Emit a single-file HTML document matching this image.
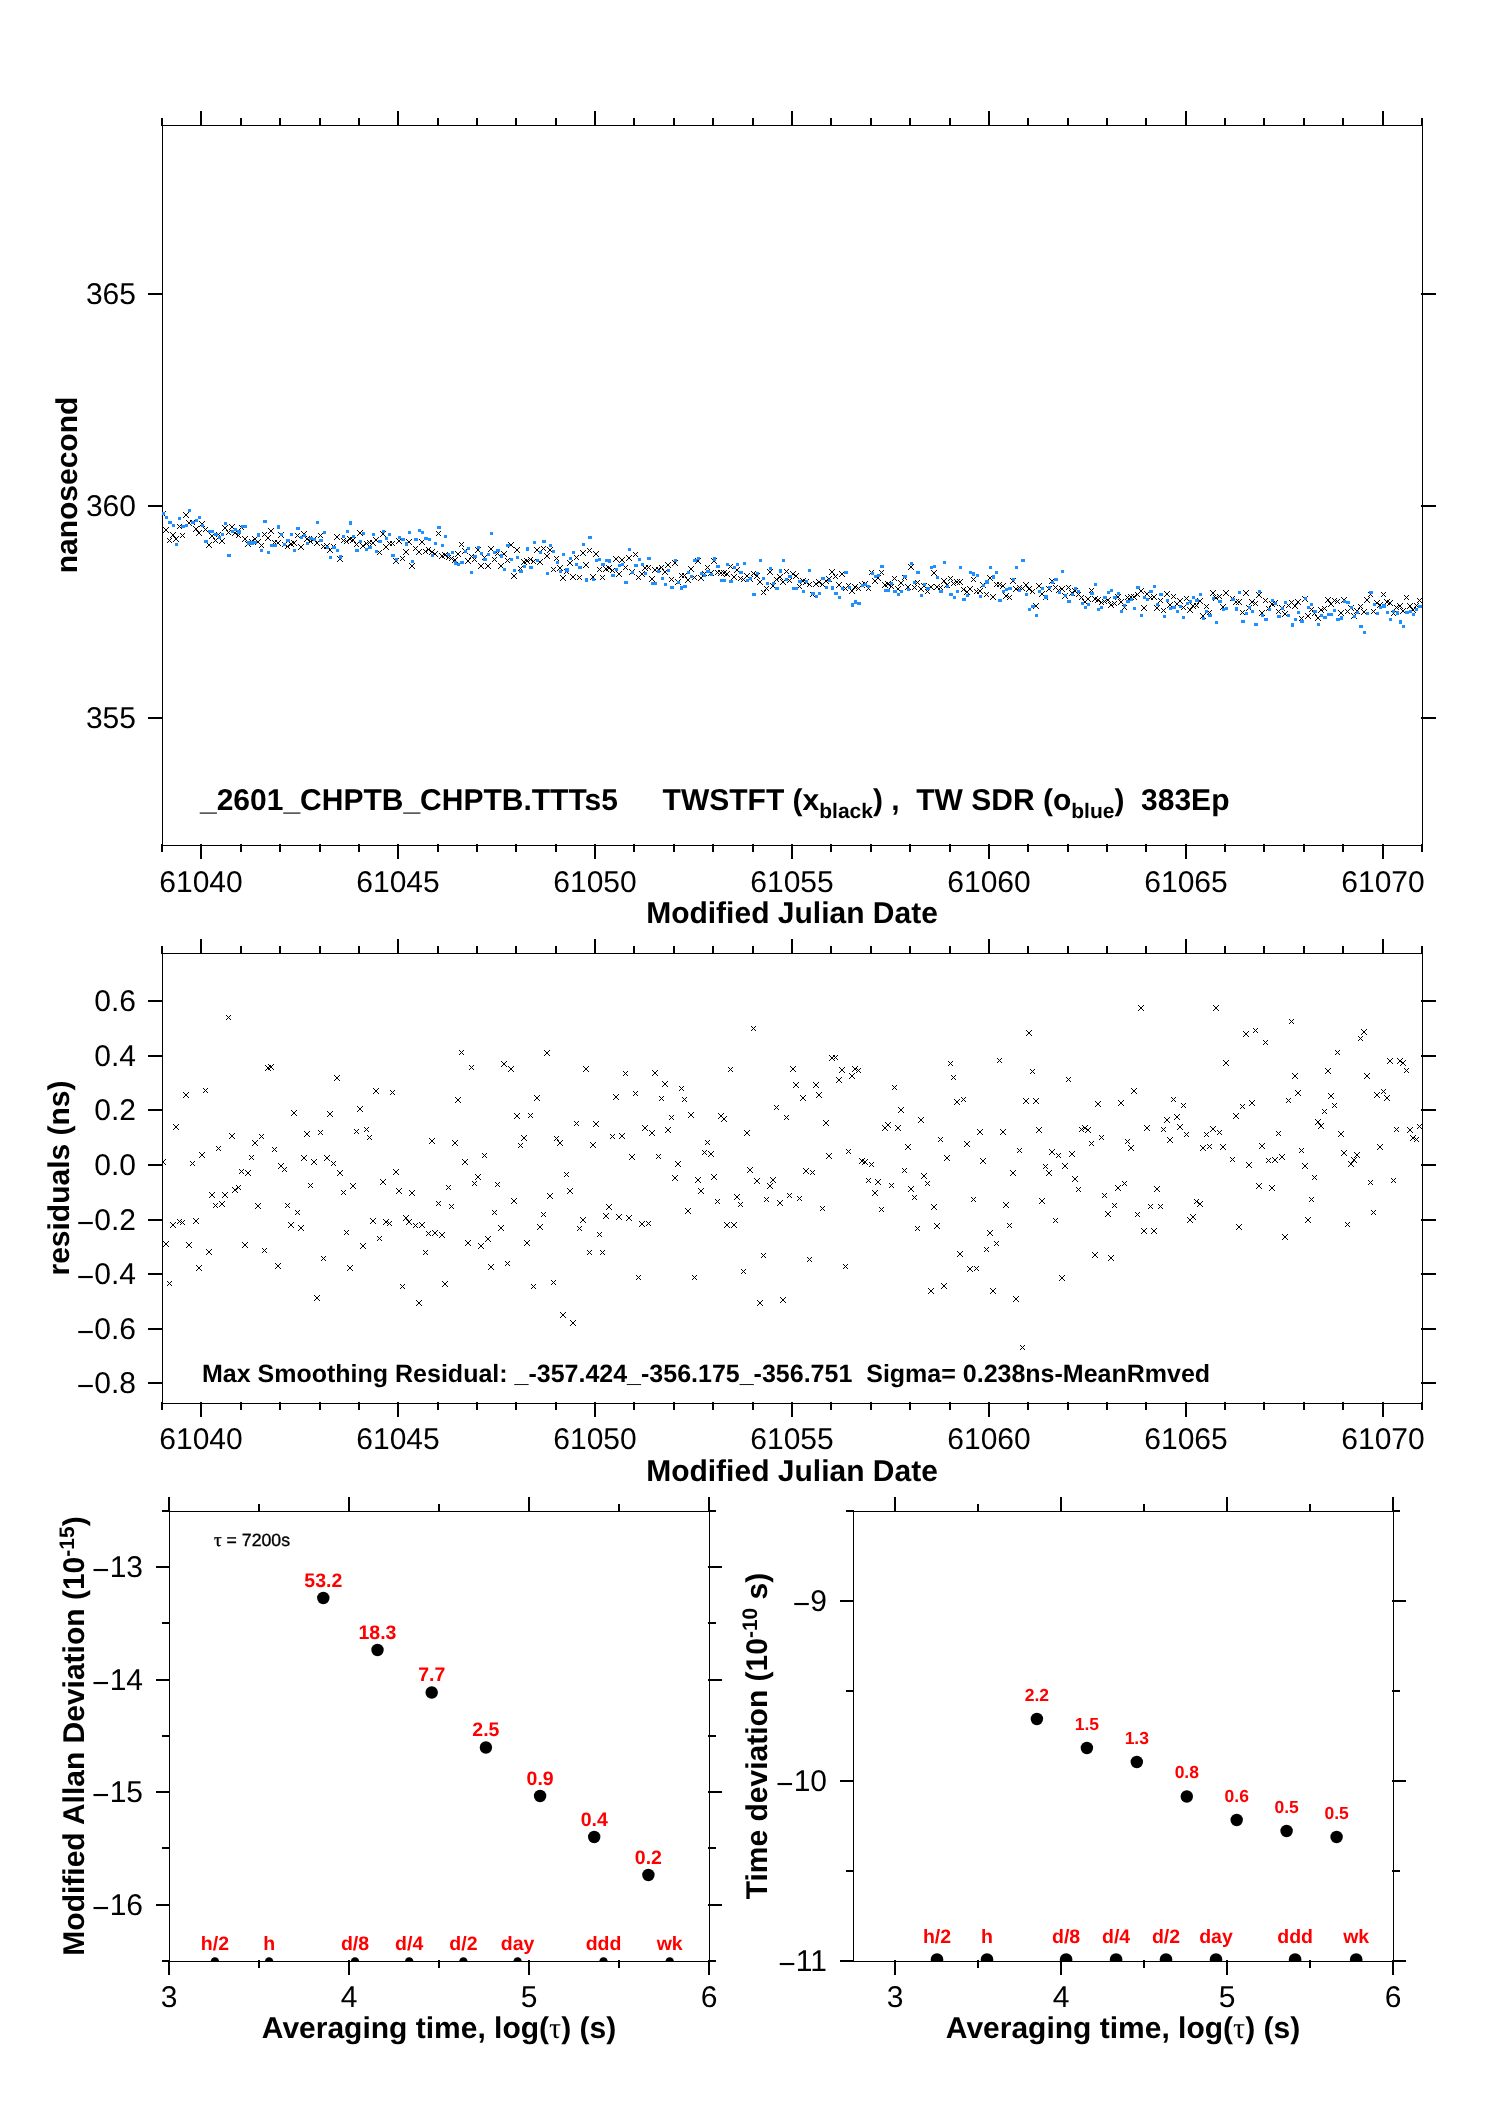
<!DOCTYPE html>
<html lang="en"><head><meta charset="utf-8"><title>TWSTFT link plot</title>
<style>html,body{margin:0;padding:0;background:#fff;overflow:hidden}svg{display:block;will-change:transform}text{white-space:pre;text-rendering:geometricPrecision}</style></head>
<body>
<svg width="1488" height="2105" viewBox="0 0 1488 2105" font-family='"Liberation Sans", Arial, Helvetica, sans-serif' shape-rendering="crispEdges">
<rect x="0" y="0" width="1488" height="2105" fill="#fff"/>
<g id="p1">
<rect x="162" y="125" width="1261" height="1" fill="#000"/>
<rect x="162" y="845" width="1261" height="1" fill="#000"/>
<rect x="162" y="125" width="1" height="721" fill="#000"/>
<rect x="1422" y="125" width="1" height="721" fill="#000"/>
<clipPath id="c1"><rect x="162" y="125" width="1261" height="721"/></clipPath>
<g id="p1data" clip-path="url(#c1)"><path fill="#000" d="M160 511h1v1h-1zm5 0h1v1h-1zm-4 1h1v1h-1zm3 0h1v1h-1zm-2 1h1v1h-1zm1 0h1v1h-1zm-1 1h1v1h-1zm1 0h1v1h-1zm-2 1h1v1h-1zm3 0h1v1h-1zm-4 1h1v1h-1zm5 0h1v1h-1zM163 527h1v1h-1zm5 0h1v1h-1zm-4 1h1v1h-1zm3 0h1v1h-1zm-2 1h1v1h-1zm1 0h1v1h-1zm-1 1h1v1h-1zm1 0h1v1h-1zm-2 1h1v1h-1zm3 0h1v1h-1zm-4 1h1v1h-1zm5 0h1v1h-1zM167 538h1v1h-1zm4 0h1v1h-1zm-3 1h1v1h-1zm2 0h1v1h-1zm-1 1h1v1h-1zm-1 1h1v1h-1zm2 0h1v1h-1zm-3 1h1v1h-1zm4 0h1v1h-1zM170 532h1v1h-1zm5 0h1v1h-1zm-4 1h1v1h-1zm3 0h1v1h-1zm-2 1h1v1h-1zm1 0h1v1h-1zm-1 1h1v1h-1zm1 0h1v1h-1zm-2 1h1v1h-1zm3 0h1v1h-1zm-4 1h1v1h-1zm5 0h1v1h-1zM173 536h1v1h-1zm5 0h1v1h-1zm-4 1h1v1h-1zm3 0h1v1h-1zm-2 1h1v1h-1zm1 0h1v1h-1zm-1 1h1v1h-1zm1 0h1v1h-1zm-2 1h1v1h-1zm3 0h1v1h-1zm-4 1h1v1h-1zm5 0h1v1h-1zM177 524h1v1h-1zm4 0h1v1h-1zm-3 1h1v1h-1zm2 0h1v1h-1zm-1 1h1v1h-1zm-1 1h1v1h-1zm2 0h1v1h-1zm-3 1h1v1h-1zm4 0h1v1h-1zM180 533h1v1h-1zm4 0h1v1h-1zm-3 1h1v1h-1zm2 0h1v1h-1zm-1 1h1v1h-1zm-1 1h1v1h-1zm2 0h1v1h-1zm-3 1h1v1h-1zm4 0h1v1h-1zM183 512h1v1h-1zm5 0h1v1h-1zm-4 1h1v1h-1zm3 0h1v1h-1zm-2 1h1v1h-1zm1 0h1v1h-1zm-1 1h1v1h-1zm1 0h1v1h-1zm-2 1h1v1h-1zm3 0h1v1h-1zm-4 1h1v1h-1zm5 0h1v1h-1zM186 520h1v1h-1zm5 0h1v1h-1zm-4 1h1v1h-1zm3 0h1v1h-1zm-2 1h1v1h-1zm1 0h1v1h-1zm-1 1h1v1h-1zm1 0h1v1h-1zm-2 1h1v1h-1zm3 0h1v1h-1zm-4 1h1v1h-1zm5 0h1v1h-1zM190 520h1v1h-1zm4 0h1v1h-1zm-3 1h1v1h-1zm2 0h1v1h-1zm-1 1h1v1h-1zm-1 1h1v1h-1zm2 0h1v1h-1zm-3 1h1v1h-1zm4 0h1v1h-1zM193 526h1v1h-1zm5 0h1v1h-1zm-4 1h1v1h-1zm3 0h1v1h-1zm-2 1h1v1h-1zm1 0h1v1h-1zm-1 1h1v1h-1zm1 0h1v1h-1zm-2 1h1v1h-1zm3 0h1v1h-1zm-4 1h1v1h-1zm5 0h1v1h-1zM196 530h1v1h-1zm5 0h1v1h-1zm-4 1h1v1h-1zm3 0h1v1h-1zm-2 1h1v1h-1zm1 0h1v1h-1zm-1 1h1v1h-1zm1 0h1v1h-1zm-2 1h1v1h-1zm3 0h1v1h-1zm-4 1h1v1h-1zm5 0h1v1h-1zM199 521h1v1h-1zm5 0h1v1h-1zm-4 1h1v1h-1zm3 0h1v1h-1zm-2 1h1v1h-1zm1 0h1v1h-1zm-1 1h1v1h-1zm1 0h1v1h-1zm-2 1h1v1h-1zm3 0h1v1h-1zm-4 1h1v1h-1zm5 0h1v1h-1zM203 527h1v1h-1zm4 0h1v1h-1zm-3 1h1v1h-1zm2 0h1v1h-1zm-1 1h1v1h-1zm-1 1h1v1h-1zm2 0h1v1h-1zm-3 1h1v1h-1zm4 0h1v1h-1zM206 542h1v1h-1zm5 0h1v1h-1zm-4 1h1v1h-1zm3 0h1v1h-1zm-2 1h1v1h-1zm1 0h1v1h-1zm-1 1h1v1h-1zm1 0h1v1h-1zm-2 1h1v1h-1zm3 0h1v1h-1zm-4 1h1v1h-1zm5 0h1v1h-1zM209 533h1v1h-1zm5 0h1v1h-1zm-4 1h1v1h-1zm3 0h1v1h-1zm-2 1h1v1h-1zm1 0h1v1h-1zm-1 1h1v1h-1zm1 0h1v1h-1zm-2 1h1v1h-1zm3 0h1v1h-1zm-4 1h1v1h-1zm5 0h1v1h-1zM213 538h1v1h-1zm4 0h1v1h-1zm-3 1h1v1h-1zm2 0h1v1h-1zm-1 1h1v1h-1zm-1 1h1v1h-1zm2 0h1v1h-1zm-3 1h1v1h-1zm4 0h1v1h-1zM216 532h1v1h-1zm4 0h1v1h-1zm-3 1h1v1h-1zm2 0h1v1h-1zm-1 1h1v1h-1zm-1 1h1v1h-1zm2 0h1v1h-1zm-3 1h1v1h-1zm4 0h1v1h-1zM219 538h1v1h-1zm5 0h1v1h-1zm-4 1h1v1h-1zm3 0h1v1h-1zm-2 1h1v1h-1zm1 0h1v1h-1zm-1 1h1v1h-1zm1 0h1v1h-1zm-2 1h1v1h-1zm3 0h1v1h-1zm-4 1h1v1h-1zm5 0h1v1h-1zM222 525h1v1h-1zm5 0h1v1h-1zm-4 1h1v1h-1zm3 0h1v1h-1zm-2 1h1v1h-1zm1 0h1v1h-1zm-1 1h1v1h-1zm1 0h1v1h-1zm-2 1h1v1h-1zm3 0h1v1h-1zm-4 1h1v1h-1zm5 0h1v1h-1zM226 530h1v1h-1zm4 0h1v1h-1zm-3 1h1v1h-1zm2 0h1v1h-1zm-1 1h1v1h-1zm-1 1h1v1h-1zm2 0h1v1h-1zm-3 1h1v1h-1zm4 0h1v1h-1zM229 524h1v1h-1zm5 0h1v1h-1zm-4 1h1v1h-1zm3 0h1v1h-1zm-2 1h1v1h-1zm1 0h1v1h-1zm-1 1h1v1h-1zm1 0h1v1h-1zm-2 1h1v1h-1zm3 0h1v1h-1zm-4 1h1v1h-1zm5 0h1v1h-1zM232 530h1v1h-1zm5 0h1v1h-1zm-4 1h1v1h-1zm3 0h1v1h-1zm-2 1h1v1h-1zm1 0h1v1h-1zm-1 1h1v1h-1zm1 0h1v1h-1zm-2 1h1v1h-1zm3 0h1v1h-1zm-4 1h1v1h-1zm5 0h1v1h-1zM236 533h1v1h-1zm4 0h1v1h-1zm-3 1h1v1h-1zm2 0h1v1h-1zm-1 1h1v1h-1zm-1 1h1v1h-1zm2 0h1v1h-1zm-3 1h1v1h-1zm4 0h1v1h-1zM239 525h1v1h-1zm4 0h1v1h-1zm-3 1h1v1h-1zm2 0h1v1h-1zm-1 1h1v1h-1zm-1 1h1v1h-1zm2 0h1v1h-1zm-3 1h1v1h-1zm4 0h1v1h-1zM242 536h1v1h-1zm5 0h1v1h-1zm-4 1h1v1h-1zm3 0h1v1h-1zm-2 1h1v1h-1zm1 0h1v1h-1zm-1 1h1v1h-1zm1 0h1v1h-1zm-2 1h1v1h-1zm3 0h1v1h-1zm-4 1h1v1h-1zm5 0h1v1h-1zM245 541h1v1h-1zm5 0h1v1h-1zm-4 1h1v1h-1zm3 0h1v1h-1zm-2 1h1v1h-1zm1 0h1v1h-1zm-1 1h1v1h-1zm1 0h1v1h-1zm-2 1h1v1h-1zm3 0h1v1h-1zm-4 1h1v1h-1zm5 0h1v1h-1zM249 539h1v1h-1zm4 0h1v1h-1zm-3 1h1v1h-1zm2 0h1v1h-1zm-1 1h1v1h-1zm-1 1h1v1h-1zm2 0h1v1h-1zm-3 1h1v1h-1zm4 0h1v1h-1zM252 536h1v1h-1zm5 0h1v1h-1zm-4 1h1v1h-1zm3 0h1v1h-1zm-2 1h1v1h-1zm1 0h1v1h-1zm-1 1h1v1h-1zm1 0h1v1h-1zm-2 1h1v1h-1zm3 0h1v1h-1zm-4 1h1v1h-1zm5 0h1v1h-1zM255 539h1v1h-1zm5 0h1v1h-1zm-4 1h1v1h-1zm3 0h1v1h-1zm-2 1h1v1h-1zm1 0h1v1h-1zm-1 1h1v1h-1zm1 0h1v1h-1zm-2 1h1v1h-1zm3 0h1v1h-1zm-4 1h1v1h-1zm5 0h1v1h-1zM259 543h1v1h-1zm4 0h1v1h-1zm-3 1h1v1h-1zm2 0h1v1h-1zm-1 1h1v1h-1zm-1 1h1v1h-1zm2 0h1v1h-1zm-3 1h1v1h-1zm4 0h1v1h-1zM262 532h1v1h-1zm4 0h1v1h-1zm-3 1h1v1h-1zm2 0h1v1h-1zm-1 1h1v1h-1zm-1 1h1v1h-1zm2 0h1v1h-1zm-3 1h1v1h-1zm4 0h1v1h-1zM265 535h1v1h-1zm5 0h1v1h-1zm-4 1h1v1h-1zm3 0h1v1h-1zm-2 1h1v1h-1zm1 0h1v1h-1zm-1 1h1v1h-1zm1 0h1v1h-1zm-2 1h1v1h-1zm3 0h1v1h-1zm-4 1h1v1h-1zm5 0h1v1h-1zM268 528h1v1h-1zm5 0h1v1h-1zm-4 1h1v1h-1zm3 0h1v1h-1zm-2 1h1v1h-1zm1 0h1v1h-1zm-1 1h1v1h-1zm1 0h1v1h-1zm-2 1h1v1h-1zm3 0h1v1h-1zm-4 1h1v1h-1zm5 0h1v1h-1zM272 540h1v1h-1zm4 0h1v1h-1zm-3 1h1v1h-1zm2 0h1v1h-1zm-1 1h1v1h-1zm-1 1h1v1h-1zm2 0h1v1h-1zm-3 1h1v1h-1zm4 0h1v1h-1zM275 540h1v1h-1zm5 0h1v1h-1zm-4 1h1v1h-1zm3 0h1v1h-1zm-2 1h1v1h-1zm1 0h1v1h-1zm-1 1h1v1h-1zm1 0h1v1h-1zm-2 1h1v1h-1zm3 0h1v1h-1zm-4 1h1v1h-1zm5 0h1v1h-1zM278 532h1v1h-1zm5 0h1v1h-1zm-4 1h1v1h-1zm3 0h1v1h-1zm-2 1h1v1h-1zm1 0h1v1h-1zm-1 1h1v1h-1zm1 0h1v1h-1zm-2 1h1v1h-1zm3 0h1v1h-1zm-4 1h1v1h-1zm5 0h1v1h-1zM282 542h1v1h-1zm4 0h1v1h-1zm-3 1h1v1h-1zm2 0h1v1h-1zm-1 1h1v1h-1zm-1 1h1v1h-1zm2 0h1v1h-1zm-3 1h1v1h-1zm4 0h1v1h-1zM285 544h1v1h-1zm4 0h1v1h-1zm-3 1h1v1h-1zm2 0h1v1h-1zm-1 1h1v1h-1zm-1 1h1v1h-1zm2 0h1v1h-1zm-3 1h1v1h-1zm4 0h1v1h-1zM288 541h1v1h-1zm5 0h1v1h-1zm-4 1h1v1h-1zm3 0h1v1h-1zm-2 1h1v1h-1zm1 0h1v1h-1zm-1 1h1v1h-1zm1 0h1v1h-1zm-2 1h1v1h-1zm3 0h1v1h-1zm-4 1h1v1h-1zm5 0h1v1h-1zM291 540h1v1h-1zm5 0h1v1h-1zm-4 1h1v1h-1zm3 0h1v1h-1zm-2 1h1v1h-1zm1 0h1v1h-1zm-1 1h1v1h-1zm1 0h1v1h-1zm-2 1h1v1h-1zm3 0h1v1h-1zm-4 1h1v1h-1zm5 0h1v1h-1zM295 533h1v1h-1zm4 0h1v1h-1zm-3 1h1v1h-1zm2 0h1v1h-1zm-1 1h1v1h-1zm-1 1h1v1h-1zm2 0h1v1h-1zm-3 1h1v1h-1zm4 0h1v1h-1zM298 544h1v1h-1zm5 0h1v1h-1zm-4 1h1v1h-1zm3 0h1v1h-1zm-2 1h1v1h-1zm1 0h1v1h-1zm-1 1h1v1h-1zm1 0h1v1h-1zm-2 1h1v1h-1zm3 0h1v1h-1zm-4 1h1v1h-1zm5 0h1v1h-1zM301 531h1v1h-1zm5 0h1v1h-1zm-4 1h1v1h-1zm3 0h1v1h-1zm-2 1h1v1h-1zm1 0h1v1h-1zm-1 1h1v1h-1zm1 0h1v1h-1zm-2 1h1v1h-1zm3 0h1v1h-1zm-4 1h1v1h-1zm5 0h1v1h-1zM304 536h1v1h-1zm5 0h1v1h-1zm-4 1h1v1h-1zm3 0h1v1h-1zm-2 1h1v1h-1zm1 0h1v1h-1zm-1 1h1v1h-1zm1 0h1v1h-1zm-2 1h1v1h-1zm3 0h1v1h-1zm-4 1h1v1h-1zm5 0h1v1h-1zM308 539h1v1h-1zm4 0h1v1h-1zm-3 1h1v1h-1zm2 0h1v1h-1zm-1 1h1v1h-1zm-1 1h1v1h-1zm2 0h1v1h-1zm-3 1h1v1h-1zm4 0h1v1h-1zM311 536h1v1h-1zm5 0h1v1h-1zm-4 1h1v1h-1zm3 0h1v1h-1zm-2 1h1v1h-1zm1 0h1v1h-1zm-1 1h1v1h-1zm1 0h1v1h-1zm-2 1h1v1h-1zm3 0h1v1h-1zm-4 1h1v1h-1zm5 0h1v1h-1zM314 540h1v1h-1zm5 0h1v1h-1zm-4 1h1v1h-1zm3 0h1v1h-1zm-2 1h1v1h-1zm1 0h1v1h-1zm-1 1h1v1h-1zm1 0h1v1h-1zm-2 1h1v1h-1zm3 0h1v1h-1zm-4 1h1v1h-1zm5 0h1v1h-1zM318 533h1v1h-1zm4 0h1v1h-1zm-3 1h1v1h-1zm2 0h1v1h-1zm-1 1h1v1h-1zm-1 1h1v1h-1zm2 0h1v1h-1zm-3 1h1v1h-1zm4 0h1v1h-1zM321 544h1v1h-1zm4 0h1v1h-1zm-3 1h1v1h-1zm2 0h1v1h-1zm-1 1h1v1h-1zm-1 1h1v1h-1zm2 0h1v1h-1zm-3 1h1v1h-1zm4 0h1v1h-1zM324 543h1v1h-1zm5 0h1v1h-1zm-4 1h1v1h-1zm3 0h1v1h-1zm-2 1h1v1h-1zm1 0h1v1h-1zm-1 1h1v1h-1zm1 0h1v1h-1zm-2 1h1v1h-1zm3 0h1v1h-1zm-4 1h1v1h-1zm5 0h1v1h-1zM327 547h1v1h-1zm5 0h1v1h-1zm-4 1h1v1h-1zm3 0h1v1h-1zm-2 1h1v1h-1zm1 0h1v1h-1zm-1 1h1v1h-1zm1 0h1v1h-1zm-2 1h1v1h-1zm3 0h1v1h-1zm-4 1h1v1h-1zm5 0h1v1h-1zM331 544h1v1h-1zm4 0h1v1h-1zm-3 1h1v1h-1zm2 0h1v1h-1zm-1 1h1v1h-1zm-1 1h1v1h-1zm2 0h1v1h-1zm-3 1h1v1h-1zm4 0h1v1h-1zM334 534h1v1h-1zm5 0h1v1h-1zm-4 1h1v1h-1zm3 0h1v1h-1zm-2 1h1v1h-1zm1 0h1v1h-1zm-1 1h1v1h-1zm1 0h1v1h-1zm-2 1h1v1h-1zm3 0h1v1h-1zm-4 1h1v1h-1zm5 0h1v1h-1zM337 556h1v1h-1zm5 0h1v1h-1zm-4 1h1v1h-1zm3 0h1v1h-1zm-2 1h1v1h-1zm1 0h1v1h-1zm-1 1h1v1h-1zm1 0h1v1h-1zm-2 1h1v1h-1zm3 0h1v1h-1zm-4 1h1v1h-1zm5 0h1v1h-1zM341 538h1v1h-1zm4 0h1v1h-1zm-3 1h1v1h-1zm2 0h1v1h-1zm-1 1h1v1h-1zm-1 1h1v1h-1zm2 0h1v1h-1zm-3 1h1v1h-1zm4 0h1v1h-1zM344 539h1v1h-1zm4 0h1v1h-1zm-3 1h1v1h-1zm2 0h1v1h-1zm-1 1h1v1h-1zm-1 1h1v1h-1zm2 0h1v1h-1zm-3 1h1v1h-1zm4 0h1v1h-1zM347 536h1v1h-1zm5 0h1v1h-1zm-4 1h1v1h-1zm3 0h1v1h-1zm-2 1h1v1h-1zm1 0h1v1h-1zm-1 1h1v1h-1zm1 0h1v1h-1zm-2 1h1v1h-1zm3 0h1v1h-1zm-4 1h1v1h-1zm5 0h1v1h-1zM350 537h1v1h-1zm5 0h1v1h-1zm-4 1h1v1h-1zm3 0h1v1h-1zm-2 1h1v1h-1zm1 0h1v1h-1zm-1 1h1v1h-1zm1 0h1v1h-1zm-2 1h1v1h-1zm3 0h1v1h-1zm-4 1h1v1h-1zm5 0h1v1h-1zM354 542h1v1h-1zm4 0h1v1h-1zm-3 1h1v1h-1zm2 0h1v1h-1zm-1 1h1v1h-1zm-1 1h1v1h-1zm2 0h1v1h-1zm-3 1h1v1h-1zm4 0h1v1h-1zM357 530h1v1h-1zm5 0h1v1h-1zm-4 1h1v1h-1zm3 0h1v1h-1zm-2 1h1v1h-1zm1 0h1v1h-1zm-1 1h1v1h-1zm1 0h1v1h-1zm-2 1h1v1h-1zm3 0h1v1h-1zm-4 1h1v1h-1zm5 0h1v1h-1zM360 543h1v1h-1zm5 0h1v1h-1zm-4 1h1v1h-1zm3 0h1v1h-1zm-2 1h1v1h-1zm1 0h1v1h-1zm-1 1h1v1h-1zm1 0h1v1h-1zm-2 1h1v1h-1zm3 0h1v1h-1zm-4 1h1v1h-1zm5 0h1v1h-1zM364 541h1v1h-1zm4 0h1v1h-1zm-3 1h1v1h-1zm2 0h1v1h-1zm-1 1h1v1h-1zm-1 1h1v1h-1zm2 0h1v1h-1zm-3 1h1v1h-1zm4 0h1v1h-1zM367 540h1v1h-1zm4 0h1v1h-1zm-3 1h1v1h-1zm2 0h1v1h-1zm-1 1h1v1h-1zm-1 1h1v1h-1zm2 0h1v1h-1zm-3 1h1v1h-1zm4 0h1v1h-1zM370 540h1v1h-1zm5 0h1v1h-1zm-4 1h1v1h-1zm3 0h1v1h-1zm-2 1h1v1h-1zm1 0h1v1h-1zm-1 1h1v1h-1zm1 0h1v1h-1zm-2 1h1v1h-1zm3 0h1v1h-1zm-4 1h1v1h-1zm5 0h1v1h-1zM373 537h1v1h-1zm5 0h1v1h-1zm-4 1h1v1h-1zm3 0h1v1h-1zm-2 1h1v1h-1zm1 0h1v1h-1zm-1 1h1v1h-1zm1 0h1v1h-1zm-2 1h1v1h-1zm3 0h1v1h-1zm-4 1h1v1h-1zm5 0h1v1h-1zM377 550h1v1h-1zm4 0h1v1h-1zm-3 1h1v1h-1zm2 0h1v1h-1zm-1 1h1v1h-1zm-1 1h1v1h-1zm2 0h1v1h-1zm-3 1h1v1h-1zm4 0h1v1h-1zM380 531h1v1h-1zm5 0h1v1h-1zm-4 1h1v1h-1zm3 0h1v1h-1zm-2 1h1v1h-1zm1 0h1v1h-1zm-1 1h1v1h-1zm1 0h1v1h-1zm-2 1h1v1h-1zm3 0h1v1h-1zm-4 1h1v1h-1zm5 0h1v1h-1zM383 544h1v1h-1zm5 0h1v1h-1zm-4 1h1v1h-1zm3 0h1v1h-1zm-2 1h1v1h-1zm1 0h1v1h-1zm-1 1h1v1h-1zm1 0h1v1h-1zm-2 1h1v1h-1zm3 0h1v1h-1zm-4 1h1v1h-1zm5 0h1v1h-1zM387 541h1v1h-1zm4 0h1v1h-1zm-3 1h1v1h-1zm2 0h1v1h-1zm-1 1h1v1h-1zm-1 1h1v1h-1zm2 0h1v1h-1zm-3 1h1v1h-1zm4 0h1v1h-1zM390 541h1v1h-1zm4 0h1v1h-1zm-3 1h1v1h-1zm2 0h1v1h-1zm-1 1h1v1h-1zm-1 1h1v1h-1zm2 0h1v1h-1zm-3 1h1v1h-1zm4 0h1v1h-1zM393 558h1v1h-1zm5 0h1v1h-1zm-4 1h1v1h-1zm3 0h1v1h-1zm-2 1h1v1h-1zm1 0h1v1h-1zm-1 1h1v1h-1zm1 0h1v1h-1zm-2 1h1v1h-1zm3 0h1v1h-1zm-4 1h1v1h-1zm5 0h1v1h-1zM396 538h1v1h-1zm5 0h1v1h-1zm-4 1h1v1h-1zm3 0h1v1h-1zm-2 1h1v1h-1zm1 0h1v1h-1zm-1 1h1v1h-1zm1 0h1v1h-1zm-2 1h1v1h-1zm3 0h1v1h-1zm-4 1h1v1h-1zm5 0h1v1h-1zM400 556h1v1h-1zm4 0h1v1h-1zm-3 1h1v1h-1zm2 0h1v1h-1zm-1 1h1v1h-1zm-1 1h1v1h-1zm2 0h1v1h-1zm-3 1h1v1h-1zm4 0h1v1h-1zM403 549h1v1h-1zm5 0h1v1h-1zm-4 1h1v1h-1zm3 0h1v1h-1zm-2 1h1v1h-1zm1 0h1v1h-1zm-1 1h1v1h-1zm1 0h1v1h-1zm-2 1h1v1h-1zm3 0h1v1h-1zm-4 1h1v1h-1zm5 0h1v1h-1zM406 539h1v1h-1zm5 0h1v1h-1zm-4 1h1v1h-1zm3 0h1v1h-1zm-2 1h1v1h-1zm1 0h1v1h-1zm-1 1h1v1h-1zm1 0h1v1h-1zm-2 1h1v1h-1zm3 0h1v1h-1zm-4 1h1v1h-1zm5 0h1v1h-1zM409 563h1v1h-1zm5 0h1v1h-1zm-4 1h1v1h-1zm3 0h1v1h-1zm-2 1h1v1h-1zm1 0h1v1h-1zm-1 1h1v1h-1zm1 0h1v1h-1zm-2 1h1v1h-1zm3 0h1v1h-1zm-4 1h1v1h-1zm5 0h1v1h-1zM413 546h1v1h-1zm4 0h1v1h-1zm-3 1h1v1h-1zm2 0h1v1h-1zm-1 1h1v1h-1zm-1 1h1v1h-1zm2 0h1v1h-1zm-3 1h1v1h-1zm4 0h1v1h-1zM416 549h1v1h-1zm5 0h1v1h-1zm-4 1h1v1h-1zm3 0h1v1h-1zm-2 1h1v1h-1zm1 0h1v1h-1zm-1 1h1v1h-1zm1 0h1v1h-1zm-2 1h1v1h-1zm3 0h1v1h-1zm-4 1h1v1h-1zm5 0h1v1h-1zM419 539h1v1h-1zm5 0h1v1h-1zm-4 1h1v1h-1zm3 0h1v1h-1zm-2 1h1v1h-1zm1 0h1v1h-1zm-1 1h1v1h-1zm1 0h1v1h-1zm-2 1h1v1h-1zm3 0h1v1h-1zm-4 1h1v1h-1zm5 0h1v1h-1zM423 549h1v1h-1zm4 0h1v1h-1zm-3 1h1v1h-1zm2 0h1v1h-1zm-1 1h1v1h-1zm-1 1h1v1h-1zm2 0h1v1h-1zm-3 1h1v1h-1zm4 0h1v1h-1zM426 547h1v1h-1zm4 0h1v1h-1zm-3 1h1v1h-1zm2 0h1v1h-1zm-1 1h1v1h-1zm-1 1h1v1h-1zm2 0h1v1h-1zm-3 1h1v1h-1zm4 0h1v1h-1zM429 549h1v1h-1zm5 0h1v1h-1zm-4 1h1v1h-1zm3 0h1v1h-1zm-2 1h1v1h-1zm1 0h1v1h-1zm-1 1h1v1h-1zm1 0h1v1h-1zm-2 1h1v1h-1zm3 0h1v1h-1zm-4 1h1v1h-1zm5 0h1v1h-1zM432 551h1v1h-1zm5 0h1v1h-1zm-4 1h1v1h-1zm3 0h1v1h-1zm-2 1h1v1h-1zm1 0h1v1h-1zm-1 1h1v1h-1zm1 0h1v1h-1zm-2 1h1v1h-1zm3 0h1v1h-1zm-4 1h1v1h-1zm5 0h1v1h-1zM436 531h1v1h-1zm4 0h1v1h-1zm-3 1h1v1h-1zm2 0h1v1h-1zm-1 1h1v1h-1zm-1 1h1v1h-1zm2 0h1v1h-1zm-3 1h1v1h-1zm4 0h1v1h-1zM439 553h1v1h-1zm5 0h1v1h-1zm-4 1h1v1h-1zm3 0h1v1h-1zm-2 1h1v1h-1zm1 0h1v1h-1zm-1 1h1v1h-1zm1 0h1v1h-1zm-2 1h1v1h-1zm3 0h1v1h-1zm-4 1h1v1h-1zm5 0h1v1h-1zM442 552h1v1h-1zm5 0h1v1h-1zm-4 1h1v1h-1zm3 0h1v1h-1zm-2 1h1v1h-1zm1 0h1v1h-1zm-1 1h1v1h-1zm1 0h1v1h-1zm-2 1h1v1h-1zm3 0h1v1h-1zm-4 1h1v1h-1zm5 0h1v1h-1zM446 555h1v1h-1zm4 0h1v1h-1zm-3 1h1v1h-1zm2 0h1v1h-1zm-1 1h1v1h-1zm-1 1h1v1h-1zm2 0h1v1h-1zm-3 1h1v1h-1zm4 0h1v1h-1zM449 556h1v1h-1zm4 0h1v1h-1zm-3 1h1v1h-1zm2 0h1v1h-1zm-1 1h1v1h-1zm-1 1h1v1h-1zm2 0h1v1h-1zm-3 1h1v1h-1zm4 0h1v1h-1zM452 557h1v1h-1zm5 0h1v1h-1zm-4 1h1v1h-1zm3 0h1v1h-1zm-2 1h1v1h-1zm1 0h1v1h-1zm-1 1h1v1h-1zm1 0h1v1h-1zm-2 1h1v1h-1zm3 0h1v1h-1zm-4 1h1v1h-1zm5 0h1v1h-1zM455 551h1v1h-1zm5 0h1v1h-1zm-4 1h1v1h-1zm3 0h1v1h-1zm-2 1h1v1h-1zm1 0h1v1h-1zm-1 1h1v1h-1zm1 0h1v1h-1zm-2 1h1v1h-1zm3 0h1v1h-1zm-4 1h1v1h-1zm5 0h1v1h-1zM459 542h1v1h-1zm4 0h1v1h-1zm-3 1h1v1h-1zm2 0h1v1h-1zm-1 1h1v1h-1zm-1 1h1v1h-1zm2 0h1v1h-1zm-3 1h1v1h-1zm4 0h1v1h-1zM462 548h1v1h-1zm5 0h1v1h-1zm-4 1h1v1h-1zm3 0h1v1h-1zm-2 1h1v1h-1zm1 0h1v1h-1zm-1 1h1v1h-1zm1 0h1v1h-1zm-2 1h1v1h-1zm3 0h1v1h-1zm-4 1h1v1h-1zm5 0h1v1h-1zM465 558h1v1h-1zm5 0h1v1h-1zm-4 1h1v1h-1zm3 0h1v1h-1zm-2 1h1v1h-1zm1 0h1v1h-1zm-1 1h1v1h-1zm1 0h1v1h-1zm-2 1h1v1h-1zm3 0h1v1h-1zm-4 1h1v1h-1zm5 0h1v1h-1zM469 554h1v1h-1zm4 0h1v1h-1zm-3 1h1v1h-1zm2 0h1v1h-1zm-1 1h1v1h-1zm-1 1h1v1h-1zm2 0h1v1h-1zm-3 1h1v1h-1zm4 0h1v1h-1zM472 557h1v1h-1zm4 0h1v1h-1zm-3 1h1v1h-1zm2 0h1v1h-1zm-1 1h1v1h-1zm-1 1h1v1h-1zm2 0h1v1h-1zm-3 1h1v1h-1zm4 0h1v1h-1zM475 547h1v1h-1zm5 0h1v1h-1zm-4 1h1v1h-1zm3 0h1v1h-1zm-2 1h1v1h-1zm1 0h1v1h-1zm-1 1h1v1h-1zm1 0h1v1h-1zm-2 1h1v1h-1zm3 0h1v1h-1zm-4 1h1v1h-1zm5 0h1v1h-1zM478 563h1v1h-1zm5 0h1v1h-1zm-4 1h1v1h-1zm3 0h1v1h-1zm-2 1h1v1h-1zm1 0h1v1h-1zm-1 1h1v1h-1zm1 0h1v1h-1zm-2 1h1v1h-1zm3 0h1v1h-1zm-4 1h1v1h-1zm5 0h1v1h-1zM482 555h1v1h-1zm4 0h1v1h-1zm-3 1h1v1h-1zm2 0h1v1h-1zm-1 1h1v1h-1zm-1 1h1v1h-1zm2 0h1v1h-1zm-3 1h1v1h-1zm4 0h1v1h-1zM485 563h1v1h-1zm5 0h1v1h-1zm-4 1h1v1h-1zm3 0h1v1h-1zm-2 1h1v1h-1zm1 0h1v1h-1zm-1 1h1v1h-1zm1 0h1v1h-1zm-2 1h1v1h-1zm3 0h1v1h-1zm-4 1h1v1h-1zm5 0h1v1h-1zM488 546h1v1h-1zm5 0h1v1h-1zm-4 1h1v1h-1zm3 0h1v1h-1zm-2 1h1v1h-1zm1 0h1v1h-1zm-1 1h1v1h-1zm1 0h1v1h-1zm-2 1h1v1h-1zm3 0h1v1h-1zm-4 1h1v1h-1zm5 0h1v1h-1zM492 557h1v1h-1zm4 0h1v1h-1zm-3 1h1v1h-1zm2 0h1v1h-1zm-1 1h1v1h-1zm-1 1h1v1h-1zm2 0h1v1h-1zm-3 1h1v1h-1zm4 0h1v1h-1zM495 551h1v1h-1zm4 0h1v1h-1zm-3 1h1v1h-1zm2 0h1v1h-1zm-1 1h1v1h-1zm-1 1h1v1h-1zm2 0h1v1h-1zm-3 1h1v1h-1zm4 0h1v1h-1zM498 563h1v1h-1zm5 0h1v1h-1zm-4 1h1v1h-1zm3 0h1v1h-1zm-2 1h1v1h-1zm1 0h1v1h-1zm-1 1h1v1h-1zm1 0h1v1h-1zm-2 1h1v1h-1zm3 0h1v1h-1zm-4 1h1v1h-1zm5 0h1v1h-1zM501 551h1v1h-1zm5 0h1v1h-1zm-4 1h1v1h-1zm3 0h1v1h-1zm-2 1h1v1h-1zm1 0h1v1h-1zm-1 1h1v1h-1zm1 0h1v1h-1zm-2 1h1v1h-1zm3 0h1v1h-1zm-4 1h1v1h-1zm5 0h1v1h-1zM505 558h1v1h-1zm4 0h1v1h-1zm-3 1h1v1h-1zm2 0h1v1h-1zm-1 1h1v1h-1zm-1 1h1v1h-1zm2 0h1v1h-1zm-3 1h1v1h-1zm4 0h1v1h-1zM508 542h1v1h-1zm5 0h1v1h-1zm-4 1h1v1h-1zm3 0h1v1h-1zm-2 1h1v1h-1zm1 0h1v1h-1zm-1 1h1v1h-1zm1 0h1v1h-1zm-2 1h1v1h-1zm3 0h1v1h-1zm-4 1h1v1h-1zm5 0h1v1h-1zM511 573h1v1h-1zm5 0h1v1h-1zm-4 1h1v1h-1zm3 0h1v1h-1zm-2 1h1v1h-1zm1 0h1v1h-1zm-1 1h1v1h-1zm1 0h1v1h-1zm-2 1h1v1h-1zm3 0h1v1h-1zm-4 1h1v1h-1zm5 0h1v1h-1zM514 547h1v1h-1zm5 0h1v1h-1zm-4 1h1v1h-1zm3 0h1v1h-1zm-2 1h1v1h-1zm1 0h1v1h-1zm-1 1h1v1h-1zm1 0h1v1h-1zm-2 1h1v1h-1zm3 0h1v1h-1zm-4 1h1v1h-1zm5 0h1v1h-1zM518 566h1v1h-1zm4 0h1v1h-1zm-3 1h1v1h-1zm2 0h1v1h-1zm-1 1h1v1h-1zm-1 1h1v1h-1zm2 0h1v1h-1zm-3 1h1v1h-1zm4 0h1v1h-1zM521 559h1v1h-1zm5 0h1v1h-1zm-4 1h1v1h-1zm3 0h1v1h-1zm-2 1h1v1h-1zm1 0h1v1h-1zm-1 1h1v1h-1zm1 0h1v1h-1zm-2 1h1v1h-1zm3 0h1v1h-1zm-4 1h1v1h-1zm5 0h1v1h-1zM524 558h1v1h-1zm5 0h1v1h-1zm-4 1h1v1h-1zm3 0h1v1h-1zm-2 1h1v1h-1zm1 0h1v1h-1zm-1 1h1v1h-1zm1 0h1v1h-1zm-2 1h1v1h-1zm3 0h1v1h-1zm-4 1h1v1h-1zm5 0h1v1h-1zM528 557h1v1h-1zm4 0h1v1h-1zm-3 1h1v1h-1zm2 0h1v1h-1zm-1 1h1v1h-1zm-1 1h1v1h-1zm2 0h1v1h-1zm-3 1h1v1h-1zm4 0h1v1h-1zM531 559h1v1h-1zm4 0h1v1h-1zm-3 1h1v1h-1zm2 0h1v1h-1zm-1 1h1v1h-1zm-1 1h1v1h-1zm2 0h1v1h-1zm-3 1h1v1h-1zm4 0h1v1h-1zM534 547h1v1h-1zm5 0h1v1h-1zm-4 1h1v1h-1zm3 0h1v1h-1zm-2 1h1v1h-1zm1 0h1v1h-1zm-1 1h1v1h-1zm1 0h1v1h-1zm-2 1h1v1h-1zm3 0h1v1h-1zm-4 1h1v1h-1zm5 0h1v1h-1zM537 559h1v1h-1zm5 0h1v1h-1zm-4 1h1v1h-1zm3 0h1v1h-1zm-2 1h1v1h-1zm1 0h1v1h-1zm-1 1h1v1h-1zm1 0h1v1h-1zm-2 1h1v1h-1zm3 0h1v1h-1zm-4 1h1v1h-1zm5 0h1v1h-1zM541 546h1v1h-1zm4 0h1v1h-1zm-3 1h1v1h-1zm2 0h1v1h-1zm-1 1h1v1h-1zm-1 1h1v1h-1zm2 0h1v1h-1zm-3 1h1v1h-1zm4 0h1v1h-1zM544 553h1v1h-1zm5 0h1v1h-1zm-4 1h1v1h-1zm3 0h1v1h-1zm-2 1h1v1h-1zm1 0h1v1h-1zm-1 1h1v1h-1zm1 0h1v1h-1zm-2 1h1v1h-1zm3 0h1v1h-1zm-4 1h1v1h-1zm5 0h1v1h-1zM547 547h1v1h-1zm5 0h1v1h-1zm-4 1h1v1h-1zm3 0h1v1h-1zm-2 1h1v1h-1zm1 0h1v1h-1zm-1 1h1v1h-1zm1 0h1v1h-1zm-2 1h1v1h-1zm3 0h1v1h-1zm-4 1h1v1h-1zm5 0h1v1h-1zM551 567h1v1h-1zm4 0h1v1h-1zm-3 1h1v1h-1zm2 0h1v1h-1zm-1 1h1v1h-1zm-1 1h1v1h-1zm2 0h1v1h-1zm-3 1h1v1h-1zm4 0h1v1h-1zM554 556h1v1h-1zm4 0h1v1h-1zm-3 1h1v1h-1zm2 0h1v1h-1zm-1 1h1v1h-1zm-1 1h1v1h-1zm2 0h1v1h-1zm-3 1h1v1h-1zm4 0h1v1h-1zM557 565h1v1h-1zm5 0h1v1h-1zm-4 1h1v1h-1zm3 0h1v1h-1zm-2 1h1v1h-1zm1 0h1v1h-1zm-1 1h1v1h-1zm1 0h1v1h-1zm-2 1h1v1h-1zm3 0h1v1h-1zm-4 1h1v1h-1zm5 0h1v1h-1zM560 575h1v1h-1zm5 0h1v1h-1zm-4 1h1v1h-1zm3 0h1v1h-1zm-2 1h1v1h-1zm1 0h1v1h-1zm-1 1h1v1h-1zm1 0h1v1h-1zm-2 1h1v1h-1zm3 0h1v1h-1zm-4 1h1v1h-1zm5 0h1v1h-1zM564 569h1v1h-1zm4 0h1v1h-1zm-3 1h1v1h-1zm2 0h1v1h-1zm-1 1h1v1h-1zm-1 1h1v1h-1zm2 0h1v1h-1zm-3 1h1v1h-1zm4 0h1v1h-1zM567 560h1v1h-1zm5 0h1v1h-1zm-4 1h1v1h-1zm3 0h1v1h-1zm-2 1h1v1h-1zm1 0h1v1h-1zm-1 1h1v1h-1zm1 0h1v1h-1zm-2 1h1v1h-1zm3 0h1v1h-1zm-4 1h1v1h-1zm5 0h1v1h-1zM570 574h1v1h-1zm5 0h1v1h-1zm-4 1h1v1h-1zm3 0h1v1h-1zm-2 1h1v1h-1zm1 0h1v1h-1zm-1 1h1v1h-1zm1 0h1v1h-1zm-2 1h1v1h-1zm3 0h1v1h-1zm-4 1h1v1h-1zm5 0h1v1h-1zM574 555h1v1h-1zm4 0h1v1h-1zm-3 1h1v1h-1zm2 0h1v1h-1zm-1 1h1v1h-1zm-1 1h1v1h-1zm2 0h1v1h-1zm-3 1h1v1h-1zm4 0h1v1h-1zM577 575h1v1h-1zm4 0h1v1h-1zm-3 1h1v1h-1zm2 0h1v1h-1zm-1 1h1v1h-1zm-1 1h1v1h-1zm2 0h1v1h-1zm-3 1h1v1h-1zm4 0h1v1h-1zM580 550h1v1h-1zm5 0h1v1h-1zm-4 1h1v1h-1zm3 0h1v1h-1zm-2 1h1v1h-1zm1 0h1v1h-1zm-1 1h1v1h-1zm1 0h1v1h-1zm-2 1h1v1h-1zm3 0h1v1h-1zm-4 1h1v1h-1zm5 0h1v1h-1zM583 562h1v1h-1zm5 0h1v1h-1zm-4 1h1v1h-1zm3 0h1v1h-1zm-2 1h1v1h-1zm1 0h1v1h-1zm-1 1h1v1h-1zm1 0h1v1h-1zm-2 1h1v1h-1zm3 0h1v1h-1zm-4 1h1v1h-1zm5 0h1v1h-1zM587 548h1v1h-1zm4 0h1v1h-1zm-3 1h1v1h-1zm2 0h1v1h-1zm-1 1h1v1h-1zm-1 1h1v1h-1zm2 0h1v1h-1zm-3 1h1v1h-1zm4 0h1v1h-1zM590 574h1v1h-1zm5 0h1v1h-1zm-4 1h1v1h-1zm3 0h1v1h-1zm-2 1h1v1h-1zm1 0h1v1h-1zm-1 1h1v1h-1zm1 0h1v1h-1zm-2 1h1v1h-1zm3 0h1v1h-1zm-4 1h1v1h-1zm5 0h1v1h-1zM593 551h1v1h-1zm5 0h1v1h-1zm-4 1h1v1h-1zm3 0h1v1h-1zm-2 1h1v1h-1zm1 0h1v1h-1zm-1 1h1v1h-1zm1 0h1v1h-1zm-2 1h1v1h-1zm3 0h1v1h-1zm-4 1h1v1h-1zm5 0h1v1h-1zM597 567h1v1h-1zm4 0h1v1h-1zm-3 1h1v1h-1zm2 0h1v1h-1zm-1 1h1v1h-1zm-1 1h1v1h-1zm2 0h1v1h-1zm-3 1h1v1h-1zm4 0h1v1h-1zM600 575h1v1h-1zm4 0h1v1h-1zm-3 1h1v1h-1zm2 0h1v1h-1zm-1 1h1v1h-1zm-1 1h1v1h-1zm2 0h1v1h-1zm-3 1h1v1h-1zm4 0h1v1h-1zM603 566h1v1h-1zm5 0h1v1h-1zm-4 1h1v1h-1zm3 0h1v1h-1zm-2 1h1v1h-1zm1 0h1v1h-1zm-1 1h1v1h-1zm1 0h1v1h-1zm-2 1h1v1h-1zm3 0h1v1h-1zm-4 1h1v1h-1zm5 0h1v1h-1zM606 565h1v1h-1zm5 0h1v1h-1zm-4 1h1v1h-1zm3 0h1v1h-1zm-2 1h1v1h-1zm1 0h1v1h-1zm-1 1h1v1h-1zm1 0h1v1h-1zm-2 1h1v1h-1zm3 0h1v1h-1zm-4 1h1v1h-1zm5 0h1v1h-1zM610 568h1v1h-1zm4 0h1v1h-1zm-3 1h1v1h-1zm2 0h1v1h-1zm-1 1h1v1h-1zm-1 1h1v1h-1zm2 0h1v1h-1zm-3 1h1v1h-1zm4 0h1v1h-1zM613 556h1v1h-1zm5 0h1v1h-1zm-4 1h1v1h-1zm3 0h1v1h-1zm-2 1h1v1h-1zm1 0h1v1h-1zm-1 1h1v1h-1zm1 0h1v1h-1zm-2 1h1v1h-1zm3 0h1v1h-1zm-4 1h1v1h-1zm5 0h1v1h-1zM616 571h1v1h-1zm5 0h1v1h-1zm-4 1h1v1h-1zm3 0h1v1h-1zm-2 1h1v1h-1zm1 0h1v1h-1zm-1 1h1v1h-1zm1 0h1v1h-1zm-2 1h1v1h-1zm3 0h1v1h-1zm-4 1h1v1h-1zm5 0h1v1h-1zM619 557h1v1h-1zm5 0h1v1h-1zm-4 1h1v1h-1zm3 0h1v1h-1zm-2 1h1v1h-1zm1 0h1v1h-1zm-1 1h1v1h-1zm1 0h1v1h-1zm-2 1h1v1h-1zm3 0h1v1h-1zm-4 1h1v1h-1zm5 0h1v1h-1zM623 565h1v1h-1zm4 0h1v1h-1zm-3 1h1v1h-1zm2 0h1v1h-1zm-1 1h1v1h-1zm-1 1h1v1h-1zm2 0h1v1h-1zm-3 1h1v1h-1zm4 0h1v1h-1zM626 555h1v1h-1zm5 0h1v1h-1zm-4 1h1v1h-1zm3 0h1v1h-1zm-2 1h1v1h-1zm1 0h1v1h-1zm-1 1h1v1h-1zm1 0h1v1h-1zm-2 1h1v1h-1zm3 0h1v1h-1zm-4 1h1v1h-1zm5 0h1v1h-1zM629 569h1v1h-1zm5 0h1v1h-1zm-4 1h1v1h-1zm3 0h1v1h-1zm-2 1h1v1h-1zm1 0h1v1h-1zm-1 1h1v1h-1zm1 0h1v1h-1zm-2 1h1v1h-1zm3 0h1v1h-1zm-4 1h1v1h-1zm5 0h1v1h-1zM633 552h1v1h-1zm4 0h1v1h-1zm-3 1h1v1h-1zm2 0h1v1h-1zm-1 1h1v1h-1zm-1 1h1v1h-1zm2 0h1v1h-1zm-3 1h1v1h-1zm4 0h1v1h-1zM636 575h1v1h-1zm4 0h1v1h-1zm-3 1h1v1h-1zm2 0h1v1h-1zm-1 1h1v1h-1zm-1 1h1v1h-1zm2 0h1v1h-1zm-3 1h1v1h-1zm4 0h1v1h-1zM639 571h1v1h-1zm5 0h1v1h-1zm-4 1h1v1h-1zm3 0h1v1h-1zm-2 1h1v1h-1zm1 0h1v1h-1zm-1 1h1v1h-1zm1 0h1v1h-1zm-2 1h1v1h-1zm3 0h1v1h-1zm-4 1h1v1h-1zm5 0h1v1h-1zM642 565h1v1h-1zm5 0h1v1h-1zm-4 1h1v1h-1zm3 0h1v1h-1zm-2 1h1v1h-1zm1 0h1v1h-1zm-1 1h1v1h-1zm1 0h1v1h-1zm-2 1h1v1h-1zm3 0h1v1h-1zm-4 1h1v1h-1zm5 0h1v1h-1zM646 565h1v1h-1zm4 0h1v1h-1zm-3 1h1v1h-1zm2 0h1v1h-1zm-1 1h1v1h-1zm-1 1h1v1h-1zm2 0h1v1h-1zm-3 1h1v1h-1zm4 0h1v1h-1zM649 576h1v1h-1zm5 0h1v1h-1zm-4 1h1v1h-1zm3 0h1v1h-1zm-2 1h1v1h-1zm1 0h1v1h-1zm-1 1h1v1h-1zm1 0h1v1h-1zm-2 1h1v1h-1zm3 0h1v1h-1zm-4 1h1v1h-1zm5 0h1v1h-1zM652 567h1v1h-1zm5 0h1v1h-1zm-4 1h1v1h-1zm3 0h1v1h-1zm-2 1h1v1h-1zm1 0h1v1h-1zm-1 1h1v1h-1zm1 0h1v1h-1zm-2 1h1v1h-1zm3 0h1v1h-1zm-4 1h1v1h-1zm5 0h1v1h-1zM656 567h1v1h-1zm4 0h1v1h-1zm-3 1h1v1h-1zm2 0h1v1h-1zm-1 1h1v1h-1zm-1 1h1v1h-1zm2 0h1v1h-1zm-3 1h1v1h-1zm4 0h1v1h-1zM659 565h1v1h-1zm4 0h1v1h-1zm-3 1h1v1h-1zm2 0h1v1h-1zm-1 1h1v1h-1zm-1 1h1v1h-1zm2 0h1v1h-1zm-3 1h1v1h-1zm4 0h1v1h-1zM662 569h1v1h-1zm5 0h1v1h-1zm-4 1h1v1h-1zm3 0h1v1h-1zm-2 1h1v1h-1zm1 0h1v1h-1zm-1 1h1v1h-1zm1 0h1v1h-1zm-2 1h1v1h-1zm3 0h1v1h-1zm-4 1h1v1h-1zm5 0h1v1h-1zM665 562h1v1h-1zm5 0h1v1h-1zm-4 1h1v1h-1zm3 0h1v1h-1zm-2 1h1v1h-1zm1 0h1v1h-1zm-1 1h1v1h-1zm1 0h1v1h-1zm-2 1h1v1h-1zm3 0h1v1h-1zm-4 1h1v1h-1zm5 0h1v1h-1zM669 577h1v1h-1zm4 0h1v1h-1zm-3 1h1v1h-1zm2 0h1v1h-1zm-1 1h1v1h-1zm-1 1h1v1h-1zm2 0h1v1h-1zm-3 1h1v1h-1zm4 0h1v1h-1zM672 560h1v1h-1zm5 0h1v1h-1zm-4 1h1v1h-1zm3 0h1v1h-1zm-2 1h1v1h-1zm1 0h1v1h-1zm-1 1h1v1h-1zm1 0h1v1h-1zm-2 1h1v1h-1zm3 0h1v1h-1zm-4 1h1v1h-1zm5 0h1v1h-1zM675 579h1v1h-1zm5 0h1v1h-1zm-4 1h1v1h-1zm3 0h1v1h-1zm-2 1h1v1h-1zm1 0h1v1h-1zm-1 1h1v1h-1zm1 0h1v1h-1zm-2 1h1v1h-1zm3 0h1v1h-1zm-4 1h1v1h-1zm5 0h1v1h-1zM679 573h1v1h-1zm4 0h1v1h-1zm-3 1h1v1h-1zm2 0h1v1h-1zm-1 1h1v1h-1zm-1 1h1v1h-1zm2 0h1v1h-1zm-3 1h1v1h-1zm4 0h1v1h-1zM682 573h1v1h-1zm4 0h1v1h-1zm-3 1h1v1h-1zm2 0h1v1h-1zm-1 1h1v1h-1zm-1 1h1v1h-1zm2 0h1v1h-1zm-3 1h1v1h-1zm4 0h1v1h-1zM685 577h1v1h-1zm5 0h1v1h-1zm-4 1h1v1h-1zm3 0h1v1h-1zm-2 1h1v1h-1zm1 0h1v1h-1zm-1 1h1v1h-1zm1 0h1v1h-1zm-2 1h1v1h-1zm3 0h1v1h-1zm-4 1h1v1h-1zm5 0h1v1h-1zM688 566h1v1h-1zm5 0h1v1h-1zm-4 1h1v1h-1zm3 0h1v1h-1zm-2 1h1v1h-1zm1 0h1v1h-1zm-1 1h1v1h-1zm1 0h1v1h-1zm-2 1h1v1h-1zm3 0h1v1h-1zm-4 1h1v1h-1zm5 0h1v1h-1zM692 575h1v1h-1zm4 0h1v1h-1zm-3 1h1v1h-1zm2 0h1v1h-1zm-1 1h1v1h-1zm-1 1h1v1h-1zm2 0h1v1h-1zm-3 1h1v1h-1zm4 0h1v1h-1zM695 558h1v1h-1zm5 0h1v1h-1zm-4 1h1v1h-1zm3 0h1v1h-1zm-2 1h1v1h-1zm1 0h1v1h-1zm-1 1h1v1h-1zm1 0h1v1h-1zm-2 1h1v1h-1zm3 0h1v1h-1zm-4 1h1v1h-1zm5 0h1v1h-1zM698 575h1v1h-1zm5 0h1v1h-1zm-4 1h1v1h-1zm3 0h1v1h-1zm-2 1h1v1h-1zm1 0h1v1h-1zm-1 1h1v1h-1zm1 0h1v1h-1zm-2 1h1v1h-1zm3 0h1v1h-1zm-4 1h1v1h-1zm5 0h1v1h-1zM702 571h1v1h-1zm4 0h1v1h-1zm-3 1h1v1h-1zm2 0h1v1h-1zm-1 1h1v1h-1zm-1 1h1v1h-1zm2 0h1v1h-1zm-3 1h1v1h-1zm4 0h1v1h-1zM705 565h1v1h-1zm4 0h1v1h-1zm-3 1h1v1h-1zm2 0h1v1h-1zm-1 1h1v1h-1zm-1 1h1v1h-1zm2 0h1v1h-1zm-3 1h1v1h-1zm4 0h1v1h-1zM708 570h1v1h-1zm5 0h1v1h-1zm-4 1h1v1h-1zm3 0h1v1h-1zm-2 1h1v1h-1zm1 0h1v1h-1zm-1 1h1v1h-1zm1 0h1v1h-1zm-2 1h1v1h-1zm3 0h1v1h-1zm-4 1h1v1h-1zm5 0h1v1h-1zM711 558h1v1h-1zm5 0h1v1h-1zm-4 1h1v1h-1zm3 0h1v1h-1zm-2 1h1v1h-1zm1 0h1v1h-1zm-1 1h1v1h-1zm1 0h1v1h-1zm-2 1h1v1h-1zm3 0h1v1h-1zm-4 1h1v1h-1zm5 0h1v1h-1zM715 570h1v1h-1zm4 0h1v1h-1zm-3 1h1v1h-1zm2 0h1v1h-1zm-1 1h1v1h-1zm-1 1h1v1h-1zm2 0h1v1h-1zm-3 1h1v1h-1zm4 0h1v1h-1zM718 570h1v1h-1zm5 0h1v1h-1zm-4 1h1v1h-1zm3 0h1v1h-1zm-2 1h1v1h-1zm1 0h1v1h-1zm-1 1h1v1h-1zm1 0h1v1h-1zm-2 1h1v1h-1zm3 0h1v1h-1zm-4 1h1v1h-1zm5 0h1v1h-1zM721 570h1v1h-1zm5 0h1v1h-1zm-4 1h1v1h-1zm3 0h1v1h-1zm-2 1h1v1h-1zm1 0h1v1h-1zm-1 1h1v1h-1zm1 0h1v1h-1zm-2 1h1v1h-1zm3 0h1v1h-1zm-4 1h1v1h-1zm5 0h1v1h-1zM724 571h1v1h-1zm5 0h1v1h-1zm-4 1h1v1h-1zm3 0h1v1h-1zm-2 1h1v1h-1zm1 0h1v1h-1zm-1 1h1v1h-1zm1 0h1v1h-1zm-2 1h1v1h-1zm3 0h1v1h-1zm-4 1h1v1h-1zm5 0h1v1h-1zM728 564h1v1h-1zm4 0h1v1h-1zm-3 1h1v1h-1zm2 0h1v1h-1zm-1 1h1v1h-1zm-1 1h1v1h-1zm2 0h1v1h-1zm-3 1h1v1h-1zm4 0h1v1h-1zM731 574h1v1h-1zm5 0h1v1h-1zm-4 1h1v1h-1zm3 0h1v1h-1zm-2 1h1v1h-1zm1 0h1v1h-1zm-1 1h1v1h-1zm1 0h1v1h-1zm-2 1h1v1h-1zm3 0h1v1h-1zm-4 1h1v1h-1zm5 0h1v1h-1zM734 567h1v1h-1zm5 0h1v1h-1zm-4 1h1v1h-1zm3 0h1v1h-1zm-2 1h1v1h-1zm1 0h1v1h-1zm-1 1h1v1h-1zm1 0h1v1h-1zm-2 1h1v1h-1zm3 0h1v1h-1zm-4 1h1v1h-1zm5 0h1v1h-1zM738 576h1v1h-1zm4 0h1v1h-1zm-3 1h1v1h-1zm2 0h1v1h-1zm-1 1h1v1h-1zm-1 1h1v1h-1zm2 0h1v1h-1zm-3 1h1v1h-1zm4 0h1v1h-1zM741 577h1v1h-1zm4 0h1v1h-1zm-3 1h1v1h-1zm2 0h1v1h-1zm-1 1h1v1h-1zm-1 1h1v1h-1zm2 0h1v1h-1zm-3 1h1v1h-1zm4 0h1v1h-1zM744 573h1v1h-1zm5 0h1v1h-1zm-4 1h1v1h-1zm3 0h1v1h-1zm-2 1h1v1h-1zm1 0h1v1h-1zm-1 1h1v1h-1zm1 0h1v1h-1zm-2 1h1v1h-1zm3 0h1v1h-1zm-4 1h1v1h-1zm5 0h1v1h-1zM747 576h1v1h-1zm5 0h1v1h-1zm-4 1h1v1h-1zm3 0h1v1h-1zm-2 1h1v1h-1zm1 0h1v1h-1zm-1 1h1v1h-1zm1 0h1v1h-1zm-2 1h1v1h-1zm3 0h1v1h-1zm-4 1h1v1h-1zm5 0h1v1h-1zM751 571h1v1h-1zm4 0h1v1h-1zm-3 1h1v1h-1zm2 0h1v1h-1zm-1 1h1v1h-1zm-1 1h1v1h-1zm2 0h1v1h-1zm-3 1h1v1h-1zm4 0h1v1h-1zM754 573h1v1h-1zm5 0h1v1h-1zm-4 1h1v1h-1zm3 0h1v1h-1zm-2 1h1v1h-1zm1 0h1v1h-1zm-1 1h1v1h-1zm1 0h1v1h-1zm-2 1h1v1h-1zm3 0h1v1h-1zm-4 1h1v1h-1zm5 0h1v1h-1zM757 579h1v1h-1zm5 0h1v1h-1zm-4 1h1v1h-1zm3 0h1v1h-1zm-2 1h1v1h-1zm1 0h1v1h-1zm-1 1h1v1h-1zm1 0h1v1h-1zm-2 1h1v1h-1zm3 0h1v1h-1zm-4 1h1v1h-1zm5 0h1v1h-1zM761 590h1v1h-1zm4 0h1v1h-1zm-3 1h1v1h-1zm2 0h1v1h-1zm-1 1h1v1h-1zm-1 1h1v1h-1zm2 0h1v1h-1zm-3 1h1v1h-1zm4 0h1v1h-1zM764 586h1v1h-1zm4 0h1v1h-1zm-3 1h1v1h-1zm2 0h1v1h-1zm-1 1h1v1h-1zm-1 1h1v1h-1zm2 0h1v1h-1zm-3 1h1v1h-1zm4 0h1v1h-1zM767 569h1v1h-1zm5 0h1v1h-1zm-4 1h1v1h-1zm3 0h1v1h-1zm-2 1h1v1h-1zm1 0h1v1h-1zm-1 1h1v1h-1zm1 0h1v1h-1zm-2 1h1v1h-1zm3 0h1v1h-1zm-4 1h1v1h-1zm5 0h1v1h-1zM770 583h1v1h-1zm5 0h1v1h-1zm-4 1h1v1h-1zm3 0h1v1h-1zm-2 1h1v1h-1zm1 0h1v1h-1zm-1 1h1v1h-1zm1 0h1v1h-1zm-2 1h1v1h-1zm3 0h1v1h-1zm-4 1h1v1h-1zm5 0h1v1h-1zM774 577h1v1h-1zm4 0h1v1h-1zm-3 1h1v1h-1zm2 0h1v1h-1zm-1 1h1v1h-1zm-1 1h1v1h-1zm2 0h1v1h-1zm-3 1h1v1h-1zm4 0h1v1h-1zM777 574h1v1h-1zm5 0h1v1h-1zm-4 1h1v1h-1zm3 0h1v1h-1zm-2 1h1v1h-1zm1 0h1v1h-1zm-1 1h1v1h-1zm1 0h1v1h-1zm-2 1h1v1h-1zm3 0h1v1h-1zm-4 1h1v1h-1zm5 0h1v1h-1zM780 579h1v1h-1zm5 0h1v1h-1zm-4 1h1v1h-1zm3 0h1v1h-1zm-2 1h1v1h-1zm1 0h1v1h-1zm-1 1h1v1h-1zm1 0h1v1h-1zm-2 1h1v1h-1zm3 0h1v1h-1zm-4 1h1v1h-1zm5 0h1v1h-1zM784 569h1v1h-1zm4 0h1v1h-1zm-3 1h1v1h-1zm2 0h1v1h-1zm-1 1h1v1h-1zm-1 1h1v1h-1zm2 0h1v1h-1zm-3 1h1v1h-1zm4 0h1v1h-1zM787 578h1v1h-1zm4 0h1v1h-1zm-3 1h1v1h-1zm2 0h1v1h-1zm-1 1h1v1h-1zm-1 1h1v1h-1zm2 0h1v1h-1zm-3 1h1v1h-1zm4 0h1v1h-1zM790 571h1v1h-1zm5 0h1v1h-1zm-4 1h1v1h-1zm3 0h1v1h-1zm-2 1h1v1h-1zm1 0h1v1h-1zm-1 1h1v1h-1zm1 0h1v1h-1zm-2 1h1v1h-1zm3 0h1v1h-1zm-4 1h1v1h-1zm5 0h1v1h-1zM793 573h1v1h-1zm5 0h1v1h-1zm-4 1h1v1h-1zm3 0h1v1h-1zm-2 1h1v1h-1zm1 0h1v1h-1zm-1 1h1v1h-1zm1 0h1v1h-1zm-2 1h1v1h-1zm3 0h1v1h-1zm-4 1h1v1h-1zm5 0h1v1h-1zM797 584h1v1h-1zm4 0h1v1h-1zm-3 1h1v1h-1zm2 0h1v1h-1zm-1 1h1v1h-1zm-1 1h1v1h-1zm2 0h1v1h-1zm-3 1h1v1h-1zm4 0h1v1h-1zM800 578h1v1h-1zm5 0h1v1h-1zm-4 1h1v1h-1zm3 0h1v1h-1zm-2 1h1v1h-1zm1 0h1v1h-1zm-1 1h1v1h-1zm1 0h1v1h-1zm-2 1h1v1h-1zm3 0h1v1h-1zm-4 1h1v1h-1zm5 0h1v1h-1zM803 579h1v1h-1zm5 0h1v1h-1zm-4 1h1v1h-1zm3 0h1v1h-1zm-2 1h1v1h-1zm1 0h1v1h-1zm-1 1h1v1h-1zm1 0h1v1h-1zm-2 1h1v1h-1zm3 0h1v1h-1zm-4 1h1v1h-1zm5 0h1v1h-1zM807 582h1v1h-1zm4 0h1v1h-1zm-3 1h1v1h-1zm2 0h1v1h-1zm-1 1h1v1h-1zm-1 1h1v1h-1zm2 0h1v1h-1zm-3 1h1v1h-1zm4 0h1v1h-1zM810 592h1v1h-1zm4 0h1v1h-1zm-3 1h1v1h-1zm2 0h1v1h-1zm-1 1h1v1h-1zm-1 1h1v1h-1zm2 0h1v1h-1zm-3 1h1v1h-1zm4 0h1v1h-1zM813 581h1v1h-1zm5 0h1v1h-1zm-4 1h1v1h-1zm3 0h1v1h-1zm-2 1h1v1h-1zm1 0h1v1h-1zm-1 1h1v1h-1zm1 0h1v1h-1zm-2 1h1v1h-1zm3 0h1v1h-1zm-4 1h1v1h-1zm5 0h1v1h-1zM816 579h1v1h-1zm5 0h1v1h-1zm-4 1h1v1h-1zm3 0h1v1h-1zm-2 1h1v1h-1zm1 0h1v1h-1zm-1 1h1v1h-1zm1 0h1v1h-1zm-2 1h1v1h-1zm3 0h1v1h-1zm-4 1h1v1h-1zm5 0h1v1h-1zM820 582h1v1h-1zm4 0h1v1h-1zm-3 1h1v1h-1zm2 0h1v1h-1zm-1 1h1v1h-1zm-1 1h1v1h-1zm2 0h1v1h-1zm-3 1h1v1h-1zm4 0h1v1h-1zM823 578h1v1h-1zm5 0h1v1h-1zm-4 1h1v1h-1zm3 0h1v1h-1zm-2 1h1v1h-1zm1 0h1v1h-1zm-1 1h1v1h-1zm1 0h1v1h-1zm-2 1h1v1h-1zm3 0h1v1h-1zm-4 1h1v1h-1zm5 0h1v1h-1zM826 576h1v1h-1zm5 0h1v1h-1zm-4 1h1v1h-1zm3 0h1v1h-1zm-2 1h1v1h-1zm1 0h1v1h-1zm-1 1h1v1h-1zm1 0h1v1h-1zm-2 1h1v1h-1zm3 0h1v1h-1zm-4 1h1v1h-1zm5 0h1v1h-1zM829 569h1v1h-1zm5 0h1v1h-1zm-4 1h1v1h-1zm3 0h1v1h-1zm-2 1h1v1h-1zm1 0h1v1h-1zm-1 1h1v1h-1zm1 0h1v1h-1zm-2 1h1v1h-1zm3 0h1v1h-1zm-4 1h1v1h-1zm5 0h1v1h-1zM833 574h1v1h-1zm4 0h1v1h-1zm-3 1h1v1h-1zm2 0h1v1h-1zm-1 1h1v1h-1zm-1 1h1v1h-1zm2 0h1v1h-1zm-3 1h1v1h-1zm4 0h1v1h-1zM836 582h1v1h-1zm5 0h1v1h-1zm-4 1h1v1h-1zm3 0h1v1h-1zm-2 1h1v1h-1zm1 0h1v1h-1zm-1 1h1v1h-1zm1 0h1v1h-1zm-2 1h1v1h-1zm3 0h1v1h-1zm-4 1h1v1h-1zm5 0h1v1h-1zM839 571h1v1h-1zm5 0h1v1h-1zm-4 1h1v1h-1zm3 0h1v1h-1zm-2 1h1v1h-1zm1 0h1v1h-1zm-1 1h1v1h-1zm1 0h1v1h-1zm-2 1h1v1h-1zm3 0h1v1h-1zm-4 1h1v1h-1zm5 0h1v1h-1zM843 586h1v1h-1zm4 0h1v1h-1zm-3 1h1v1h-1zm2 0h1v1h-1zm-1 1h1v1h-1zm-1 1h1v1h-1zm2 0h1v1h-1zm-3 1h1v1h-1zm4 0h1v1h-1zM846 583h1v1h-1zm4 0h1v1h-1zm-3 1h1v1h-1zm2 0h1v1h-1zm-1 1h1v1h-1zm-1 1h1v1h-1zm2 0h1v1h-1zm-3 1h1v1h-1zm4 0h1v1h-1zM849 588h1v1h-1zm5 0h1v1h-1zm-4 1h1v1h-1zm3 0h1v1h-1zm-2 1h1v1h-1zm1 0h1v1h-1zm-1 1h1v1h-1zm1 0h1v1h-1zm-2 1h1v1h-1zm3 0h1v1h-1zm-4 1h1v1h-1zm5 0h1v1h-1zM852 584h1v1h-1zm5 0h1v1h-1zm-4 1h1v1h-1zm3 0h1v1h-1zm-2 1h1v1h-1zm1 0h1v1h-1zm-1 1h1v1h-1zm1 0h1v1h-1zm-2 1h1v1h-1zm3 0h1v1h-1zm-4 1h1v1h-1zm5 0h1v1h-1zM856 586h1v1h-1zm4 0h1v1h-1zm-3 1h1v1h-1zm2 0h1v1h-1zm-1 1h1v1h-1zm-1 1h1v1h-1zm2 0h1v1h-1zm-3 1h1v1h-1zm4 0h1v1h-1zM859 582h1v1h-1zm5 0h1v1h-1zm-4 1h1v1h-1zm3 0h1v1h-1zm-2 1h1v1h-1zm1 0h1v1h-1zm-1 1h1v1h-1zm1 0h1v1h-1zm-2 1h1v1h-1zm3 0h1v1h-1zm-4 1h1v1h-1zm5 0h1v1h-1zM862 581h1v1h-1zm5 0h1v1h-1zm-4 1h1v1h-1zm3 0h1v1h-1zm-2 1h1v1h-1zm1 0h1v1h-1zm-1 1h1v1h-1zm1 0h1v1h-1zm-2 1h1v1h-1zm3 0h1v1h-1zm-4 1h1v1h-1zm5 0h1v1h-1zM866 586h1v1h-1zm4 0h1v1h-1zm-3 1h1v1h-1zm2 0h1v1h-1zm-1 1h1v1h-1zm-1 1h1v1h-1zm2 0h1v1h-1zm-3 1h1v1h-1zm4 0h1v1h-1zM869 570h1v1h-1zm4 0h1v1h-1zm-3 1h1v1h-1zm2 0h1v1h-1zm-1 1h1v1h-1zm-1 1h1v1h-1zm2 0h1v1h-1zm-3 1h1v1h-1zm4 0h1v1h-1zM872 578h1v1h-1zm5 0h1v1h-1zm-4 1h1v1h-1zm3 0h1v1h-1zm-2 1h1v1h-1zm1 0h1v1h-1zm-1 1h1v1h-1zm1 0h1v1h-1zm-2 1h1v1h-1zm3 0h1v1h-1zm-4 1h1v1h-1zm5 0h1v1h-1zM875 575h1v1h-1zm5 0h1v1h-1zm-4 1h1v1h-1zm3 0h1v1h-1zm-2 1h1v1h-1zm1 0h1v1h-1zm-1 1h1v1h-1zm1 0h1v1h-1zm-2 1h1v1h-1zm3 0h1v1h-1zm-4 1h1v1h-1zm5 0h1v1h-1zM879 570h1v1h-1zm4 0h1v1h-1zm-3 1h1v1h-1zm2 0h1v1h-1zm-1 1h1v1h-1zm-1 1h1v1h-1zm2 0h1v1h-1zm-3 1h1v1h-1zm4 0h1v1h-1zM882 582h1v1h-1zm5 0h1v1h-1zm-4 1h1v1h-1zm3 0h1v1h-1zm-2 1h1v1h-1zm1 0h1v1h-1zm-1 1h1v1h-1zm1 0h1v1h-1zm-2 1h1v1h-1zm3 0h1v1h-1zm-4 1h1v1h-1zm5 0h1v1h-1zM885 581h1v1h-1zm5 0h1v1h-1zm-4 1h1v1h-1zm3 0h1v1h-1zm-2 1h1v1h-1zm1 0h1v1h-1zm-1 1h1v1h-1zm1 0h1v1h-1zm-2 1h1v1h-1zm3 0h1v1h-1zm-4 1h1v1h-1zm5 0h1v1h-1zM889 584h1v1h-1zm4 0h1v1h-1zm-3 1h1v1h-1zm2 0h1v1h-1zm-1 1h1v1h-1zm-1 1h1v1h-1zm2 0h1v1h-1zm-3 1h1v1h-1zm4 0h1v1h-1zM892 576h1v1h-1zm4 0h1v1h-1zm-3 1h1v1h-1zm2 0h1v1h-1zm-1 1h1v1h-1zm-1 1h1v1h-1zm2 0h1v1h-1zm-3 1h1v1h-1zm4 0h1v1h-1zM895 586h1v1h-1zm5 0h1v1h-1zm-4 1h1v1h-1zm3 0h1v1h-1zm-2 1h1v1h-1zm1 0h1v1h-1zm-1 1h1v1h-1zm1 0h1v1h-1zm-2 1h1v1h-1zm3 0h1v1h-1zm-4 1h1v1h-1zm5 0h1v1h-1zM898 580h1v1h-1zm5 0h1v1h-1zm-4 1h1v1h-1zm3 0h1v1h-1zm-2 1h1v1h-1zm1 0h1v1h-1zm-1 1h1v1h-1zm1 0h1v1h-1zm-2 1h1v1h-1zm3 0h1v1h-1zm-4 1h1v1h-1zm5 0h1v1h-1zM902 575h1v1h-1zm4 0h1v1h-1zm-3 1h1v1h-1zm2 0h1v1h-1zm-1 1h1v1h-1zm-1 1h1v1h-1zm2 0h1v1h-1zm-3 1h1v1h-1zm4 0h1v1h-1zM905 584h1v1h-1zm5 0h1v1h-1zm-4 1h1v1h-1zm3 0h1v1h-1zm-2 1h1v1h-1zm1 0h1v1h-1zm-1 1h1v1h-1zm1 0h1v1h-1zm-2 1h1v1h-1zm3 0h1v1h-1zm-4 1h1v1h-1zm5 0h1v1h-1zM908 564h1v1h-1zm5 0h1v1h-1zm-4 1h1v1h-1zm3 0h1v1h-1zm-2 1h1v1h-1zm1 0h1v1h-1zm-1 1h1v1h-1zm1 0h1v1h-1zm-2 1h1v1h-1zm3 0h1v1h-1zm-4 1h1v1h-1zm5 0h1v1h-1zM912 585h1v1h-1zm4 0h1v1h-1zm-3 1h1v1h-1zm2 0h1v1h-1zm-1 1h1v1h-1zm-1 1h1v1h-1zm2 0h1v1h-1zm-3 1h1v1h-1zm4 0h1v1h-1zM915 580h1v1h-1zm4 0h1v1h-1zm-3 1h1v1h-1zm2 0h1v1h-1zm-1 1h1v1h-1zm-1 1h1v1h-1zm2 0h1v1h-1zm-3 1h1v1h-1zm4 0h1v1h-1zM918 586h1v1h-1zm5 0h1v1h-1zm-4 1h1v1h-1zm3 0h1v1h-1zm-2 1h1v1h-1zm1 0h1v1h-1zm-1 1h1v1h-1zm1 0h1v1h-1zm-2 1h1v1h-1zm3 0h1v1h-1zm-4 1h1v1h-1zm5 0h1v1h-1zM921 583h1v1h-1zm5 0h1v1h-1zm-4 1h1v1h-1zm3 0h1v1h-1zm-2 1h1v1h-1zm1 0h1v1h-1zm-1 1h1v1h-1zm1 0h1v1h-1zm-2 1h1v1h-1zm3 0h1v1h-1zm-4 1h1v1h-1zm5 0h1v1h-1zM925 589h1v1h-1zm4 0h1v1h-1zm-3 1h1v1h-1zm2 0h1v1h-1zm-1 1h1v1h-1zm-1 1h1v1h-1zm2 0h1v1h-1zm-3 1h1v1h-1zm4 0h1v1h-1zM928 584h1v1h-1zm5 0h1v1h-1zm-4 1h1v1h-1zm3 0h1v1h-1zm-2 1h1v1h-1zm1 0h1v1h-1zm-1 1h1v1h-1zm1 0h1v1h-1zm-2 1h1v1h-1zm3 0h1v1h-1zm-4 1h1v1h-1zm5 0h1v1h-1zM931 570h1v1h-1zm5 0h1v1h-1zm-4 1h1v1h-1zm3 0h1v1h-1zm-2 1h1v1h-1zm1 0h1v1h-1zm-1 1h1v1h-1zm1 0h1v1h-1zm-2 1h1v1h-1zm3 0h1v1h-1zm-4 1h1v1h-1zm5 0h1v1h-1zM934 584h1v1h-1zm5 0h1v1h-1zm-4 1h1v1h-1zm3 0h1v1h-1zm-2 1h1v1h-1zm1 0h1v1h-1zm-1 1h1v1h-1zm1 0h1v1h-1zm-2 1h1v1h-1zm3 0h1v1h-1zm-4 1h1v1h-1zm5 0h1v1h-1zM938 585h1v1h-1zm4 0h1v1h-1zm-3 1h1v1h-1zm2 0h1v1h-1zm-1 1h1v1h-1zm-1 1h1v1h-1zm2 0h1v1h-1zm-3 1h1v1h-1zm4 0h1v1h-1zM941 578h1v1h-1zm5 0h1v1h-1zm-4 1h1v1h-1zm3 0h1v1h-1zm-2 1h1v1h-1zm1 0h1v1h-1zm-1 1h1v1h-1zm1 0h1v1h-1zm-2 1h1v1h-1zm3 0h1v1h-1zm-4 1h1v1h-1zm5 0h1v1h-1zM944 582h1v1h-1zm5 0h1v1h-1zm-4 1h1v1h-1zm3 0h1v1h-1zm-2 1h1v1h-1zm1 0h1v1h-1zm-1 1h1v1h-1zm1 0h1v1h-1zm-2 1h1v1h-1zm3 0h1v1h-1zm-4 1h1v1h-1zm5 0h1v1h-1zM948 576h1v1h-1zm4 0h1v1h-1zm-3 1h1v1h-1zm2 0h1v1h-1zm-1 1h1v1h-1zm-1 1h1v1h-1zm2 0h1v1h-1zm-3 1h1v1h-1zm4 0h1v1h-1zM951 581h1v1h-1zm4 0h1v1h-1zm-3 1h1v1h-1zm2 0h1v1h-1zm-1 1h1v1h-1zm-1 1h1v1h-1zm2 0h1v1h-1zm-3 1h1v1h-1zm4 0h1v1h-1zM954 579h1v1h-1zm5 0h1v1h-1zm-4 1h1v1h-1zm3 0h1v1h-1zm-2 1h1v1h-1zm1 0h1v1h-1zm-1 1h1v1h-1zm1 0h1v1h-1zm-2 1h1v1h-1zm3 0h1v1h-1zm-4 1h1v1h-1zm5 0h1v1h-1zM957 579h1v1h-1zm5 0h1v1h-1zm-4 1h1v1h-1zm3 0h1v1h-1zm-2 1h1v1h-1zm1 0h1v1h-1zm-1 1h1v1h-1zm1 0h1v1h-1zm-2 1h1v1h-1zm3 0h1v1h-1zm-4 1h1v1h-1zm5 0h1v1h-1zM961 587h1v1h-1zm4 0h1v1h-1zm-3 1h1v1h-1zm2 0h1v1h-1zm-1 1h1v1h-1zm-1 1h1v1h-1zm2 0h1v1h-1zm-3 1h1v1h-1zm4 0h1v1h-1zM964 589h1v1h-1zm5 0h1v1h-1zm-4 1h1v1h-1zm3 0h1v1h-1zm-2 1h1v1h-1zm1 0h1v1h-1zm-1 1h1v1h-1zm1 0h1v1h-1zm-2 1h1v1h-1zm3 0h1v1h-1zm-4 1h1v1h-1zm5 0h1v1h-1zM967 586h1v1h-1zm5 0h1v1h-1zm-4 1h1v1h-1zm3 0h1v1h-1zm-2 1h1v1h-1zm1 0h1v1h-1zm-1 1h1v1h-1zm1 0h1v1h-1zm-2 1h1v1h-1zm3 0h1v1h-1zm-4 1h1v1h-1zm5 0h1v1h-1zM971 577h1v1h-1zm4 0h1v1h-1zm-3 1h1v1h-1zm2 0h1v1h-1zm-1 1h1v1h-1zm-1 1h1v1h-1zm2 0h1v1h-1zm-3 1h1v1h-1zm4 0h1v1h-1zM974 589h1v1h-1zm4 0h1v1h-1zm-3 1h1v1h-1zm2 0h1v1h-1zm-1 1h1v1h-1zm-1 1h1v1h-1zm2 0h1v1h-1zm-3 1h1v1h-1zm4 0h1v1h-1zM977 588h1v1h-1zm5 0h1v1h-1zm-4 1h1v1h-1zm3 0h1v1h-1zm-2 1h1v1h-1zm1 0h1v1h-1zm-1 1h1v1h-1zm1 0h1v1h-1zm-2 1h1v1h-1zm3 0h1v1h-1zm-4 1h1v1h-1zm5 0h1v1h-1zM980 582h1v1h-1zm5 0h1v1h-1zm-4 1h1v1h-1zm3 0h1v1h-1zm-2 1h1v1h-1zm1 0h1v1h-1zm-1 1h1v1h-1zm1 0h1v1h-1zm-2 1h1v1h-1zm3 0h1v1h-1zm-4 1h1v1h-1zm5 0h1v1h-1zM984 592h1v1h-1zm4 0h1v1h-1zm-3 1h1v1h-1zm2 0h1v1h-1zm-1 1h1v1h-1zm-1 1h1v1h-1zm2 0h1v1h-1zm-3 1h1v1h-1zm4 0h1v1h-1zM987 575h1v1h-1zm5 0h1v1h-1zm-4 1h1v1h-1zm3 0h1v1h-1zm-2 1h1v1h-1zm1 0h1v1h-1zm-1 1h1v1h-1zm1 0h1v1h-1zm-2 1h1v1h-1zm3 0h1v1h-1zm-4 1h1v1h-1zm5 0h1v1h-1zM990 594h1v1h-1zm5 0h1v1h-1zm-4 1h1v1h-1zm3 0h1v1h-1zm-2 1h1v1h-1zm1 0h1v1h-1zm-1 1h1v1h-1zm1 0h1v1h-1zm-2 1h1v1h-1zm3 0h1v1h-1zm-4 1h1v1h-1zm5 0h1v1h-1zM994 582h1v1h-1zm4 0h1v1h-1zm-3 1h1v1h-1zm2 0h1v1h-1zm-1 1h1v1h-1zm-1 1h1v1h-1zm2 0h1v1h-1zm-3 1h1v1h-1zm4 0h1v1h-1zM997 582h1v1h-1zm4 0h1v1h-1zm-3 1h1v1h-1zm2 0h1v1h-1zm-1 1h1v1h-1zm-1 1h1v1h-1zm2 0h1v1h-1zm-3 1h1v1h-1zm4 0h1v1h-1zM1000 583h1v1h-1zm5 0h1v1h-1zm-4 1h1v1h-1zm3 0h1v1h-1zm-2 1h1v1h-1zm1 0h1v1h-1zm-1 1h1v1h-1zm1 0h1v1h-1zm-2 1h1v1h-1zm3 0h1v1h-1zm-4 1h1v1h-1zm5 0h1v1h-1zM1003 593h1v1h-1zm5 0h1v1h-1zm-4 1h1v1h-1zm3 0h1v1h-1zm-2 1h1v1h-1zm1 0h1v1h-1zm-1 1h1v1h-1zm1 0h1v1h-1zm-2 1h1v1h-1zm3 0h1v1h-1zm-4 1h1v1h-1zm5 0h1v1h-1zM1007 595h1v1h-1zm4 0h1v1h-1zm-3 1h1v1h-1zm2 0h1v1h-1zm-1 1h1v1h-1zm-1 1h1v1h-1zm2 0h1v1h-1zm-3 1h1v1h-1zm4 0h1v1h-1zM1010 578h1v1h-1zm5 0h1v1h-1zm-4 1h1v1h-1zm3 0h1v1h-1zm-2 1h1v1h-1zm1 0h1v1h-1zm-1 1h1v1h-1zm1 0h1v1h-1zm-2 1h1v1h-1zm3 0h1v1h-1zm-4 1h1v1h-1zm5 0h1v1h-1zM1013 586h1v1h-1zm5 0h1v1h-1zm-4 1h1v1h-1zm3 0h1v1h-1zm-2 1h1v1h-1zm1 0h1v1h-1zm-1 1h1v1h-1zm1 0h1v1h-1zm-2 1h1v1h-1zm3 0h1v1h-1zm-4 1h1v1h-1zm5 0h1v1h-1zM1017 585h1v1h-1zm4 0h1v1h-1zm-3 1h1v1h-1zm2 0h1v1h-1zm-1 1h1v1h-1zm-1 1h1v1h-1zm2 0h1v1h-1zm-3 1h1v1h-1zm4 0h1v1h-1zM1020 586h1v1h-1zm4 0h1v1h-1zm-3 1h1v1h-1zm2 0h1v1h-1zm-1 1h1v1h-1zm-1 1h1v1h-1zm2 0h1v1h-1zm-3 1h1v1h-1zm4 0h1v1h-1zM1023 582h1v1h-1zm5 0h1v1h-1zm-4 1h1v1h-1zm3 0h1v1h-1zm-2 1h1v1h-1zm1 0h1v1h-1zm-1 1h1v1h-1zm1 0h1v1h-1zm-2 1h1v1h-1zm3 0h1v1h-1zm-4 1h1v1h-1zm5 0h1v1h-1zM1026 586h1v1h-1zm5 0h1v1h-1zm-4 1h1v1h-1zm3 0h1v1h-1zm-2 1h1v1h-1zm1 0h1v1h-1zm-1 1h1v1h-1zm1 0h1v1h-1zm-2 1h1v1h-1zm3 0h1v1h-1zm-4 1h1v1h-1zm5 0h1v1h-1zM1030 589h1v1h-1zm4 0h1v1h-1zm-3 1h1v1h-1zm2 0h1v1h-1zm-1 1h1v1h-1zm-1 1h1v1h-1zm2 0h1v1h-1zm-3 1h1v1h-1zm4 0h1v1h-1zM1033 603h1v1h-1zm5 0h1v1h-1zm-4 1h1v1h-1zm3 0h1v1h-1zm-2 1h1v1h-1zm1 0h1v1h-1zm-1 1h1v1h-1zm1 0h1v1h-1zm-2 1h1v1h-1zm3 0h1v1h-1zm-4 1h1v1h-1zm5 0h1v1h-1zM1036 583h1v1h-1zm5 0h1v1h-1zm-4 1h1v1h-1zm3 0h1v1h-1zm-2 1h1v1h-1zm1 0h1v1h-1zm-1 1h1v1h-1zm1 0h1v1h-1zm-2 1h1v1h-1zm3 0h1v1h-1zm-4 1h1v1h-1zm5 0h1v1h-1zM1039 591h1v1h-1zm5 0h1v1h-1zm-4 1h1v1h-1zm3 0h1v1h-1zm-2 1h1v1h-1zm1 0h1v1h-1zm-1 1h1v1h-1zm1 0h1v1h-1zm-2 1h1v1h-1zm3 0h1v1h-1zm-4 1h1v1h-1zm5 0h1v1h-1zM1043 595h1v1h-1zm4 0h1v1h-1zm-3 1h1v1h-1zm2 0h1v1h-1zm-1 1h1v1h-1zm-1 1h1v1h-1zm2 0h1v1h-1zm-3 1h1v1h-1zm4 0h1v1h-1zM1046 586h1v1h-1zm5 0h1v1h-1zm-4 1h1v1h-1zm3 0h1v1h-1zm-2 1h1v1h-1zm1 0h1v1h-1zm-1 1h1v1h-1zm1 0h1v1h-1zm-2 1h1v1h-1zm3 0h1v1h-1zm-4 1h1v1h-1zm5 0h1v1h-1zM1049 578h1v1h-1zm5 0h1v1h-1zm-4 1h1v1h-1zm3 0h1v1h-1zm-2 1h1v1h-1zm1 0h1v1h-1zm-1 1h1v1h-1zm1 0h1v1h-1zm-2 1h1v1h-1zm3 0h1v1h-1zm-4 1h1v1h-1zm5 0h1v1h-1zM1053 585h1v1h-1zm4 0h1v1h-1zm-3 1h1v1h-1zm2 0h1v1h-1zm-1 1h1v1h-1zm-1 1h1v1h-1zm2 0h1v1h-1zm-3 1h1v1h-1zm4 0h1v1h-1zM1056 588h1v1h-1zm4 0h1v1h-1zm-3 1h1v1h-1zm2 0h1v1h-1zm-1 1h1v1h-1zm-1 1h1v1h-1zm2 0h1v1h-1zm-3 1h1v1h-1zm4 0h1v1h-1zM1059 586h1v1h-1zm5 0h1v1h-1zm-4 1h1v1h-1zm3 0h1v1h-1zm-2 1h1v1h-1zm1 0h1v1h-1zm-1 1h1v1h-1zm1 0h1v1h-1zm-2 1h1v1h-1zm3 0h1v1h-1zm-4 1h1v1h-1zm5 0h1v1h-1zM1062 593h1v1h-1zm5 0h1v1h-1zm-4 1h1v1h-1zm3 0h1v1h-1zm-2 1h1v1h-1zm1 0h1v1h-1zm-1 1h1v1h-1zm1 0h1v1h-1zm-2 1h1v1h-1zm3 0h1v1h-1zm-4 1h1v1h-1zm5 0h1v1h-1zM1066 585h1v1h-1zm4 0h1v1h-1zm-3 1h1v1h-1zm2 0h1v1h-1zm-1 1h1v1h-1zm-1 1h1v1h-1zm2 0h1v1h-1zm-3 1h1v1h-1zm4 0h1v1h-1zM1069 590h1v1h-1zm5 0h1v1h-1zm-4 1h1v1h-1zm3 0h1v1h-1zm-2 1h1v1h-1zm1 0h1v1h-1zm-1 1h1v1h-1zm1 0h1v1h-1zm-2 1h1v1h-1zm3 0h1v1h-1zm-4 1h1v1h-1zm5 0h1v1h-1zM1072 588h1v1h-1zm5 0h1v1h-1zm-4 1h1v1h-1zm3 0h1v1h-1zm-2 1h1v1h-1zm1 0h1v1h-1zm-1 1h1v1h-1zm1 0h1v1h-1zm-2 1h1v1h-1zm3 0h1v1h-1zm-4 1h1v1h-1zm5 0h1v1h-1zM1076 592h1v1h-1zm4 0h1v1h-1zm-3 1h1v1h-1zm2 0h1v1h-1zm-1 1h1v1h-1zm-1 1h1v1h-1zm2 0h1v1h-1zm-3 1h1v1h-1zm4 0h1v1h-1zM1079 595h1v1h-1zm4 0h1v1h-1zm-3 1h1v1h-1zm2 0h1v1h-1zm-1 1h1v1h-1zm-1 1h1v1h-1zm2 0h1v1h-1zm-3 1h1v1h-1zm4 0h1v1h-1zM1082 599h1v1h-1zm5 0h1v1h-1zm-4 1h1v1h-1zm3 0h1v1h-1zm-2 1h1v1h-1zm1 0h1v1h-1zm-1 1h1v1h-1zm1 0h1v1h-1zm-2 1h1v1h-1zm3 0h1v1h-1zm-4 1h1v1h-1zm5 0h1v1h-1zM1085 596h1v1h-1zm5 0h1v1h-1zm-4 1h1v1h-1zm3 0h1v1h-1zm-2 1h1v1h-1zm1 0h1v1h-1zm-1 1h1v1h-1zm1 0h1v1h-1zm-2 1h1v1h-1zm3 0h1v1h-1zm-4 1h1v1h-1zm5 0h1v1h-1zM1089 588h1v1h-1zm4 0h1v1h-1zm-3 1h1v1h-1zm2 0h1v1h-1zm-1 1h1v1h-1zm-1 1h1v1h-1zm2 0h1v1h-1zm-3 1h1v1h-1zm4 0h1v1h-1zM1092 596h1v1h-1zm5 0h1v1h-1zm-4 1h1v1h-1zm3 0h1v1h-1zm-2 1h1v1h-1zm1 0h1v1h-1zm-1 1h1v1h-1zm1 0h1v1h-1zm-2 1h1v1h-1zm3 0h1v1h-1zm-4 1h1v1h-1zm5 0h1v1h-1zM1095 597h1v1h-1zm5 0h1v1h-1zm-4 1h1v1h-1zm3 0h1v1h-1zm-2 1h1v1h-1zm1 0h1v1h-1zm-1 1h1v1h-1zm1 0h1v1h-1zm-2 1h1v1h-1zm3 0h1v1h-1zm-4 1h1v1h-1zm5 0h1v1h-1zM1099 600h1v1h-1zm4 0h1v1h-1zm-3 1h1v1h-1zm2 0h1v1h-1zm-1 1h1v1h-1zm-1 1h1v1h-1zm2 0h1v1h-1zm-3 1h1v1h-1zm4 0h1v1h-1zM1102 599h1v1h-1zm4 0h1v1h-1zm-3 1h1v1h-1zm2 0h1v1h-1zm-1 1h1v1h-1zm-1 1h1v1h-1zm2 0h1v1h-1zm-3 1h1v1h-1zm4 0h1v1h-1zM1105 597h1v1h-1zm5 0h1v1h-1zm-4 1h1v1h-1zm3 0h1v1h-1zm-2 1h1v1h-1zm1 0h1v1h-1zm-1 1h1v1h-1zm1 0h1v1h-1zm-2 1h1v1h-1zm3 0h1v1h-1zm-4 1h1v1h-1zm5 0h1v1h-1zM1108 602h1v1h-1zm5 0h1v1h-1zm-4 1h1v1h-1zm3 0h1v1h-1zm-2 1h1v1h-1zm1 0h1v1h-1zm-1 1h1v1h-1zm1 0h1v1h-1zm-2 1h1v1h-1zm3 0h1v1h-1zm-4 1h1v1h-1zm5 0h1v1h-1zM1112 601h1v1h-1zm4 0h1v1h-1zm-3 1h1v1h-1zm2 0h1v1h-1zm-1 1h1v1h-1zm-1 1h1v1h-1zm2 0h1v1h-1zm-3 1h1v1h-1zm4 0h1v1h-1zM1115 594h1v1h-1zm5 0h1v1h-1zm-4 1h1v1h-1zm3 0h1v1h-1zm-2 1h1v1h-1zm1 0h1v1h-1zm-1 1h1v1h-1zm1 0h1v1h-1zm-2 1h1v1h-1zm3 0h1v1h-1zm-4 1h1v1h-1zm5 0h1v1h-1zM1118 599h1v1h-1zm5 0h1v1h-1zm-4 1h1v1h-1zm3 0h1v1h-1zm-2 1h1v1h-1zm1 0h1v1h-1zm-1 1h1v1h-1zm1 0h1v1h-1zm-2 1h1v1h-1zm3 0h1v1h-1zm-4 1h1v1h-1zm5 0h1v1h-1zM1122 605h1v1h-1zm4 0h1v1h-1zm-3 1h1v1h-1zm2 0h1v1h-1zm-1 1h1v1h-1zm-1 1h1v1h-1zm2 0h1v1h-1zm-3 1h1v1h-1zm4 0h1v1h-1zM1125 595h1v1h-1zm4 0h1v1h-1zm-3 1h1v1h-1zm2 0h1v1h-1zm-1 1h1v1h-1zm-1 1h1v1h-1zm2 0h1v1h-1zm-3 1h1v1h-1zm4 0h1v1h-1zM1128 594h1v1h-1zm5 0h1v1h-1zm-4 1h1v1h-1zm3 0h1v1h-1zm-2 1h1v1h-1zm1 0h1v1h-1zm-1 1h1v1h-1zm1 0h1v1h-1zm-2 1h1v1h-1zm3 0h1v1h-1zm-4 1h1v1h-1zm5 0h1v1h-1zM1131 594h1v1h-1zm5 0h1v1h-1zm-4 1h1v1h-1zm3 0h1v1h-1zm-2 1h1v1h-1zm1 0h1v1h-1zm-1 1h1v1h-1zm1 0h1v1h-1zm-2 1h1v1h-1zm3 0h1v1h-1zm-4 1h1v1h-1zm5 0h1v1h-1zM1135 592h1v1h-1zm4 0h1v1h-1zm-3 1h1v1h-1zm2 0h1v1h-1zm-1 1h1v1h-1zm-1 1h1v1h-1zm2 0h1v1h-1zm-3 1h1v1h-1zm4 0h1v1h-1zM1138 588h1v1h-1zm5 0h1v1h-1zm-4 1h1v1h-1zm3 0h1v1h-1zm-2 1h1v1h-1zm1 0h1v1h-1zm-1 1h1v1h-1zm1 0h1v1h-1zm-2 1h1v1h-1zm3 0h1v1h-1zm-4 1h1v1h-1zm5 0h1v1h-1zM1141 605h1v1h-1zm5 0h1v1h-1zm-4 1h1v1h-1zm3 0h1v1h-1zm-2 1h1v1h-1zm1 0h1v1h-1zm-1 1h1v1h-1zm1 0h1v1h-1zm-2 1h1v1h-1zm3 0h1v1h-1zm-4 1h1v1h-1zm5 0h1v1h-1zM1144 591h1v1h-1zm5 0h1v1h-1zm-4 1h1v1h-1zm3 0h1v1h-1zm-2 1h1v1h-1zm1 0h1v1h-1zm-1 1h1v1h-1zm1 0h1v1h-1zm-2 1h1v1h-1zm3 0h1v1h-1zm-4 1h1v1h-1zm5 0h1v1h-1zM1148 595h1v1h-1zm4 0h1v1h-1zm-3 1h1v1h-1zm2 0h1v1h-1zm-1 1h1v1h-1zm-1 1h1v1h-1zm2 0h1v1h-1zm-3 1h1v1h-1zm4 0h1v1h-1zM1151 594h1v1h-1zm5 0h1v1h-1zm-4 1h1v1h-1zm3 0h1v1h-1zm-2 1h1v1h-1zm1 0h1v1h-1zm-1 1h1v1h-1zm1 0h1v1h-1zm-2 1h1v1h-1zm3 0h1v1h-1zm-4 1h1v1h-1zm5 0h1v1h-1zM1154 605h1v1h-1zm5 0h1v1h-1zm-4 1h1v1h-1zm3 0h1v1h-1zm-2 1h1v1h-1zm1 0h1v1h-1zm-1 1h1v1h-1zm1 0h1v1h-1zm-2 1h1v1h-1zm3 0h1v1h-1zm-4 1h1v1h-1zm5 0h1v1h-1zM1158 598h1v1h-1zm4 0h1v1h-1zm-3 1h1v1h-1zm2 0h1v1h-1zm-1 1h1v1h-1zm-1 1h1v1h-1zm2 0h1v1h-1zm-3 1h1v1h-1zm4 0h1v1h-1zM1161 608h1v1h-1zm4 0h1v1h-1zm-3 1h1v1h-1zm2 0h1v1h-1zm-1 1h1v1h-1zm-1 1h1v1h-1zm2 0h1v1h-1zm-3 1h1v1h-1zm4 0h1v1h-1zM1164 591h1v1h-1zm5 0h1v1h-1zm-4 1h1v1h-1zm3 0h1v1h-1zm-2 1h1v1h-1zm1 0h1v1h-1zm-1 1h1v1h-1zm1 0h1v1h-1zm-2 1h1v1h-1zm3 0h1v1h-1zm-4 1h1v1h-1zm5 0h1v1h-1zM1167 602h1v1h-1zm5 0h1v1h-1zm-4 1h1v1h-1zm3 0h1v1h-1zm-2 1h1v1h-1zm1 0h1v1h-1zm-1 1h1v1h-1zm1 0h1v1h-1zm-2 1h1v1h-1zm3 0h1v1h-1zm-4 1h1v1h-1zm5 0h1v1h-1zM1171 594h1v1h-1zm4 0h1v1h-1zm-3 1h1v1h-1zm2 0h1v1h-1zm-1 1h1v1h-1zm-1 1h1v1h-1zm2 0h1v1h-1zm-3 1h1v1h-1zm4 0h1v1h-1zM1174 601h1v1h-1zm5 0h1v1h-1zm-4 1h1v1h-1zm3 0h1v1h-1zm-2 1h1v1h-1zm1 0h1v1h-1zm-1 1h1v1h-1zm1 0h1v1h-1zm-2 1h1v1h-1zm3 0h1v1h-1zm-4 1h1v1h-1zm5 0h1v1h-1zM1177 598h1v1h-1zm5 0h1v1h-1zm-4 1h1v1h-1zm3 0h1v1h-1zm-2 1h1v1h-1zm1 0h1v1h-1zm-1 1h1v1h-1zm1 0h1v1h-1zm-2 1h1v1h-1zm3 0h1v1h-1zm-4 1h1v1h-1zm5 0h1v1h-1zM1181 605h1v1h-1zm4 0h1v1h-1zm-3 1h1v1h-1zm2 0h1v1h-1zm-1 1h1v1h-1zm-1 1h1v1h-1zm2 0h1v1h-1zm-3 1h1v1h-1zm4 0h1v1h-1zM1184 596h1v1h-1zm4 0h1v1h-1zm-3 1h1v1h-1zm2 0h1v1h-1zm-1 1h1v1h-1zm-1 1h1v1h-1zm2 0h1v1h-1zm-3 1h1v1h-1zm4 0h1v1h-1zM1187 607h1v1h-1zm5 0h1v1h-1zm-4 1h1v1h-1zm3 0h1v1h-1zm-2 1h1v1h-1zm1 0h1v1h-1zm-1 1h1v1h-1zm1 0h1v1h-1zm-2 1h1v1h-1zm3 0h1v1h-1zm-4 1h1v1h-1zm5 0h1v1h-1zM1190 603h1v1h-1zm5 0h1v1h-1zm-4 1h1v1h-1zm3 0h1v1h-1zm-2 1h1v1h-1zm1 0h1v1h-1zm-1 1h1v1h-1zm1 0h1v1h-1zm-2 1h1v1h-1zm3 0h1v1h-1zm-4 1h1v1h-1zm5 0h1v1h-1zM1194 603h1v1h-1zm4 0h1v1h-1zm-3 1h1v1h-1zm2 0h1v1h-1zm-1 1h1v1h-1zm-1 1h1v1h-1zm2 0h1v1h-1zm-3 1h1v1h-1zm4 0h1v1h-1zM1197 598h1v1h-1zm5 0h1v1h-1zm-4 1h1v1h-1zm3 0h1v1h-1zm-2 1h1v1h-1zm1 0h1v1h-1zm-1 1h1v1h-1zm1 0h1v1h-1zm-2 1h1v1h-1zm3 0h1v1h-1zm-4 1h1v1h-1zm5 0h1v1h-1zM1200 613h1v1h-1zm5 0h1v1h-1zm-4 1h1v1h-1zm3 0h1v1h-1zm-2 1h1v1h-1zm1 0h1v1h-1zm-1 1h1v1h-1zm1 0h1v1h-1zm-2 1h1v1h-1zm3 0h1v1h-1zm-4 1h1v1h-1zm5 0h1v1h-1zM1204 604h1v1h-1zm4 0h1v1h-1zm-3 1h1v1h-1zm2 0h1v1h-1zm-1 1h1v1h-1zm-1 1h1v1h-1zm2 0h1v1h-1zm-3 1h1v1h-1zm4 0h1v1h-1zM1207 610h1v1h-1zm4 0h1v1h-1zm-3 1h1v1h-1zm2 0h1v1h-1zm-1 1h1v1h-1zm-1 1h1v1h-1zm2 0h1v1h-1zm-3 1h1v1h-1zm4 0h1v1h-1zM1210 590h1v1h-1zm5 0h1v1h-1zm-4 1h1v1h-1zm3 0h1v1h-1zm-2 1h1v1h-1zm1 0h1v1h-1zm-1 1h1v1h-1zm1 0h1v1h-1zm-2 1h1v1h-1zm3 0h1v1h-1zm-4 1h1v1h-1zm5 0h1v1h-1zM1213 595h1v1h-1zm5 0h1v1h-1zm-4 1h1v1h-1zm3 0h1v1h-1zm-2 1h1v1h-1zm1 0h1v1h-1zm-1 1h1v1h-1zm1 0h1v1h-1zm-2 1h1v1h-1zm3 0h1v1h-1zm-4 1h1v1h-1zm5 0h1v1h-1zM1217 594h1v1h-1zm4 0h1v1h-1zm-3 1h1v1h-1zm2 0h1v1h-1zm-1 1h1v1h-1zm-1 1h1v1h-1zm2 0h1v1h-1zm-3 1h1v1h-1zm4 0h1v1h-1zM1220 604h1v1h-1zm5 0h1v1h-1zm-4 1h1v1h-1zm3 0h1v1h-1zm-2 1h1v1h-1zm1 0h1v1h-1zm-1 1h1v1h-1zm1 0h1v1h-1zm-2 1h1v1h-1zm3 0h1v1h-1zm-4 1h1v1h-1zm5 0h1v1h-1zM1223 590h1v1h-1zm5 0h1v1h-1zm-4 1h1v1h-1zm3 0h1v1h-1zm-2 1h1v1h-1zm1 0h1v1h-1zm-1 1h1v1h-1zm1 0h1v1h-1zm-2 1h1v1h-1zm3 0h1v1h-1zm-4 1h1v1h-1zm5 0h1v1h-1zM1230 596h1v1h-1zm4 0h1v1h-1zm-3 1h1v1h-1zm2 0h1v1h-1zm-1 1h1v1h-1zm-1 1h1v1h-1zm2 0h1v1h-1zm-3 1h1v1h-1zm4 0h1v1h-1zM1233 599h1v1h-1zm5 0h1v1h-1zm-4 1h1v1h-1zm3 0h1v1h-1zm-2 1h1v1h-1zm1 0h1v1h-1zm-1 1h1v1h-1zm1 0h1v1h-1zm-2 1h1v1h-1zm3 0h1v1h-1zm-4 1h1v1h-1zm5 0h1v1h-1zM1236 599h1v1h-1zm5 0h1v1h-1zm-4 1h1v1h-1zm3 0h1v1h-1zm-2 1h1v1h-1zm1 0h1v1h-1zm-1 1h1v1h-1zm1 0h1v1h-1zm-2 1h1v1h-1zm3 0h1v1h-1zm-4 1h1v1h-1zm5 0h1v1h-1zM1240 610h1v1h-1zm4 0h1v1h-1zm-3 1h1v1h-1zm2 0h1v1h-1zm-1 1h1v1h-1zm-1 1h1v1h-1zm2 0h1v1h-1zm-3 1h1v1h-1zm4 0h1v1h-1zM1243 590h1v1h-1zm5 0h1v1h-1zm-4 1h1v1h-1zm3 0h1v1h-1zm-2 1h1v1h-1zm1 0h1v1h-1zm-1 1h1v1h-1zm1 0h1v1h-1zm-2 1h1v1h-1zm3 0h1v1h-1zm-4 1h1v1h-1zm5 0h1v1h-1zM1246 605h1v1h-1zm5 0h1v1h-1zm-4 1h1v1h-1zm3 0h1v1h-1zm-2 1h1v1h-1zm1 0h1v1h-1zm-1 1h1v1h-1zm1 0h1v1h-1zm-2 1h1v1h-1zm3 0h1v1h-1zm-4 1h1v1h-1zm5 0h1v1h-1zM1249 599h1v1h-1zm5 0h1v1h-1zm-4 1h1v1h-1zm3 0h1v1h-1zm-2 1h1v1h-1zm1 0h1v1h-1zm-1 1h1v1h-1zm1 0h1v1h-1zm-2 1h1v1h-1zm3 0h1v1h-1zm-4 1h1v1h-1zm5 0h1v1h-1zM1253 601h1v1h-1zm4 0h1v1h-1zm-3 1h1v1h-1zm2 0h1v1h-1zm-1 1h1v1h-1zm-1 1h1v1h-1zm2 0h1v1h-1zm-3 1h1v1h-1zm4 0h1v1h-1zM1256 592h1v1h-1zm5 0h1v1h-1zm-4 1h1v1h-1zm3 0h1v1h-1zm-2 1h1v1h-1zm1 0h1v1h-1zm-1 1h1v1h-1zm1 0h1v1h-1zm-2 1h1v1h-1zm3 0h1v1h-1zm-4 1h1v1h-1zm5 0h1v1h-1zM1259 610h1v1h-1zm5 0h1v1h-1zm-4 1h1v1h-1zm3 0h1v1h-1zm-2 1h1v1h-1zm1 0h1v1h-1zm-1 1h1v1h-1zm1 0h1v1h-1zm-2 1h1v1h-1zm3 0h1v1h-1zm-4 1h1v1h-1zm5 0h1v1h-1zM1263 598h1v1h-1zm4 0h1v1h-1zm-3 1h1v1h-1zm2 0h1v1h-1zm-1 1h1v1h-1zm-1 1h1v1h-1zm2 0h1v1h-1zm-3 1h1v1h-1zm4 0h1v1h-1zM1266 606h1v1h-1zm4 0h1v1h-1zm-3 1h1v1h-1zm2 0h1v1h-1zm-1 1h1v1h-1zm-1 1h1v1h-1zm2 0h1v1h-1zm-3 1h1v1h-1zm4 0h1v1h-1zM1269 601h1v1h-1zm5 0h1v1h-1zm-4 1h1v1h-1zm3 0h1v1h-1zm-2 1h1v1h-1zm1 0h1v1h-1zm-1 1h1v1h-1zm1 0h1v1h-1zm-2 1h1v1h-1zm3 0h1v1h-1zm-4 1h1v1h-1zm5 0h1v1h-1zM1272 600h1v1h-1zm5 0h1v1h-1zm-4 1h1v1h-1zm3 0h1v1h-1zm-2 1h1v1h-1zm1 0h1v1h-1zm-1 1h1v1h-1zm1 0h1v1h-1zm-2 1h1v1h-1zm3 0h1v1h-1zm-4 1h1v1h-1zm5 0h1v1h-1zM1276 609h1v1h-1zm4 0h1v1h-1zm-3 1h1v1h-1zm2 0h1v1h-1zm-1 1h1v1h-1zm-1 1h1v1h-1zm2 0h1v1h-1zm-3 1h1v1h-1zm4 0h1v1h-1zM1279 605h1v1h-1zm5 0h1v1h-1zm-4 1h1v1h-1zm3 0h1v1h-1zm-2 1h1v1h-1zm1 0h1v1h-1zm-1 1h1v1h-1zm1 0h1v1h-1zm-2 1h1v1h-1zm3 0h1v1h-1zm-4 1h1v1h-1zm5 0h1v1h-1zM1282 611h1v1h-1zm5 0h1v1h-1zm-4 1h1v1h-1zm3 0h1v1h-1zm-2 1h1v1h-1zm1 0h1v1h-1zm-1 1h1v1h-1zm1 0h1v1h-1zm-2 1h1v1h-1zm3 0h1v1h-1zm-4 1h1v1h-1zm5 0h1v1h-1zM1286 603h1v1h-1zm4 0h1v1h-1zm-3 1h1v1h-1zm2 0h1v1h-1zm-1 1h1v1h-1zm-1 1h1v1h-1zm2 0h1v1h-1zm-3 1h1v1h-1zm4 0h1v1h-1zM1289 600h1v1h-1zm4 0h1v1h-1zm-3 1h1v1h-1zm2 0h1v1h-1zm-1 1h1v1h-1zm-1 1h1v1h-1zm2 0h1v1h-1zm-3 1h1v1h-1zm4 0h1v1h-1zM1292 603h1v1h-1zm5 0h1v1h-1zm-4 1h1v1h-1zm3 0h1v1h-1zm-2 1h1v1h-1zm1 0h1v1h-1zm-1 1h1v1h-1zm1 0h1v1h-1zm-2 1h1v1h-1zm3 0h1v1h-1zm-4 1h1v1h-1zm5 0h1v1h-1zM1295 599h1v1h-1zm5 0h1v1h-1zm-4 1h1v1h-1zm3 0h1v1h-1zm-2 1h1v1h-1zm1 0h1v1h-1zm-1 1h1v1h-1zm1 0h1v1h-1zm-2 1h1v1h-1zm3 0h1v1h-1zm-4 1h1v1h-1zm5 0h1v1h-1zM1299 616h1v1h-1zm4 0h1v1h-1zm-3 1h1v1h-1zm2 0h1v1h-1zm-1 1h1v1h-1zm-1 1h1v1h-1zm2 0h1v1h-1zm-3 1h1v1h-1zm4 0h1v1h-1zM1302 596h1v1h-1zm5 0h1v1h-1zm-4 1h1v1h-1zm3 0h1v1h-1zm-2 1h1v1h-1zm1 0h1v1h-1zm-1 1h1v1h-1zm1 0h1v1h-1zm-2 1h1v1h-1zm3 0h1v1h-1zm-4 1h1v1h-1zm5 0h1v1h-1zM1305 613h1v1h-1zm5 0h1v1h-1zm-4 1h1v1h-1zm3 0h1v1h-1zm-2 1h1v1h-1zm1 0h1v1h-1zm-1 1h1v1h-1zm1 0h1v1h-1zm-2 1h1v1h-1zm3 0h1v1h-1zm-4 1h1v1h-1zm5 0h1v1h-1zM1309 607h1v1h-1zm4 0h1v1h-1zm-3 1h1v1h-1zm2 0h1v1h-1zm-1 1h1v1h-1zm-1 1h1v1h-1zm2 0h1v1h-1zm-3 1h1v1h-1zm4 0h1v1h-1zM1312 611h1v1h-1zm4 0h1v1h-1zm-3 1h1v1h-1zm2 0h1v1h-1zm-1 1h1v1h-1zm-1 1h1v1h-1zm2 0h1v1h-1zm-3 1h1v1h-1zm4 0h1v1h-1zM1315 615h1v1h-1zm5 0h1v1h-1zm-4 1h1v1h-1zm3 0h1v1h-1zm-2 1h1v1h-1zm1 0h1v1h-1zm-1 1h1v1h-1zm1 0h1v1h-1zm-2 1h1v1h-1zm3 0h1v1h-1zm-4 1h1v1h-1zm5 0h1v1h-1zM1318 607h1v1h-1zm5 0h1v1h-1zm-4 1h1v1h-1zm3 0h1v1h-1zm-2 1h1v1h-1zm1 0h1v1h-1zm-1 1h1v1h-1zm1 0h1v1h-1zm-2 1h1v1h-1zm3 0h1v1h-1zm-4 1h1v1h-1zm5 0h1v1h-1zM1322 606h1v1h-1zm4 0h1v1h-1zm-3 1h1v1h-1zm2 0h1v1h-1zm-1 1h1v1h-1zm-1 1h1v1h-1zm2 0h1v1h-1zm-3 1h1v1h-1zm4 0h1v1h-1zM1325 597h1v1h-1zm5 0h1v1h-1zm-4 1h1v1h-1zm3 0h1v1h-1zm-2 1h1v1h-1zm1 0h1v1h-1zm-1 1h1v1h-1zm1 0h1v1h-1zm-2 1h1v1h-1zm3 0h1v1h-1zm-4 1h1v1h-1zm5 0h1v1h-1zM1328 601h1v1h-1zm5 0h1v1h-1zm-4 1h1v1h-1zm3 0h1v1h-1zm-2 1h1v1h-1zm1 0h1v1h-1zm-1 1h1v1h-1zm1 0h1v1h-1zm-2 1h1v1h-1zm3 0h1v1h-1zm-4 1h1v1h-1zm5 0h1v1h-1zM1332 598h1v1h-1zm4 0h1v1h-1zm-3 1h1v1h-1zm2 0h1v1h-1zm-1 1h1v1h-1zm-1 1h1v1h-1zm2 0h1v1h-1zm-3 1h1v1h-1zm4 0h1v1h-1zM1335 599h1v1h-1zm4 0h1v1h-1zm-3 1h1v1h-1zm2 0h1v1h-1zm-1 1h1v1h-1zm-1 1h1v1h-1zm2 0h1v1h-1zm-3 1h1v1h-1zm4 0h1v1h-1zM1338 610h1v1h-1zm5 0h1v1h-1zm-4 1h1v1h-1zm3 0h1v1h-1zm-2 1h1v1h-1zm1 0h1v1h-1zm-1 1h1v1h-1zm1 0h1v1h-1zm-2 1h1v1h-1zm3 0h1v1h-1zm-4 1h1v1h-1zm5 0h1v1h-1zM1341 597h1v1h-1zm5 0h1v1h-1zm-4 1h1v1h-1zm3 0h1v1h-1zm-2 1h1v1h-1zm1 0h1v1h-1zm-1 1h1v1h-1zm1 0h1v1h-1zm-2 1h1v1h-1zm3 0h1v1h-1zm-4 1h1v1h-1zm5 0h1v1h-1zM1345 609h1v1h-1zm4 0h1v1h-1zm-3 1h1v1h-1zm2 0h1v1h-1zm-1 1h1v1h-1zm-1 1h1v1h-1zm2 0h1v1h-1zm-3 1h1v1h-1zm4 0h1v1h-1zM1348 605h1v1h-1zm5 0h1v1h-1zm-4 1h1v1h-1zm3 0h1v1h-1zm-2 1h1v1h-1zm1 0h1v1h-1zm-1 1h1v1h-1zm1 0h1v1h-1zm-2 1h1v1h-1zm3 0h1v1h-1zm-4 1h1v1h-1zm5 0h1v1h-1zM1351 613h1v1h-1zm5 0h1v1h-1zm-4 1h1v1h-1zm3 0h1v1h-1zm-2 1h1v1h-1zm1 0h1v1h-1zm-1 1h1v1h-1zm1 0h1v1h-1zm-2 1h1v1h-1zm3 0h1v1h-1zm-4 1h1v1h-1zm5 0h1v1h-1zM1354 608h1v1h-1zm5 0h1v1h-1zm-4 1h1v1h-1zm3 0h1v1h-1zm-2 1h1v1h-1zm1 0h1v1h-1zm-1 1h1v1h-1zm1 0h1v1h-1zm-2 1h1v1h-1zm3 0h1v1h-1zm-4 1h1v1h-1zm5 0h1v1h-1zM1358 604h1v1h-1zm4 0h1v1h-1zm-3 1h1v1h-1zm2 0h1v1h-1zm-1 1h1v1h-1zm-1 1h1v1h-1zm2 0h1v1h-1zm-3 1h1v1h-1zm4 0h1v1h-1zM1361 609h1v1h-1zm5 0h1v1h-1zm-4 1h1v1h-1zm3 0h1v1h-1zm-2 1h1v1h-1zm1 0h1v1h-1zm-1 1h1v1h-1zm1 0h1v1h-1zm-2 1h1v1h-1zm3 0h1v1h-1zm-4 1h1v1h-1zm5 0h1v1h-1zM1364 597h1v1h-1zm5 0h1v1h-1zm-4 1h1v1h-1zm3 0h1v1h-1zm-2 1h1v1h-1zm1 0h1v1h-1zm-1 1h1v1h-1zm1 0h1v1h-1zm-2 1h1v1h-1zm3 0h1v1h-1zm-4 1h1v1h-1zm5 0h1v1h-1zM1368 592h1v1h-1zm4 0h1v1h-1zm-3 1h1v1h-1zm2 0h1v1h-1zm-1 1h1v1h-1zm-1 1h1v1h-1zm2 0h1v1h-1zm-3 1h1v1h-1zm4 0h1v1h-1zM1371 609h1v1h-1zm4 0h1v1h-1zm-3 1h1v1h-1zm2 0h1v1h-1zm-1 1h1v1h-1zm-1 1h1v1h-1zm2 0h1v1h-1zm-3 1h1v1h-1zm4 0h1v1h-1zM1374 600h1v1h-1zm5 0h1v1h-1zm-4 1h1v1h-1zm3 0h1v1h-1zm-2 1h1v1h-1zm1 0h1v1h-1zm-1 1h1v1h-1zm1 0h1v1h-1zm-2 1h1v1h-1zm3 0h1v1h-1zm-4 1h1v1h-1zm5 0h1v1h-1zM1377 602h1v1h-1zm5 0h1v1h-1zm-4 1h1v1h-1zm3 0h1v1h-1zm-2 1h1v1h-1zm1 0h1v1h-1zm-1 1h1v1h-1zm1 0h1v1h-1zm-2 1h1v1h-1zm3 0h1v1h-1zm-4 1h1v1h-1zm5 0h1v1h-1zM1381 592h1v1h-1zm4 0h1v1h-1zm-3 1h1v1h-1zm2 0h1v1h-1zm-1 1h1v1h-1zm-1 1h1v1h-1zm2 0h1v1h-1zm-3 1h1v1h-1zm4 0h1v1h-1zM1384 599h1v1h-1zm5 0h1v1h-1zm-4 1h1v1h-1zm3 0h1v1h-1zm-2 1h1v1h-1zm1 0h1v1h-1zm-1 1h1v1h-1zm1 0h1v1h-1zm-2 1h1v1h-1zm3 0h1v1h-1zm-4 1h1v1h-1zm5 0h1v1h-1zM1387 600h1v1h-1zm5 0h1v1h-1zm-4 1h1v1h-1zm3 0h1v1h-1zm-2 1h1v1h-1zm1 0h1v1h-1zm-1 1h1v1h-1zm1 0h1v1h-1zm-2 1h1v1h-1zm3 0h1v1h-1zm-4 1h1v1h-1zm5 0h1v1h-1zM1391 611h1v1h-1zm4 0h1v1h-1zm-3 1h1v1h-1zm2 0h1v1h-1zm-1 1h1v1h-1zm-1 1h1v1h-1zm2 0h1v1h-1zm-3 1h1v1h-1zm4 0h1v1h-1zM1394 605h1v1h-1zm4 0h1v1h-1zm-3 1h1v1h-1zm2 0h1v1h-1zm-1 1h1v1h-1zm-1 1h1v1h-1zm2 0h1v1h-1zm-3 1h1v1h-1zm4 0h1v1h-1zM1397 603h1v1h-1zm5 0h1v1h-1zm-4 1h1v1h-1zm3 0h1v1h-1zm-2 1h1v1h-1zm1 0h1v1h-1zm-1 1h1v1h-1zm1 0h1v1h-1zm-2 1h1v1h-1zm3 0h1v1h-1zm-4 1h1v1h-1zm5 0h1v1h-1zM1400 608h1v1h-1zm5 0h1v1h-1zm-4 1h1v1h-1zm3 0h1v1h-1zm-2 1h1v1h-1zm1 0h1v1h-1zm-1 1h1v1h-1zm1 0h1v1h-1zm-2 1h1v1h-1zm3 0h1v1h-1zm-4 1h1v1h-1zm5 0h1v1h-1zM1404 595h1v1h-1zm4 0h1v1h-1zm-3 1h1v1h-1zm2 0h1v1h-1zm-1 1h1v1h-1zm-1 1h1v1h-1zm2 0h1v1h-1zm-3 1h1v1h-1zm4 0h1v1h-1zM1407 603h1v1h-1zm5 0h1v1h-1zm-4 1h1v1h-1zm3 0h1v1h-1zm-2 1h1v1h-1zm1 0h1v1h-1zm-1 1h1v1h-1zm1 0h1v1h-1zm-2 1h1v1h-1zm3 0h1v1h-1zm-4 1h1v1h-1zm5 0h1v1h-1zM1410 607h1v1h-1zm5 0h1v1h-1zm-4 1h1v1h-1zm3 0h1v1h-1zm-2 1h1v1h-1zm1 0h1v1h-1zm-1 1h1v1h-1zm1 0h1v1h-1zm-2 1h1v1h-1zm3 0h1v1h-1zm-4 1h1v1h-1zm5 0h1v1h-1zM1414 603h1v1h-1zm4 0h1v1h-1zm-3 1h1v1h-1zm2 0h1v1h-1zm-1 1h1v1h-1zm-1 1h1v1h-1zm2 0h1v1h-1zm-3 1h1v1h-1zm4 0h1v1h-1zM1417 598h1v1h-1zm4 0h1v1h-1zm-3 1h1v1h-1zm2 0h1v1h-1zm-1 1h1v1h-1zm-1 1h1v1h-1zm2 0h1v1h-1zm-3 1h1v1h-1zm4 0h1v1h-1z"/><path fill="#1e90ff" d="M162 512h3v3h-3zM165 516h3v3h-3zM168 521h4v3h-4zM172 524h3v3h-3zM175 543h3v3h-3zM178 517h3v3h-3zM181 525h4v3h-4zM185 524h3v3h-3zM188 509h3v3h-3zM191 521h4v3h-4zM195 519h3v3h-3zM198 516h3v3h-3zM201 524h3v3h-3zM204 540h4v3h-4zM208 530h3v3h-3zM211 530h3v3h-3zM214 533h4v3h-4zM218 536h3v3h-3zM221 533h3v3h-3zM224 522h3v3h-3zM227 554h4v3h-4zM231 530h3v3h-3zM234 528h3v3h-3zM237 530h4v4h-4zM241 525h3v3h-3zM244 525h3v3h-3zM247 541h3v4h-3zM250 541h4v4h-4zM254 541h3v3h-3zM257 533h3v4h-3zM260 549h3v3h-3zM263 520h4v3h-4zM267 551h3v3h-3zM270 544h3v3h-3zM273 544h4v3h-4zM277 525h3v4h-3zM280 533h3v3h-3zM283 543h3v3h-3zM286 539h4v3h-4zM290 533h3v3h-3zM293 549h3v3h-3zM296 527h4v3h-4zM300 536h3v3h-3zM303 534h3v3h-3zM306 542h3v3h-3zM309 537h4v3h-4zM313 538h3v3h-3zM316 521h3v3h-3zM319 539h4v3h-4zM323 531h3v3h-3zM326 546h3v3h-3zM329 556h3v3h-3zM332 546h4v3h-4zM336 549h3v3h-3zM339 555h3v4h-3zM342 535h3v3h-3zM346 530h3v3h-3zM349 521h3v4h-3zM352 535h3v3h-3zM355 549h4v3h-4zM359 540h3v3h-3zM362 532h3v3h-3zM365 548h3v3h-3zM368 546h4v3h-4zM372 533h3v3h-3zM375 550h3v3h-3zM378 540h4v3h-4zM382 530h3v3h-3zM385 537h3v3h-3zM388 533h3v3h-3zM391 554h4v3h-4zM395 558h3v3h-3zM398 536h3v3h-3zM401 538h4v3h-4zM405 542h3v4h-3zM408 531h3v3h-3zM411 560h3v3h-3zM414 538h4v3h-4zM418 529h3v3h-3zM421 531h3v3h-3zM424 537h4v3h-4zM428 538h3v3h-3zM431 554h3v3h-3zM434 542h3v3h-3zM437 526h4v3h-4zM441 544h3v3h-3zM444 535h3v3h-3zM447 553h3v3h-3zM451 551h3v3h-3zM454 561h3v4h-3zM457 563h3v3h-3zM460 561h4v3h-4zM464 550h3v3h-3zM467 547h3v3h-3zM470 571h3v3h-3zM473 555h4v3h-4zM477 546h3v3h-3zM480 552h3v3h-3zM483 558h4v3h-4zM487 553h3v3h-3zM490 532h3v3h-3zM493 551h3v3h-3zM496 549h4v3h-4zM500 554h3v4h-3zM503 568h3v3h-3zM506 544h4v3h-4zM510 558h3v3h-3zM513 569h3v3h-3zM516 556h3v3h-3zM519 570h4v3h-4zM523 565h3v3h-3zM526 547h3v4h-3zM529 566h4v3h-4zM533 541h3v3h-3zM536 559h3v3h-3zM539 551h3v3h-3zM542 540h4v3h-4zM546 572h3v3h-3zM549 544h3v3h-3zM552 550h3v3h-3zM556 561h3v3h-3zM559 570h3v3h-3zM562 553h3v3h-3zM565 568h4v4h-4zM569 557h3v3h-3zM572 551h3v3h-3zM575 563h3v3h-3zM578 566h4v3h-4zM582 543h3v3h-3zM585 578h3v4h-3zM588 536h4v3h-4zM592 578h3v3h-3zM595 559h3v3h-3zM598 558h3v3h-3zM601 563h4v3h-4zM605 559h3v3h-3zM608 559h3v4h-3zM611 574h4v3h-4zM615 568h3v3h-3zM618 564h3v3h-3zM621 563h3v3h-3zM624 581h4v3h-4zM628 548h3v3h-3zM631 571h3v3h-3zM634 564h4v3h-4zM638 558h3v3h-3zM641 563h3v3h-3zM644 572h3v3h-3zM647 557h4v3h-4zM651 582h3v3h-3zM654 582h3v3h-3zM657 570h3v3h-3zM661 577h3v3h-3zM664 583h3v3h-3zM667 569h3v3h-3zM670 586h4v3h-4zM674 559h3v3h-3zM677 581h3v3h-3zM680 586h3v4h-3zM683 585h4v3h-4zM687 571h3v3h-3zM690 575h3v3h-3zM693 559h4v3h-4zM697 557h3v3h-3zM700 572h3v3h-3zM703 574h3v3h-3zM706 570h4v3h-4zM710 573h3v3h-3zM713 557h3v4h-3zM716 565h4v3h-4zM720 579h3v3h-3zM723 579h3v3h-3zM726 563h3v3h-3zM729 580h4v3h-4zM733 566h3v3h-3zM736 563h3v3h-3zM739 571h4v3h-4zM743 562h3v3h-3zM746 579h3v3h-3zM749 577h3v3h-3zM752 593h4v3h-4zM756 572h3v3h-3zM759 559h3v3h-3zM762 577h3v3h-3zM766 582h3v3h-3zM769 567h3v3h-3zM772 582h3v3h-3zM775 587h4v3h-4zM779 569h3v4h-3zM782 559h3v3h-3zM785 578h3v3h-3zM788 575h4v3h-4zM792 587h3v3h-3zM795 587h3v3h-3zM798 580h4v3h-4zM802 590h3v3h-3zM805 580h3v3h-3zM808 569h3v3h-3zM811 592h4v3h-4zM815 595h3v3h-3zM818 592h3v3h-3zM821 577h4v3h-4zM825 586h3v3h-3zM828 579h3v3h-3zM831 586h3v4h-3zM834 592h4v3h-4zM838 596h3v3h-3zM841 587h3v3h-3zM844 571h4v3h-4zM848 586h3v3h-3zM851 603h3v4h-3zM854 600h3v4h-3zM857 602h4v3h-4zM861 584h3v3h-3zM864 583h3v3h-3zM867 585h3v3h-3zM871 572h3v3h-3zM874 575h3v3h-3zM877 574h3v3h-3zM880 565h4v3h-4zM884 589h3v3h-3zM887 589h3v3h-3zM890 582h3v3h-3zM893 590h4v3h-4zM897 593h3v3h-3zM900 590h3v3h-3zM903 575h4v3h-4zM907 588h3v3h-3zM910 562h3v3h-3zM913 581h3v3h-3zM916 571h4v3h-4zM920 594h3v3h-3zM923 583h3v3h-3zM926 587h4v3h-4zM930 566h3v3h-3zM933 565h3v3h-3zM936 576h3v3h-3zM939 590h4v3h-4zM943 561h3v3h-3zM946 585h3v3h-3zM949 593h4v3h-4zM953 596h3v3h-3zM956 590h3v3h-3zM959 566h3v3h-3zM962 598h4v3h-4zM966 594h3v3h-3zM969 571h3v3h-3zM972 572h3v4h-3zM976 574h3v3h-3zM979 595h3v3h-3zM982 584h3v3h-3zM985 580h4v4h-4zM989 566h3v3h-3zM992 575h3v4h-3zM995 571h3v3h-3zM998 599h4v3h-4zM1002 590h3v3h-3zM1005 588h3v3h-3zM1008 587h4v3h-4zM1012 578h3v3h-3zM1015 566h3v3h-3zM1018 589h3v3h-3zM1021 559h4v3h-4zM1025 593h3v3h-3zM1028 608h3v3h-3zM1031 605h4v3h-4zM1035 614h3v3h-3zM1038 590h3v3h-3zM1041 587h3v3h-3zM1044 595h4v4h-4zM1048 586h3v3h-3zM1051 581h3v3h-3zM1054 578h4v3h-4zM1058 591h3v3h-3zM1061 570h3v3h-3zM1064 594h3v3h-3zM1067 600h4v3h-4zM1071 593h3v3h-3zM1074 587h3v3h-3zM1077 590h3v3h-3zM1081 602h3v3h-3zM1084 606h3v3h-3zM1087 603h3v3h-3zM1090 592h4v3h-4zM1094 583h3v3h-3zM1097 608h3v3h-3zM1100 606h3v3h-3zM1103 596h4v3h-4zM1107 591h3v3h-3zM1110 589h3v3h-3zM1113 596h4v3h-4zM1117 592h3v3h-3zM1120 610h3v3h-3zM1123 604h3v3h-3zM1126 600h4v3h-4zM1130 598h3v3h-3zM1133 607h3v3h-3zM1136 586h4v3h-4zM1140 614h3v3h-3zM1143 596h3v3h-3zM1146 598h3v3h-3zM1149 590h4v3h-4zM1153 585h3v3h-3zM1156 603h3v3h-3zM1159 593h4v3h-4zM1163 615h3v3h-3zM1166 599h3v3h-3zM1169 607h3v3h-3zM1172 606h4v3h-4zM1176 610h3v3h-3zM1179 605h3v3h-3zM1182 616h3v3h-3zM1186 602h3v3h-3zM1189 600h3v3h-3zM1192 596h3v3h-3zM1195 599h4v3h-4zM1199 593h3v3h-3zM1202 617h3v3h-3zM1205 610h3v3h-3zM1208 614h4v3h-4zM1212 597h3v3h-3zM1215 621h3v3h-3zM1218 600h4v3h-4zM1222 608h3v3h-3zM1225 607h3v3h-3zM1231 598h4v3h-4zM1235 607h3v4h-3zM1238 591h3v3h-3zM1241 620h4v3h-4zM1245 612h3v3h-3zM1248 606h3v3h-3zM1251 610h3v3h-3zM1254 623h4v3h-4zM1258 590h3v3h-3zM1261 614h3v3h-3zM1264 618h4v3h-4zM1268 608h3v3h-3zM1271 599h3v3h-3zM1274 602h3v3h-3zM1277 615h4v3h-4zM1281 607h3v3h-3zM1284 601h3v3h-3zM1287 614h3v3h-3zM1291 623h3v4h-3zM1294 618h3v3h-3zM1297 611h3v3h-3zM1300 620h4v3h-4zM1304 597h3v3h-3zM1307 606h3v3h-3zM1310 603h3v3h-3zM1313 610h4v3h-4zM1317 623h3v3h-3zM1320 614h3v3h-3zM1323 616h4v3h-4zM1327 613h3v3h-3zM1330 613h3v3h-3zM1333 609h3v3h-3zM1336 618h4v3h-4zM1340 616h3v4h-3zM1343 600h3v3h-3zM1346 601h4v3h-4zM1350 606h3v3h-3zM1353 615h3v3h-3zM1356 611h3v3h-3zM1359 625h4v3h-4zM1363 631h3v3h-3zM1366 612h3v3h-3zM1369 591h4v3h-4zM1373 603h3v3h-3zM1376 612h3v3h-3zM1379 606h3v3h-3zM1382 604h4v4h-4zM1386 611h3v3h-3zM1389 618h3v3h-3zM1392 610h3v3h-3zM1396 611h3v4h-3zM1399 620h3v4h-3zM1402 625h3v3h-3zM1405 611h4v3h-4zM1409 610h3v3h-3zM1412 613h3v3h-3zM1415 608h3v3h-3zM1418 605h4v3h-4z"/></g>
<rect x="200" y="111" width="2" height="15" fill="#000"/>
<rect x="200" y="844" width="2" height="15" fill="#000"/>
<rect x="397" y="111" width="2" height="15" fill="#000"/>
<rect x="397" y="844" width="2" height="15" fill="#000"/>
<rect x="594" y="111" width="2" height="15" fill="#000"/>
<rect x="594" y="844" width="2" height="15" fill="#000"/>
<rect x="791" y="111" width="2" height="15" fill="#000"/>
<rect x="791" y="844" width="2" height="15" fill="#000"/>
<rect x="988" y="111" width="2" height="15" fill="#000"/>
<rect x="988" y="844" width="2" height="15" fill="#000"/>
<rect x="1185" y="111" width="2" height="15" fill="#000"/>
<rect x="1185" y="844" width="2" height="15" fill="#000"/>
<rect x="1382" y="111" width="2" height="15" fill="#000"/>
<rect x="1382" y="844" width="2" height="15" fill="#000"/>
<rect x="161" y="118" width="2" height="8" fill="#000"/>
<rect x="161" y="844" width="2" height="8" fill="#000"/>
<rect x="240" y="118" width="2" height="8" fill="#000"/>
<rect x="240" y="844" width="2" height="8" fill="#000"/>
<rect x="279" y="118" width="2" height="8" fill="#000"/>
<rect x="279" y="844" width="2" height="8" fill="#000"/>
<rect x="319" y="118" width="2" height="8" fill="#000"/>
<rect x="319" y="844" width="2" height="8" fill="#000"/>
<rect x="358" y="118" width="2" height="8" fill="#000"/>
<rect x="358" y="844" width="2" height="8" fill="#000"/>
<rect x="437" y="118" width="2" height="8" fill="#000"/>
<rect x="437" y="844" width="2" height="8" fill="#000"/>
<rect x="476" y="118" width="2" height="8" fill="#000"/>
<rect x="476" y="844" width="2" height="8" fill="#000"/>
<rect x="515" y="118" width="2" height="8" fill="#000"/>
<rect x="515" y="844" width="2" height="8" fill="#000"/>
<rect x="555" y="118" width="2" height="8" fill="#000"/>
<rect x="555" y="844" width="2" height="8" fill="#000"/>
<rect x="633" y="118" width="2" height="8" fill="#000"/>
<rect x="633" y="844" width="2" height="8" fill="#000"/>
<rect x="673" y="118" width="2" height="8" fill="#000"/>
<rect x="673" y="844" width="2" height="8" fill="#000"/>
<rect x="712" y="118" width="2" height="8" fill="#000"/>
<rect x="712" y="844" width="2" height="8" fill="#000"/>
<rect x="752" y="118" width="2" height="8" fill="#000"/>
<rect x="752" y="844" width="2" height="8" fill="#000"/>
<rect x="830" y="118" width="2" height="8" fill="#000"/>
<rect x="830" y="844" width="2" height="8" fill="#000"/>
<rect x="870" y="118" width="2" height="8" fill="#000"/>
<rect x="870" y="844" width="2" height="8" fill="#000"/>
<rect x="909" y="118" width="2" height="8" fill="#000"/>
<rect x="909" y="844" width="2" height="8" fill="#000"/>
<rect x="949" y="118" width="2" height="8" fill="#000"/>
<rect x="949" y="844" width="2" height="8" fill="#000"/>
<rect x="1027" y="118" width="2" height="8" fill="#000"/>
<rect x="1027" y="844" width="2" height="8" fill="#000"/>
<rect x="1067" y="118" width="2" height="8" fill="#000"/>
<rect x="1067" y="844" width="2" height="8" fill="#000"/>
<rect x="1106" y="118" width="2" height="8" fill="#000"/>
<rect x="1106" y="844" width="2" height="8" fill="#000"/>
<rect x="1145" y="118" width="2" height="8" fill="#000"/>
<rect x="1145" y="844" width="2" height="8" fill="#000"/>
<rect x="1224" y="118" width="2" height="8" fill="#000"/>
<rect x="1224" y="844" width="2" height="8" fill="#000"/>
<rect x="1263" y="118" width="2" height="8" fill="#000"/>
<rect x="1263" y="844" width="2" height="8" fill="#000"/>
<rect x="1303" y="118" width="2" height="8" fill="#000"/>
<rect x="1303" y="844" width="2" height="8" fill="#000"/>
<rect x="1342" y="118" width="2" height="8" fill="#000"/>
<rect x="1342" y="844" width="2" height="8" fill="#000"/>
<rect x="1421" y="118" width="2" height="8" fill="#000"/>
<rect x="1421" y="844" width="2" height="8" fill="#000"/>
<rect x="148" y="717" width="15" height="2" fill="#000"/>
<rect x="1421" y="717" width="15" height="2" fill="#000"/>
<rect x="148" y="505" width="15" height="2" fill="#000"/>
<rect x="1421" y="505" width="15" height="2" fill="#000"/>
<rect x="148" y="293" width="15" height="2" fill="#000"/>
<rect x="1421" y="293" width="15" height="2" fill="#000"/>
<text x="201" y="892" font-size="30" text-anchor="middle" fill="#000">61040</text>
<text x="398" y="892" font-size="30" text-anchor="middle" fill="#000">61045</text>
<text x="595" y="892" font-size="30" text-anchor="middle" fill="#000">61050</text>
<text x="792" y="892" font-size="30" text-anchor="middle" fill="#000">61055</text>
<text x="989" y="892" font-size="30" text-anchor="middle" fill="#000">61060</text>
<text x="1186" y="892" font-size="30" text-anchor="middle" fill="#000">61065</text>
<text x="1383" y="892" font-size="30" text-anchor="middle" fill="#000">61070</text>
<text x="136" y="728.2" font-size="30" text-anchor="end" fill="#000">355</text>
<text x="136" y="516.2" font-size="30" text-anchor="end" fill="#000">360</text>
<text x="136" y="304.2" font-size="30" text-anchor="end" fill="#000">365</text>
<text x="792" y="923" font-size="30" text-anchor="middle" font-weight="bold" fill="#000">Modified Julian Date</text>
<text x="77" y="485" font-size="30" text-anchor="middle" font-weight="bold" fill="#000" transform="rotate(-90 77 485)">nanosecond</text>
<text x="200" y="810" font-size="30" font-weight="bold" xml:space="preserve" id="t1">_2601_CHPTB_CHPTB.TTTs5     <tspan dx="3">TWSTFT (x</tspan><tspan font-size="21" dy="8">black</tspan><tspan dy="-8">) ,  TW SDR (o</tspan><tspan font-size="21" dy="8">blue</tspan><tspan dy="-8">)  383Ep</tspan></text>
</g>
<g id="p2">
<rect x="162" y="953" width="1261" height="1" fill="#000"/>
<rect x="162" y="1403" width="1261" height="1" fill="#000"/>
<rect x="162" y="953" width="1" height="451" fill="#000"/>
<rect x="1422" y="953" width="1" height="451" fill="#000"/>
<clipPath id="c2"><rect x="162" y="953" width="1261" height="451"/></clipPath>
<g id="p2data" clip-path="url(#c2)"><path fill="#000" d="M160 1159h1v1h-1zm5 0h1v1h-1zm-4 1h1v1h-1zm3 0h1v1h-1zm-2 1h1v1h-1zm1 0h1v1h-1zm-1 1h1v1h-1zm1 0h1v1h-1zm-2 1h1v1h-1zm3 0h1v1h-1zm-4 1h1v1h-1zm5 0h1v1h-1zM163 1241h1v1h-1zm5 0h1v1h-1zm-4 1h1v1h-1zm3 0h1v1h-1zm-2 1h1v1h-1zm1 0h1v1h-1zm-1 1h1v1h-1zm1 0h1v1h-1zm-2 1h1v1h-1zm3 0h1v1h-1zm-4 1h1v1h-1zm5 0h1v1h-1zM167 1281h1v1h-1zm4 0h1v1h-1zm-3 1h1v1h-1zm2 0h1v1h-1zm-1 1h1v1h-1zm-1 1h1v1h-1zm2 0h1v1h-1zm-3 1h1v1h-1zm4 0h1v1h-1zM170 1222h1v1h-1zm5 0h1v1h-1zm-4 1h1v1h-1zm3 0h1v1h-1zm-2 1h1v1h-1zm1 0h1v1h-1zm-1 1h1v1h-1zm1 0h1v1h-1zm-2 1h1v1h-1zm3 0h1v1h-1zm-4 1h1v1h-1zm5 0h1v1h-1zM173 1124h1v1h-1zm5 0h1v1h-1zm-4 1h1v1h-1zm3 0h1v1h-1zm-2 1h1v1h-1zm1 0h1v1h-1zm-1 1h1v1h-1zm1 0h1v1h-1zm-2 1h1v1h-1zm3 0h1v1h-1zm-4 1h1v1h-1zm5 0h1v1h-1zM177 1219h1v1h-1zm4 0h1v1h-1zm-3 1h1v1h-1zm2 0h1v1h-1zm-1 1h1v1h-1zm-1 1h1v1h-1zm2 0h1v1h-1zm-3 1h1v1h-1zm4 0h1v1h-1zM180 1220h1v1h-1zm4 0h1v1h-1zm-3 1h1v1h-1zm2 0h1v1h-1zm-1 1h1v1h-1zm-1 1h1v1h-1zm2 0h1v1h-1zm-3 1h1v1h-1zm4 0h1v1h-1zM183 1092h1v1h-1zm5 0h1v1h-1zm-4 1h1v1h-1zm3 0h1v1h-1zm-2 1h1v1h-1zm1 0h1v1h-1zm-1 1h1v1h-1zm1 0h1v1h-1zm-2 1h1v1h-1zm3 0h1v1h-1zm-4 1h1v1h-1zm5 0h1v1h-1zM186 1242h1v1h-1zm5 0h1v1h-1zm-4 1h1v1h-1zm3 0h1v1h-1zm-2 1h1v1h-1zm1 0h1v1h-1zm-1 1h1v1h-1zm1 0h1v1h-1zm-2 1h1v1h-1zm3 0h1v1h-1zm-4 1h1v1h-1zm5 0h1v1h-1zM190 1161h1v1h-1zm4 0h1v1h-1zm-3 1h1v1h-1zm2 0h1v1h-1zm-1 1h1v1h-1zm-1 1h1v1h-1zm2 0h1v1h-1zm-3 1h1v1h-1zm4 0h1v1h-1zM193 1218h1v1h-1zm5 0h1v1h-1zm-4 1h1v1h-1zm3 0h1v1h-1zm-2 1h1v1h-1zm1 0h1v1h-1zm-1 1h1v1h-1zm1 0h1v1h-1zm-2 1h1v1h-1zm3 0h1v1h-1zm-4 1h1v1h-1zm5 0h1v1h-1zM196 1265h1v1h-1zm5 0h1v1h-1zm-4 1h1v1h-1zm3 0h1v1h-1zm-2 1h1v1h-1zm1 0h1v1h-1zm-1 1h1v1h-1zm1 0h1v1h-1zm-2 1h1v1h-1zm3 0h1v1h-1zm-4 1h1v1h-1zm5 0h1v1h-1zM199 1152h1v1h-1zm5 0h1v1h-1zm-4 1h1v1h-1zm3 0h1v1h-1zm-2 1h1v1h-1zm1 0h1v1h-1zm-1 1h1v1h-1zm1 0h1v1h-1zm-2 1h1v1h-1zm3 0h1v1h-1zm-4 1h1v1h-1zm5 0h1v1h-1zM203 1088h1v1h-1zm4 0h1v1h-1zm-3 1h1v1h-1zm2 0h1v1h-1zm-1 1h1v1h-1zm-1 1h1v1h-1zm2 0h1v1h-1zm-3 1h1v1h-1zm4 0h1v1h-1zM206 1249h1v1h-1zm5 0h1v1h-1zm-4 1h1v1h-1zm3 0h1v1h-1zm-2 1h1v1h-1zm1 0h1v1h-1zm-1 1h1v1h-1zm1 0h1v1h-1zm-2 1h1v1h-1zm3 0h1v1h-1zm-4 1h1v1h-1zm5 0h1v1h-1zM209 1192h1v1h-1zm5 0h1v1h-1zm-4 1h1v1h-1zm3 0h1v1h-1zm-2 1h1v1h-1zm1 0h1v1h-1zm-1 1h1v1h-1zm1 0h1v1h-1zm-2 1h1v1h-1zm3 0h1v1h-1zm-4 1h1v1h-1zm5 0h1v1h-1zM213 1203h1v1h-1zm4 0h1v1h-1zm-3 1h1v1h-1zm2 0h1v1h-1zm-1 1h1v1h-1zm-1 1h1v1h-1zm2 0h1v1h-1zm-3 1h1v1h-1zm4 0h1v1h-1zM216 1146h1v1h-1zm4 0h1v1h-1zm-3 1h1v1h-1zm2 0h1v1h-1zm-1 1h1v1h-1zm-1 1h1v1h-1zm2 0h1v1h-1zm-3 1h1v1h-1zm4 0h1v1h-1zM219 1201h1v1h-1zm5 0h1v1h-1zm-4 1h1v1h-1zm3 0h1v1h-1zm-2 1h1v1h-1zm1 0h1v1h-1zm-1 1h1v1h-1zm1 0h1v1h-1zm-2 1h1v1h-1zm3 0h1v1h-1zm-4 1h1v1h-1zm5 0h1v1h-1zM222 1192h1v1h-1zm5 0h1v1h-1zm-4 1h1v1h-1zm3 0h1v1h-1zm-2 1h1v1h-1zm1 0h1v1h-1zm-1 1h1v1h-1zm1 0h1v1h-1zm-2 1h1v1h-1zm3 0h1v1h-1zm-4 1h1v1h-1zm5 0h1v1h-1zM226 1015h1v1h-1zm4 0h1v1h-1zm-3 1h1v1h-1zm2 0h1v1h-1zm-1 1h1v1h-1zm-1 1h1v1h-1zm2 0h1v1h-1zm-3 1h1v1h-1zm4 0h1v1h-1zM229 1133h1v1h-1zm5 0h1v1h-1zm-4 1h1v1h-1zm3 0h1v1h-1zm-2 1h1v1h-1zm1 0h1v1h-1zm-1 1h1v1h-1zm1 0h1v1h-1zm-2 1h1v1h-1zm3 0h1v1h-1zm-4 1h1v1h-1zm5 0h1v1h-1zM232 1187h1v1h-1zm5 0h1v1h-1zm-4 1h1v1h-1zm3 0h1v1h-1zm-2 1h1v1h-1zm1 0h1v1h-1zm-1 1h1v1h-1zm1 0h1v1h-1zm-2 1h1v1h-1zm3 0h1v1h-1zm-4 1h1v1h-1zm5 0h1v1h-1zM236 1185h1v1h-1zm4 0h1v1h-1zm-3 1h1v1h-1zm2 0h1v1h-1zm-1 1h1v1h-1zm-1 1h1v1h-1zm2 0h1v1h-1zm-3 1h1v1h-1zm4 0h1v1h-1zM239 1169h1v1h-1zm4 0h1v1h-1zm-3 1h1v1h-1zm2 0h1v1h-1zm-1 1h1v1h-1zm-1 1h1v1h-1zm2 0h1v1h-1zm-3 1h1v1h-1zm4 0h1v1h-1zM242 1242h1v1h-1zm5 0h1v1h-1zm-4 1h1v1h-1zm3 0h1v1h-1zm-2 1h1v1h-1zm1 0h1v1h-1zm-1 1h1v1h-1zm1 0h1v1h-1zm-2 1h1v1h-1zm3 0h1v1h-1zm-4 1h1v1h-1zm5 0h1v1h-1zM245 1170h1v1h-1zm5 0h1v1h-1zm-4 1h1v1h-1zm3 0h1v1h-1zm-2 1h1v1h-1zm1 0h1v1h-1zm-1 1h1v1h-1zm1 0h1v1h-1zm-2 1h1v1h-1zm3 0h1v1h-1zm-4 1h1v1h-1zm5 0h1v1h-1zM249 1155h1v1h-1zm4 0h1v1h-1zm-3 1h1v1h-1zm2 0h1v1h-1zm-1 1h1v1h-1zm-1 1h1v1h-1zm2 0h1v1h-1zm-3 1h1v1h-1zm4 0h1v1h-1zM252 1140h1v1h-1zm5 0h1v1h-1zm-4 1h1v1h-1zm3 0h1v1h-1zm-2 1h1v1h-1zm1 0h1v1h-1zm-1 1h1v1h-1zm1 0h1v1h-1zm-2 1h1v1h-1zm3 0h1v1h-1zm-4 1h1v1h-1zm5 0h1v1h-1zM255 1203h1v1h-1zm5 0h1v1h-1zm-4 1h1v1h-1zm3 0h1v1h-1zm-2 1h1v1h-1zm1 0h1v1h-1zm-1 1h1v1h-1zm1 0h1v1h-1zm-2 1h1v1h-1zm3 0h1v1h-1zm-4 1h1v1h-1zm5 0h1v1h-1zM259 1134h1v1h-1zm4 0h1v1h-1zm-3 1h1v1h-1zm2 0h1v1h-1zm-1 1h1v1h-1zm-1 1h1v1h-1zm2 0h1v1h-1zm-3 1h1v1h-1zm4 0h1v1h-1zM262 1248h1v1h-1zm4 0h1v1h-1zm-3 1h1v1h-1zm2 0h1v1h-1zm-1 1h1v1h-1zm-1 1h1v1h-1zm2 0h1v1h-1zm-3 1h1v1h-1zm4 0h1v1h-1zM265 1065h1v1h-1zm5 0h1v1h-1zm-4 1h1v1h-1zm3 0h1v1h-1zm-2 1h1v1h-1zm1 0h1v1h-1zm-1 1h1v1h-1zm1 0h1v1h-1zm-2 1h1v1h-1zm3 0h1v1h-1zm-4 1h1v1h-1zm5 0h1v1h-1zM268 1064h1v1h-1zm5 0h1v1h-1zm-4 1h1v1h-1zm3 0h1v1h-1zm-2 1h1v1h-1zm1 0h1v1h-1zm-1 1h1v1h-1zm1 0h1v1h-1zm-2 1h1v1h-1zm3 0h1v1h-1zm-4 1h1v1h-1zm5 0h1v1h-1zM272 1147h1v1h-1zm4 0h1v1h-1zm-3 1h1v1h-1zm2 0h1v1h-1zm-1 1h1v1h-1zm-1 1h1v1h-1zm2 0h1v1h-1zm-3 1h1v1h-1zm4 0h1v1h-1zM275 1263h1v1h-1zm5 0h1v1h-1zm-4 1h1v1h-1zm3 0h1v1h-1zm-2 1h1v1h-1zm1 0h1v1h-1zm-1 1h1v1h-1zm1 0h1v1h-1zm-2 1h1v1h-1zm3 0h1v1h-1zm-4 1h1v1h-1zm5 0h1v1h-1zM278 1163h1v1h-1zm5 0h1v1h-1zm-4 1h1v1h-1zm3 0h1v1h-1zm-2 1h1v1h-1zm1 0h1v1h-1zm-1 1h1v1h-1zm1 0h1v1h-1zm-2 1h1v1h-1zm3 0h1v1h-1zm-4 1h1v1h-1zm5 0h1v1h-1zM282 1167h1v1h-1zm4 0h1v1h-1zm-3 1h1v1h-1zm2 0h1v1h-1zm-1 1h1v1h-1zm-1 1h1v1h-1zm2 0h1v1h-1zm-3 1h1v1h-1zm4 0h1v1h-1zM285 1203h1v1h-1zm4 0h1v1h-1zm-3 1h1v1h-1zm2 0h1v1h-1zm-1 1h1v1h-1zm-1 1h1v1h-1zm2 0h1v1h-1zm-3 1h1v1h-1zm4 0h1v1h-1zM288 1222h1v1h-1zm5 0h1v1h-1zm-4 1h1v1h-1zm3 0h1v1h-1zm-2 1h1v1h-1zm1 0h1v1h-1zm-1 1h1v1h-1zm1 0h1v1h-1zm-2 1h1v1h-1zm3 0h1v1h-1zm-4 1h1v1h-1zm5 0h1v1h-1zM291 1110h1v1h-1zm5 0h1v1h-1zm-4 1h1v1h-1zm3 0h1v1h-1zm-2 1h1v1h-1zm1 0h1v1h-1zm-1 1h1v1h-1zm1 0h1v1h-1zm-2 1h1v1h-1zm3 0h1v1h-1zm-4 1h1v1h-1zm5 0h1v1h-1zM295 1210h1v1h-1zm4 0h1v1h-1zm-3 1h1v1h-1zm2 0h1v1h-1zm-1 1h1v1h-1zm-1 1h1v1h-1zm2 0h1v1h-1zm-3 1h1v1h-1zm4 0h1v1h-1zM298 1225h1v1h-1zm5 0h1v1h-1zm-4 1h1v1h-1zm3 0h1v1h-1zm-2 1h1v1h-1zm1 0h1v1h-1zm-1 1h1v1h-1zm1 0h1v1h-1zm-2 1h1v1h-1zm3 0h1v1h-1zm-4 1h1v1h-1zm5 0h1v1h-1zM301 1155h1v1h-1zm5 0h1v1h-1zm-4 1h1v1h-1zm3 0h1v1h-1zm-2 1h1v1h-1zm1 0h1v1h-1zm-1 1h1v1h-1zm1 0h1v1h-1zm-2 1h1v1h-1zm3 0h1v1h-1zm-4 1h1v1h-1zm5 0h1v1h-1zM304 1131h1v1h-1zm5 0h1v1h-1zm-4 1h1v1h-1zm3 0h1v1h-1zm-2 1h1v1h-1zm1 0h1v1h-1zm-1 1h1v1h-1zm1 0h1v1h-1zm-2 1h1v1h-1zm3 0h1v1h-1zm-4 1h1v1h-1zm5 0h1v1h-1zM308 1183h1v1h-1zm4 0h1v1h-1zm-3 1h1v1h-1zm2 0h1v1h-1zm-1 1h1v1h-1zm-1 1h1v1h-1zm2 0h1v1h-1zm-3 1h1v1h-1zm4 0h1v1h-1zM311 1159h1v1h-1zm5 0h1v1h-1zm-4 1h1v1h-1zm3 0h1v1h-1zm-2 1h1v1h-1zm1 0h1v1h-1zm-1 1h1v1h-1zm1 0h1v1h-1zm-2 1h1v1h-1zm3 0h1v1h-1zm-4 1h1v1h-1zm5 0h1v1h-1zM314 1295h1v1h-1zm5 0h1v1h-1zm-4 1h1v1h-1zm3 0h1v1h-1zm-2 1h1v1h-1zm1 0h1v1h-1zm-1 1h1v1h-1zm1 0h1v1h-1zm-2 1h1v1h-1zm3 0h1v1h-1zm-4 1h1v1h-1zm5 0h1v1h-1zM318 1130h1v1h-1zm4 0h1v1h-1zm-3 1h1v1h-1zm2 0h1v1h-1zm-1 1h1v1h-1zm-1 1h1v1h-1zm2 0h1v1h-1zm-3 1h1v1h-1zm4 0h1v1h-1zM321 1256h1v1h-1zm4 0h1v1h-1zm-3 1h1v1h-1zm2 0h1v1h-1zm-1 1h1v1h-1zm-1 1h1v1h-1zm2 0h1v1h-1zm-3 1h1v1h-1zm4 0h1v1h-1zM324 1155h1v1h-1zm5 0h1v1h-1zm-4 1h1v1h-1zm3 0h1v1h-1zm-2 1h1v1h-1zm1 0h1v1h-1zm-1 1h1v1h-1zm1 0h1v1h-1zm-2 1h1v1h-1zm3 0h1v1h-1zm-4 1h1v1h-1zm5 0h1v1h-1zM327 1111h1v1h-1zm5 0h1v1h-1zm-4 1h1v1h-1zm3 0h1v1h-1zm-2 1h1v1h-1zm1 0h1v1h-1zm-1 1h1v1h-1zm1 0h1v1h-1zm-2 1h1v1h-1zm3 0h1v1h-1zm-4 1h1v1h-1zm5 0h1v1h-1zM331 1161h1v1h-1zm4 0h1v1h-1zm-3 1h1v1h-1zm2 0h1v1h-1zm-1 1h1v1h-1zm-1 1h1v1h-1zm2 0h1v1h-1zm-3 1h1v1h-1zm4 0h1v1h-1zM334 1075h1v1h-1zm5 0h1v1h-1zm-4 1h1v1h-1zm3 0h1v1h-1zm-2 1h1v1h-1zm1 0h1v1h-1zm-1 1h1v1h-1zm1 0h1v1h-1zm-2 1h1v1h-1zm3 0h1v1h-1zm-4 1h1v1h-1zm5 0h1v1h-1zM337 1170h1v1h-1zm5 0h1v1h-1zm-4 1h1v1h-1zm3 0h1v1h-1zm-2 1h1v1h-1zm1 0h1v1h-1zm-1 1h1v1h-1zm1 0h1v1h-1zm-2 1h1v1h-1zm3 0h1v1h-1zm-4 1h1v1h-1zm5 0h1v1h-1zM341 1190h1v1h-1zm4 0h1v1h-1zm-3 1h1v1h-1zm2 0h1v1h-1zm-1 1h1v1h-1zm-1 1h1v1h-1zm2 0h1v1h-1zm-3 1h1v1h-1zm4 0h1v1h-1zM344 1230h1v1h-1zm4 0h1v1h-1zm-3 1h1v1h-1zm2 0h1v1h-1zm-1 1h1v1h-1zm-1 1h1v1h-1zm2 0h1v1h-1zm-3 1h1v1h-1zm4 0h1v1h-1zM347 1265h1v1h-1zm5 0h1v1h-1zm-4 1h1v1h-1zm3 0h1v1h-1zm-2 1h1v1h-1zm1 0h1v1h-1zm-1 1h1v1h-1zm1 0h1v1h-1zm-2 1h1v1h-1zm3 0h1v1h-1zm-4 1h1v1h-1zm5 0h1v1h-1zM350 1183h1v1h-1zm5 0h1v1h-1zm-4 1h1v1h-1zm3 0h1v1h-1zm-2 1h1v1h-1zm1 0h1v1h-1zm-1 1h1v1h-1zm1 0h1v1h-1zm-2 1h1v1h-1zm3 0h1v1h-1zm-4 1h1v1h-1zm5 0h1v1h-1zM354 1129h1v1h-1zm4 0h1v1h-1zm-3 1h1v1h-1zm2 0h1v1h-1zm-1 1h1v1h-1zm-1 1h1v1h-1zm2 0h1v1h-1zm-3 1h1v1h-1zm4 0h1v1h-1zM357 1106h1v1h-1zm5 0h1v1h-1zm-4 1h1v1h-1zm3 0h1v1h-1zm-2 1h1v1h-1zm1 0h1v1h-1zm-1 1h1v1h-1zm1 0h1v1h-1zm-2 1h1v1h-1zm3 0h1v1h-1zm-4 1h1v1h-1zm5 0h1v1h-1zM360 1243h1v1h-1zm5 0h1v1h-1zm-4 1h1v1h-1zm3 0h1v1h-1zm-2 1h1v1h-1zm1 0h1v1h-1zm-1 1h1v1h-1zm1 0h1v1h-1zm-2 1h1v1h-1zm3 0h1v1h-1zm-4 1h1v1h-1zm5 0h1v1h-1zM364 1127h1v1h-1zm4 0h1v1h-1zm-3 1h1v1h-1zm2 0h1v1h-1zm-1 1h1v1h-1zm-1 1h1v1h-1zm2 0h1v1h-1zm-3 1h1v1h-1zm4 0h1v1h-1zM367 1135h1v1h-1zm4 0h1v1h-1zm-3 1h1v1h-1zm2 0h1v1h-1zm-1 1h1v1h-1zm-1 1h1v1h-1zm2 0h1v1h-1zm-3 1h1v1h-1zm4 0h1v1h-1zM370 1218h1v1h-1zm5 0h1v1h-1zm-4 1h1v1h-1zm3 0h1v1h-1zm-2 1h1v1h-1zm1 0h1v1h-1zm-1 1h1v1h-1zm1 0h1v1h-1zm-2 1h1v1h-1zm3 0h1v1h-1zm-4 1h1v1h-1zm5 0h1v1h-1zM373 1088h1v1h-1zm5 0h1v1h-1zm-4 1h1v1h-1zm3 0h1v1h-1zm-2 1h1v1h-1zm1 0h1v1h-1zm-1 1h1v1h-1zm1 0h1v1h-1zm-2 1h1v1h-1zm3 0h1v1h-1zm-4 1h1v1h-1zm5 0h1v1h-1zM377 1236h1v1h-1zm4 0h1v1h-1zm-3 1h1v1h-1zm2 0h1v1h-1zm-1 1h1v1h-1zm-1 1h1v1h-1zm2 0h1v1h-1zm-3 1h1v1h-1zm4 0h1v1h-1zM380 1179h1v1h-1zm5 0h1v1h-1zm-4 1h1v1h-1zm3 0h1v1h-1zm-2 1h1v1h-1zm1 0h1v1h-1zm-1 1h1v1h-1zm1 0h1v1h-1zm-2 1h1v1h-1zm3 0h1v1h-1zm-4 1h1v1h-1zm5 0h1v1h-1zM383 1219h1v1h-1zm5 0h1v1h-1zm-4 1h1v1h-1zm3 0h1v1h-1zm-2 1h1v1h-1zm1 0h1v1h-1zm-1 1h1v1h-1zm1 0h1v1h-1zm-2 1h1v1h-1zm3 0h1v1h-1zm-4 1h1v1h-1zm5 0h1v1h-1zM387 1221h1v1h-1zm4 0h1v1h-1zm-3 1h1v1h-1zm2 0h1v1h-1zm-1 1h1v1h-1zm-1 1h1v1h-1zm2 0h1v1h-1zm-3 1h1v1h-1zm4 0h1v1h-1zM390 1090h1v1h-1zm4 0h1v1h-1zm-3 1h1v1h-1zm2 0h1v1h-1zm-1 1h1v1h-1zm-1 1h1v1h-1zm2 0h1v1h-1zm-3 1h1v1h-1zm4 0h1v1h-1zM393 1169h1v1h-1zm5 0h1v1h-1zm-4 1h1v1h-1zm3 0h1v1h-1zm-2 1h1v1h-1zm1 0h1v1h-1zm-1 1h1v1h-1zm1 0h1v1h-1zm-2 1h1v1h-1zm3 0h1v1h-1zm-4 1h1v1h-1zm5 0h1v1h-1zM396 1188h1v1h-1zm5 0h1v1h-1zm-4 1h1v1h-1zm3 0h1v1h-1zm-2 1h1v1h-1zm1 0h1v1h-1zm-1 1h1v1h-1zm1 0h1v1h-1zm-2 1h1v1h-1zm3 0h1v1h-1zm-4 1h1v1h-1zm5 0h1v1h-1zM400 1284h1v1h-1zm4 0h1v1h-1zm-3 1h1v1h-1zm2 0h1v1h-1zm-1 1h1v1h-1zm-1 1h1v1h-1zm2 0h1v1h-1zm-3 1h1v1h-1zm4 0h1v1h-1zM403 1215h1v1h-1zm5 0h1v1h-1zm-4 1h1v1h-1zm3 0h1v1h-1zm-2 1h1v1h-1zm1 0h1v1h-1zm-1 1h1v1h-1zm1 0h1v1h-1zm-2 1h1v1h-1zm3 0h1v1h-1zm-4 1h1v1h-1zm5 0h1v1h-1zM406 1219h1v1h-1zm5 0h1v1h-1zm-4 1h1v1h-1zm3 0h1v1h-1zm-2 1h1v1h-1zm1 0h1v1h-1zm-1 1h1v1h-1zm1 0h1v1h-1zm-2 1h1v1h-1zm3 0h1v1h-1zm-4 1h1v1h-1zm5 0h1v1h-1zM409 1190h1v1h-1zm5 0h1v1h-1zm-4 1h1v1h-1zm3 0h1v1h-1zm-2 1h1v1h-1zm1 0h1v1h-1zm-1 1h1v1h-1zm1 0h1v1h-1zm-2 1h1v1h-1zm3 0h1v1h-1zm-4 1h1v1h-1zm5 0h1v1h-1zM413 1223h1v1h-1zm4 0h1v1h-1zm-3 1h1v1h-1zm2 0h1v1h-1zm-1 1h1v1h-1zm-1 1h1v1h-1zm2 0h1v1h-1zm-3 1h1v1h-1zm4 0h1v1h-1zM416 1300h1v1h-1zm5 0h1v1h-1zm-4 1h1v1h-1zm3 0h1v1h-1zm-2 1h1v1h-1zm1 0h1v1h-1zm-1 1h1v1h-1zm1 0h1v1h-1zm-2 1h1v1h-1zm3 0h1v1h-1zm-4 1h1v1h-1zm5 0h1v1h-1zM419 1222h1v1h-1zm5 0h1v1h-1zm-4 1h1v1h-1zm3 0h1v1h-1zm-2 1h1v1h-1zm1 0h1v1h-1zm-1 1h1v1h-1zm1 0h1v1h-1zm-2 1h1v1h-1zm3 0h1v1h-1zm-4 1h1v1h-1zm5 0h1v1h-1zM423 1250h1v1h-1zm4 0h1v1h-1zm-3 1h1v1h-1zm2 0h1v1h-1zm-1 1h1v1h-1zm-1 1h1v1h-1zm2 0h1v1h-1zm-3 1h1v1h-1zm4 0h1v1h-1zM426 1231h1v1h-1zm4 0h1v1h-1zm-3 1h1v1h-1zm2 0h1v1h-1zm-1 1h1v1h-1zm-1 1h1v1h-1zm2 0h1v1h-1zm-3 1h1v1h-1zm4 0h1v1h-1zM429 1138h1v1h-1zm5 0h1v1h-1zm-4 1h1v1h-1zm3 0h1v1h-1zm-2 1h1v1h-1zm1 0h1v1h-1zm-1 1h1v1h-1zm1 0h1v1h-1zm-2 1h1v1h-1zm3 0h1v1h-1zm-4 1h1v1h-1zm5 0h1v1h-1zM432 1230h1v1h-1zm5 0h1v1h-1zm-4 1h1v1h-1zm3 0h1v1h-1zm-2 1h1v1h-1zm1 0h1v1h-1zm-1 1h1v1h-1zm1 0h1v1h-1zm-2 1h1v1h-1zm3 0h1v1h-1zm-4 1h1v1h-1zm5 0h1v1h-1zM436 1201h1v1h-1zm4 0h1v1h-1zm-3 1h1v1h-1zm2 0h1v1h-1zm-1 1h1v1h-1zm-1 1h1v1h-1zm2 0h1v1h-1zm-3 1h1v1h-1zm4 0h1v1h-1zM439 1232h1v1h-1zm5 0h1v1h-1zm-4 1h1v1h-1zm3 0h1v1h-1zm-2 1h1v1h-1zm1 0h1v1h-1zm-1 1h1v1h-1zm1 0h1v1h-1zm-2 1h1v1h-1zm3 0h1v1h-1zm-4 1h1v1h-1zm5 0h1v1h-1zM442 1281h1v1h-1zm5 0h1v1h-1zm-4 1h1v1h-1zm3 0h1v1h-1zm-2 1h1v1h-1zm1 0h1v1h-1zm-1 1h1v1h-1zm1 0h1v1h-1zm-2 1h1v1h-1zm3 0h1v1h-1zm-4 1h1v1h-1zm5 0h1v1h-1zM446 1185h1v1h-1zm4 0h1v1h-1zm-3 1h1v1h-1zm2 0h1v1h-1zm-1 1h1v1h-1zm-1 1h1v1h-1zm2 0h1v1h-1zm-3 1h1v1h-1zm4 0h1v1h-1zM449 1204h1v1h-1zm4 0h1v1h-1zm-3 1h1v1h-1zm2 0h1v1h-1zm-1 1h1v1h-1zm-1 1h1v1h-1zm2 0h1v1h-1zm-3 1h1v1h-1zm4 0h1v1h-1zM452 1140h1v1h-1zm5 0h1v1h-1zm-4 1h1v1h-1zm3 0h1v1h-1zm-2 1h1v1h-1zm1 0h1v1h-1zm-1 1h1v1h-1zm1 0h1v1h-1zm-2 1h1v1h-1zm3 0h1v1h-1zm-4 1h1v1h-1zm5 0h1v1h-1zM455 1097h1v1h-1zm5 0h1v1h-1zm-4 1h1v1h-1zm3 0h1v1h-1zm-2 1h1v1h-1zm1 0h1v1h-1zm-1 1h1v1h-1zm1 0h1v1h-1zm-2 1h1v1h-1zm3 0h1v1h-1zm-4 1h1v1h-1zm5 0h1v1h-1zM459 1050h1v1h-1zm4 0h1v1h-1zm-3 1h1v1h-1zm2 0h1v1h-1zm-1 1h1v1h-1zm-1 1h1v1h-1zm2 0h1v1h-1zm-3 1h1v1h-1zm4 0h1v1h-1zM462 1159h1v1h-1zm5 0h1v1h-1zm-4 1h1v1h-1zm3 0h1v1h-1zm-2 1h1v1h-1zm1 0h1v1h-1zm-1 1h1v1h-1zm1 0h1v1h-1zm-2 1h1v1h-1zm3 0h1v1h-1zm-4 1h1v1h-1zm5 0h1v1h-1zM465 1240h1v1h-1zm5 0h1v1h-1zm-4 1h1v1h-1zm3 0h1v1h-1zm-2 1h1v1h-1zm1 0h1v1h-1zm-1 1h1v1h-1zm1 0h1v1h-1zm-2 1h1v1h-1zm3 0h1v1h-1zm-4 1h1v1h-1zm5 0h1v1h-1zM469 1065h1v1h-1zm4 0h1v1h-1zm-3 1h1v1h-1zm2 0h1v1h-1zm-1 1h1v1h-1zm-1 1h1v1h-1zm2 0h1v1h-1zm-3 1h1v1h-1zm4 0h1v1h-1zM472 1181h1v1h-1zm4 0h1v1h-1zm-3 1h1v1h-1zm2 0h1v1h-1zm-1 1h1v1h-1zm-1 1h1v1h-1zm2 0h1v1h-1zm-3 1h1v1h-1zm4 0h1v1h-1zM475 1174h1v1h-1zm5 0h1v1h-1zm-4 1h1v1h-1zm3 0h1v1h-1zm-2 1h1v1h-1zm1 0h1v1h-1zm-1 1h1v1h-1zm1 0h1v1h-1zm-2 1h1v1h-1zm3 0h1v1h-1zm-4 1h1v1h-1zm5 0h1v1h-1zM478 1243h1v1h-1zm5 0h1v1h-1zm-4 1h1v1h-1zm3 0h1v1h-1zm-2 1h1v1h-1zm1 0h1v1h-1zm-1 1h1v1h-1zm1 0h1v1h-1zm-2 1h1v1h-1zm3 0h1v1h-1zm-4 1h1v1h-1zm5 0h1v1h-1zM482 1153h1v1h-1zm4 0h1v1h-1zm-3 1h1v1h-1zm2 0h1v1h-1zm-1 1h1v1h-1zm-1 1h1v1h-1zm2 0h1v1h-1zm-3 1h1v1h-1zm4 0h1v1h-1zM485 1236h1v1h-1zm5 0h1v1h-1zm-4 1h1v1h-1zm3 0h1v1h-1zm-2 1h1v1h-1zm1 0h1v1h-1zm-1 1h1v1h-1zm1 0h1v1h-1zm-2 1h1v1h-1zm3 0h1v1h-1zm-4 1h1v1h-1zm5 0h1v1h-1zM488 1264h1v1h-1zm5 0h1v1h-1zm-4 1h1v1h-1zm3 0h1v1h-1zm-2 1h1v1h-1zm1 0h1v1h-1zm-1 1h1v1h-1zm1 0h1v1h-1zm-2 1h1v1h-1zm3 0h1v1h-1zm-4 1h1v1h-1zm5 0h1v1h-1zM492 1210h1v1h-1zm4 0h1v1h-1zm-3 1h1v1h-1zm2 0h1v1h-1zm-1 1h1v1h-1zm-1 1h1v1h-1zm2 0h1v1h-1zm-3 1h1v1h-1zm4 0h1v1h-1zM495 1182h1v1h-1zm4 0h1v1h-1zm-3 1h1v1h-1zm2 0h1v1h-1zm-1 1h1v1h-1zm-1 1h1v1h-1zm2 0h1v1h-1zm-3 1h1v1h-1zm4 0h1v1h-1zM498 1225h1v1h-1zm5 0h1v1h-1zm-4 1h1v1h-1zm3 0h1v1h-1zm-2 1h1v1h-1zm1 0h1v1h-1zm-1 1h1v1h-1zm1 0h1v1h-1zm-2 1h1v1h-1zm3 0h1v1h-1zm-4 1h1v1h-1zm5 0h1v1h-1zM501 1061h1v1h-1zm5 0h1v1h-1zm-4 1h1v1h-1zm3 0h1v1h-1zm-2 1h1v1h-1zm1 0h1v1h-1zm-1 1h1v1h-1zm1 0h1v1h-1zm-2 1h1v1h-1zm3 0h1v1h-1zm-4 1h1v1h-1zm5 0h1v1h-1zM505 1261h1v1h-1zm4 0h1v1h-1zm-3 1h1v1h-1zm2 0h1v1h-1zm-1 1h1v1h-1zm-1 1h1v1h-1zm2 0h1v1h-1zm-3 1h1v1h-1zm4 0h1v1h-1zM508 1066h1v1h-1zm5 0h1v1h-1zm-4 1h1v1h-1zm3 0h1v1h-1zm-2 1h1v1h-1zm1 0h1v1h-1zm-1 1h1v1h-1zm1 0h1v1h-1zm-2 1h1v1h-1zm3 0h1v1h-1zm-4 1h1v1h-1zm5 0h1v1h-1zM511 1198h1v1h-1zm5 0h1v1h-1zm-4 1h1v1h-1zm3 0h1v1h-1zm-2 1h1v1h-1zm1 0h1v1h-1zm-1 1h1v1h-1zm1 0h1v1h-1zm-2 1h1v1h-1zm3 0h1v1h-1zm-4 1h1v1h-1zm5 0h1v1h-1zM514 1113h1v1h-1zm5 0h1v1h-1zm-4 1h1v1h-1zm3 0h1v1h-1zm-2 1h1v1h-1zm1 0h1v1h-1zm-1 1h1v1h-1zm1 0h1v1h-1zm-2 1h1v1h-1zm3 0h1v1h-1zm-4 1h1v1h-1zm5 0h1v1h-1zM518 1143h1v1h-1zm4 0h1v1h-1zm-3 1h1v1h-1zm2 0h1v1h-1zm-1 1h1v1h-1zm-1 1h1v1h-1zm2 0h1v1h-1zm-3 1h1v1h-1zm4 0h1v1h-1zM521 1135h1v1h-1zm5 0h1v1h-1zm-4 1h1v1h-1zm3 0h1v1h-1zm-2 1h1v1h-1zm1 0h1v1h-1zm-1 1h1v1h-1zm1 0h1v1h-1zm-2 1h1v1h-1zm3 0h1v1h-1zm-4 1h1v1h-1zm5 0h1v1h-1zM524 1240h1v1h-1zm5 0h1v1h-1zm-4 1h1v1h-1zm3 0h1v1h-1zm-2 1h1v1h-1zm1 0h1v1h-1zm-1 1h1v1h-1zm1 0h1v1h-1zm-2 1h1v1h-1zm3 0h1v1h-1zm-4 1h1v1h-1zm5 0h1v1h-1zM528 1113h1v1h-1zm4 0h1v1h-1zm-3 1h1v1h-1zm2 0h1v1h-1zm-1 1h1v1h-1zm-1 1h1v1h-1zm2 0h1v1h-1zm-3 1h1v1h-1zm4 0h1v1h-1zM531 1284h1v1h-1zm4 0h1v1h-1zm-3 1h1v1h-1zm2 0h1v1h-1zm-1 1h1v1h-1zm-1 1h1v1h-1zm2 0h1v1h-1zm-3 1h1v1h-1zm4 0h1v1h-1zM534 1095h1v1h-1zm5 0h1v1h-1zm-4 1h1v1h-1zm3 0h1v1h-1zm-2 1h1v1h-1zm1 0h1v1h-1zm-1 1h1v1h-1zm1 0h1v1h-1zm-2 1h1v1h-1zm3 0h1v1h-1zm-4 1h1v1h-1zm5 0h1v1h-1zM537 1224h1v1h-1zm5 0h1v1h-1zm-4 1h1v1h-1zm3 0h1v1h-1zm-2 1h1v1h-1zm1 0h1v1h-1zm-1 1h1v1h-1zm1 0h1v1h-1zm-2 1h1v1h-1zm3 0h1v1h-1zm-4 1h1v1h-1zm5 0h1v1h-1zM541 1212h1v1h-1zm4 0h1v1h-1zm-3 1h1v1h-1zm2 0h1v1h-1zm-1 1h1v1h-1zm-1 1h1v1h-1zm2 0h1v1h-1zm-3 1h1v1h-1zm4 0h1v1h-1zM544 1050h1v1h-1zm5 0h1v1h-1zm-4 1h1v1h-1zm3 0h1v1h-1zm-2 1h1v1h-1zm1 0h1v1h-1zm-1 1h1v1h-1zm1 0h1v1h-1zm-2 1h1v1h-1zm3 0h1v1h-1zm-4 1h1v1h-1zm5 0h1v1h-1zM547 1193h1v1h-1zm5 0h1v1h-1zm-4 1h1v1h-1zm3 0h1v1h-1zm-2 1h1v1h-1zm1 0h1v1h-1zm-1 1h1v1h-1zm1 0h1v1h-1zm-2 1h1v1h-1zm3 0h1v1h-1zm-4 1h1v1h-1zm5 0h1v1h-1zM551 1280h1v1h-1zm4 0h1v1h-1zm-3 1h1v1h-1zm2 0h1v1h-1zm-1 1h1v1h-1zm-1 1h1v1h-1zm2 0h1v1h-1zm-3 1h1v1h-1zm4 0h1v1h-1zM554 1136h1v1h-1zm4 0h1v1h-1zm-3 1h1v1h-1zm2 0h1v1h-1zm-1 1h1v1h-1zm-1 1h1v1h-1zm2 0h1v1h-1zm-3 1h1v1h-1zm4 0h1v1h-1zM557 1140h1v1h-1zm5 0h1v1h-1zm-4 1h1v1h-1zm3 0h1v1h-1zm-2 1h1v1h-1zm1 0h1v1h-1zm-1 1h1v1h-1zm1 0h1v1h-1zm-2 1h1v1h-1zm3 0h1v1h-1zm-4 1h1v1h-1zm5 0h1v1h-1zM560 1312h1v1h-1zm5 0h1v1h-1zm-4 1h1v1h-1zm3 0h1v1h-1zm-2 1h1v1h-1zm1 0h1v1h-1zm-1 1h1v1h-1zm1 0h1v1h-1zm-2 1h1v1h-1zm3 0h1v1h-1zm-4 1h1v1h-1zm5 0h1v1h-1zM564 1172h1v1h-1zm4 0h1v1h-1zm-3 1h1v1h-1zm2 0h1v1h-1zm-1 1h1v1h-1zm-1 1h1v1h-1zm2 0h1v1h-1zm-3 1h1v1h-1zm4 0h1v1h-1zM567 1188h1v1h-1zm5 0h1v1h-1zm-4 1h1v1h-1zm3 0h1v1h-1zm-2 1h1v1h-1zm1 0h1v1h-1zm-1 1h1v1h-1zm1 0h1v1h-1zm-2 1h1v1h-1zm3 0h1v1h-1zm-4 1h1v1h-1zm5 0h1v1h-1zM570 1320h1v1h-1zm5 0h1v1h-1zm-4 1h1v1h-1zm3 0h1v1h-1zm-2 1h1v1h-1zm1 0h1v1h-1zm-1 1h1v1h-1zm1 0h1v1h-1zm-2 1h1v1h-1zm3 0h1v1h-1zm-4 1h1v1h-1zm5 0h1v1h-1zM574 1121h1v1h-1zm4 0h1v1h-1zm-3 1h1v1h-1zm2 0h1v1h-1zm-1 1h1v1h-1zm-1 1h1v1h-1zm2 0h1v1h-1zm-3 1h1v1h-1zm4 0h1v1h-1zM577 1226h1v1h-1zm4 0h1v1h-1zm-3 1h1v1h-1zm2 0h1v1h-1zm-1 1h1v1h-1zm-1 1h1v1h-1zm2 0h1v1h-1zm-3 1h1v1h-1zm4 0h1v1h-1zM580 1217h1v1h-1zm5 0h1v1h-1zm-4 1h1v1h-1zm3 0h1v1h-1zm-2 1h1v1h-1zm1 0h1v1h-1zm-1 1h1v1h-1zm1 0h1v1h-1zm-2 1h1v1h-1zm3 0h1v1h-1zm-4 1h1v1h-1zm5 0h1v1h-1zM583 1066h1v1h-1zm5 0h1v1h-1zm-4 1h1v1h-1zm3 0h1v1h-1zm-2 1h1v1h-1zm1 0h1v1h-1zm-1 1h1v1h-1zm1 0h1v1h-1zm-2 1h1v1h-1zm3 0h1v1h-1zm-4 1h1v1h-1zm5 0h1v1h-1zM587 1250h1v1h-1zm4 0h1v1h-1zm-3 1h1v1h-1zm2 0h1v1h-1zm-1 1h1v1h-1zm-1 1h1v1h-1zm2 0h1v1h-1zm-3 1h1v1h-1zm4 0h1v1h-1zM590 1142h1v1h-1zm5 0h1v1h-1zm-4 1h1v1h-1zm3 0h1v1h-1zm-2 1h1v1h-1zm1 0h1v1h-1zm-1 1h1v1h-1zm1 0h1v1h-1zm-2 1h1v1h-1zm3 0h1v1h-1zm-4 1h1v1h-1zm5 0h1v1h-1zM593 1121h1v1h-1zm5 0h1v1h-1zm-4 1h1v1h-1zm3 0h1v1h-1zm-2 1h1v1h-1zm1 0h1v1h-1zm-1 1h1v1h-1zm1 0h1v1h-1zm-2 1h1v1h-1zm3 0h1v1h-1zm-4 1h1v1h-1zm5 0h1v1h-1zM597 1232h1v1h-1zm4 0h1v1h-1zm-3 1h1v1h-1zm2 0h1v1h-1zm-1 1h1v1h-1zm-1 1h1v1h-1zm2 0h1v1h-1zm-3 1h1v1h-1zm4 0h1v1h-1zM600 1250h1v1h-1zm4 0h1v1h-1zm-3 1h1v1h-1zm2 0h1v1h-1zm-1 1h1v1h-1zm-1 1h1v1h-1zm2 0h1v1h-1zm-3 1h1v1h-1zm4 0h1v1h-1zM603 1213h1v1h-1zm5 0h1v1h-1zm-4 1h1v1h-1zm3 0h1v1h-1zm-2 1h1v1h-1zm1 0h1v1h-1zm-1 1h1v1h-1zm1 0h1v1h-1zm-2 1h1v1h-1zm3 0h1v1h-1zm-4 1h1v1h-1zm5 0h1v1h-1zM606 1204h1v1h-1zm5 0h1v1h-1zm-4 1h1v1h-1zm3 0h1v1h-1zm-2 1h1v1h-1zm1 0h1v1h-1zm-1 1h1v1h-1zm1 0h1v1h-1zm-2 1h1v1h-1zm3 0h1v1h-1zm-4 1h1v1h-1zm5 0h1v1h-1zM610 1134h1v1h-1zm4 0h1v1h-1zm-3 1h1v1h-1zm2 0h1v1h-1zm-1 1h1v1h-1zm-1 1h1v1h-1zm2 0h1v1h-1zm-3 1h1v1h-1zm4 0h1v1h-1zM613 1094h1v1h-1zm5 0h1v1h-1zm-4 1h1v1h-1zm3 0h1v1h-1zm-2 1h1v1h-1zm1 0h1v1h-1zm-1 1h1v1h-1zm1 0h1v1h-1zm-2 1h1v1h-1zm3 0h1v1h-1zm-4 1h1v1h-1zm5 0h1v1h-1zM616 1214h1v1h-1zm5 0h1v1h-1zm-4 1h1v1h-1zm3 0h1v1h-1zm-2 1h1v1h-1zm1 0h1v1h-1zm-1 1h1v1h-1zm1 0h1v1h-1zm-2 1h1v1h-1zm3 0h1v1h-1zm-4 1h1v1h-1zm5 0h1v1h-1zM619 1133h1v1h-1zm5 0h1v1h-1zm-4 1h1v1h-1zm3 0h1v1h-1zm-2 1h1v1h-1zm1 0h1v1h-1zm-1 1h1v1h-1zm1 0h1v1h-1zm-2 1h1v1h-1zm3 0h1v1h-1zm-4 1h1v1h-1zm5 0h1v1h-1zM623 1071h1v1h-1zm4 0h1v1h-1zm-3 1h1v1h-1zm2 0h1v1h-1zm-1 1h1v1h-1zm-1 1h1v1h-1zm2 0h1v1h-1zm-3 1h1v1h-1zm4 0h1v1h-1zM626 1215h1v1h-1zm5 0h1v1h-1zm-4 1h1v1h-1zm3 0h1v1h-1zm-2 1h1v1h-1zm1 0h1v1h-1zm-1 1h1v1h-1zm1 0h1v1h-1zm-2 1h1v1h-1zm3 0h1v1h-1zm-4 1h1v1h-1zm5 0h1v1h-1zM629 1154h1v1h-1zm5 0h1v1h-1zm-4 1h1v1h-1zm3 0h1v1h-1zm-2 1h1v1h-1zm1 0h1v1h-1zm-1 1h1v1h-1zm1 0h1v1h-1zm-2 1h1v1h-1zm3 0h1v1h-1zm-4 1h1v1h-1zm5 0h1v1h-1zM633 1091h1v1h-1zm4 0h1v1h-1zm-3 1h1v1h-1zm2 0h1v1h-1zm-1 1h1v1h-1zm-1 1h1v1h-1zm2 0h1v1h-1zm-3 1h1v1h-1zm4 0h1v1h-1zM636 1275h1v1h-1zm4 0h1v1h-1zm-3 1h1v1h-1zm2 0h1v1h-1zm-1 1h1v1h-1zm-1 1h1v1h-1zm2 0h1v1h-1zm-3 1h1v1h-1zm4 0h1v1h-1zM639 1221h1v1h-1zm5 0h1v1h-1zm-4 1h1v1h-1zm3 0h1v1h-1zm-2 1h1v1h-1zm1 0h1v1h-1zm-1 1h1v1h-1zm1 0h1v1h-1zm-2 1h1v1h-1zm3 0h1v1h-1zm-4 1h1v1h-1zm5 0h1v1h-1zM642 1125h1v1h-1zm5 0h1v1h-1zm-4 1h1v1h-1zm3 0h1v1h-1zm-2 1h1v1h-1zm1 0h1v1h-1zm-1 1h1v1h-1zm1 0h1v1h-1zm-2 1h1v1h-1zm3 0h1v1h-1zm-4 1h1v1h-1zm5 0h1v1h-1zM646 1221h1v1h-1zm4 0h1v1h-1zm-3 1h1v1h-1zm2 0h1v1h-1zm-1 1h1v1h-1zm-1 1h1v1h-1zm2 0h1v1h-1zm-3 1h1v1h-1zm4 0h1v1h-1zM649 1130h1v1h-1zm5 0h1v1h-1zm-4 1h1v1h-1zm3 0h1v1h-1zm-2 1h1v1h-1zm1 0h1v1h-1zm-1 1h1v1h-1zm1 0h1v1h-1zm-2 1h1v1h-1zm3 0h1v1h-1zm-4 1h1v1h-1zm5 0h1v1h-1zM652 1070h1v1h-1zm5 0h1v1h-1zm-4 1h1v1h-1zm3 0h1v1h-1zm-2 1h1v1h-1zm1 0h1v1h-1zm-1 1h1v1h-1zm1 0h1v1h-1zm-2 1h1v1h-1zm3 0h1v1h-1zm-4 1h1v1h-1zm5 0h1v1h-1zM656 1154h1v1h-1zm4 0h1v1h-1zm-3 1h1v1h-1zm2 0h1v1h-1zm-1 1h1v1h-1zm-1 1h1v1h-1zm2 0h1v1h-1zm-3 1h1v1h-1zm4 0h1v1h-1zM659 1096h1v1h-1zm4 0h1v1h-1zm-3 1h1v1h-1zm2 0h1v1h-1zm-1 1h1v1h-1zm-1 1h1v1h-1zm2 0h1v1h-1zm-3 1h1v1h-1zm4 0h1v1h-1zM662 1081h1v1h-1zm5 0h1v1h-1zm-4 1h1v1h-1zm3 0h1v1h-1zm-2 1h1v1h-1zm1 0h1v1h-1zm-1 1h1v1h-1zm1 0h1v1h-1zm-2 1h1v1h-1zm3 0h1v1h-1zm-4 1h1v1h-1zm5 0h1v1h-1zM665 1127h1v1h-1zm5 0h1v1h-1zm-4 1h1v1h-1zm3 0h1v1h-1zm-2 1h1v1h-1zm1 0h1v1h-1zm-1 1h1v1h-1zm1 0h1v1h-1zm-2 1h1v1h-1zm3 0h1v1h-1zm-4 1h1v1h-1zm5 0h1v1h-1zM669 1115h1v1h-1zm4 0h1v1h-1zm-3 1h1v1h-1zm2 0h1v1h-1zm-1 1h1v1h-1zm-1 1h1v1h-1zm2 0h1v1h-1zm-3 1h1v1h-1zm4 0h1v1h-1zM672 1175h1v1h-1zm5 0h1v1h-1zm-4 1h1v1h-1zm3 0h1v1h-1zm-2 1h1v1h-1zm1 0h1v1h-1zm-1 1h1v1h-1zm1 0h1v1h-1zm-2 1h1v1h-1zm3 0h1v1h-1zm-4 1h1v1h-1zm5 0h1v1h-1zM675 1161h1v1h-1zm5 0h1v1h-1zm-4 1h1v1h-1zm3 0h1v1h-1zm-2 1h1v1h-1zm1 0h1v1h-1zm-1 1h1v1h-1zm1 0h1v1h-1zm-2 1h1v1h-1zm3 0h1v1h-1zm-4 1h1v1h-1zm5 0h1v1h-1zM679 1086h1v1h-1zm4 0h1v1h-1zm-3 1h1v1h-1zm2 0h1v1h-1zm-1 1h1v1h-1zm-1 1h1v1h-1zm2 0h1v1h-1zm-3 1h1v1h-1zm4 0h1v1h-1zM682 1097h1v1h-1zm4 0h1v1h-1zm-3 1h1v1h-1zm2 0h1v1h-1zm-1 1h1v1h-1zm-1 1h1v1h-1zm2 0h1v1h-1zm-3 1h1v1h-1zm4 0h1v1h-1zM685 1208h1v1h-1zm5 0h1v1h-1zm-4 1h1v1h-1zm3 0h1v1h-1zm-2 1h1v1h-1zm1 0h1v1h-1zm-1 1h1v1h-1zm1 0h1v1h-1zm-2 1h1v1h-1zm3 0h1v1h-1zm-4 1h1v1h-1zm5 0h1v1h-1zM688 1112h1v1h-1zm5 0h1v1h-1zm-4 1h1v1h-1zm3 0h1v1h-1zm-2 1h1v1h-1zm1 0h1v1h-1zm-1 1h1v1h-1zm1 0h1v1h-1zm-2 1h1v1h-1zm3 0h1v1h-1zm-4 1h1v1h-1zm5 0h1v1h-1zM692 1275h1v1h-1zm4 0h1v1h-1zm-3 1h1v1h-1zm2 0h1v1h-1zm-1 1h1v1h-1zm-1 1h1v1h-1zm2 0h1v1h-1zm-3 1h1v1h-1zm4 0h1v1h-1zM695 1177h1v1h-1zm5 0h1v1h-1zm-4 1h1v1h-1zm3 0h1v1h-1zm-2 1h1v1h-1zm1 0h1v1h-1zm-1 1h1v1h-1zm1 0h1v1h-1zm-2 1h1v1h-1zm3 0h1v1h-1zm-4 1h1v1h-1zm5 0h1v1h-1zM698 1188h1v1h-1zm5 0h1v1h-1zm-4 1h1v1h-1zm3 0h1v1h-1zm-2 1h1v1h-1zm1 0h1v1h-1zm-1 1h1v1h-1zm1 0h1v1h-1zm-2 1h1v1h-1zm3 0h1v1h-1zm-4 1h1v1h-1zm5 0h1v1h-1zM702 1150h1v1h-1zm4 0h1v1h-1zm-3 1h1v1h-1zm2 0h1v1h-1zm-1 1h1v1h-1zm-1 1h1v1h-1zm2 0h1v1h-1zm-3 1h1v1h-1zm4 0h1v1h-1zM705 1140h1v1h-1zm4 0h1v1h-1zm-3 1h1v1h-1zm2 0h1v1h-1zm-1 1h1v1h-1zm-1 1h1v1h-1zm2 0h1v1h-1zm-3 1h1v1h-1zm4 0h1v1h-1zM708 1151h1v1h-1zm5 0h1v1h-1zm-4 1h1v1h-1zm3 0h1v1h-1zm-2 1h1v1h-1zm1 0h1v1h-1zm-1 1h1v1h-1zm1 0h1v1h-1zm-2 1h1v1h-1zm3 0h1v1h-1zm-4 1h1v1h-1zm5 0h1v1h-1zM711 1174h1v1h-1zm5 0h1v1h-1zm-4 1h1v1h-1zm3 0h1v1h-1zm-2 1h1v1h-1zm1 0h1v1h-1zm-1 1h1v1h-1zm1 0h1v1h-1zm-2 1h1v1h-1zm3 0h1v1h-1zm-4 1h1v1h-1zm5 0h1v1h-1zM715 1199h1v1h-1zm4 0h1v1h-1zm-3 1h1v1h-1zm2 0h1v1h-1zm-1 1h1v1h-1zm-1 1h1v1h-1zm2 0h1v1h-1zm-3 1h1v1h-1zm4 0h1v1h-1zM718 1113h1v1h-1zm5 0h1v1h-1zm-4 1h1v1h-1zm3 0h1v1h-1zm-2 1h1v1h-1zm1 0h1v1h-1zm-1 1h1v1h-1zm1 0h1v1h-1zm-2 1h1v1h-1zm3 0h1v1h-1zm-4 1h1v1h-1zm5 0h1v1h-1zM721 1116h1v1h-1zm5 0h1v1h-1zm-4 1h1v1h-1zm3 0h1v1h-1zm-2 1h1v1h-1zm1 0h1v1h-1zm-1 1h1v1h-1zm1 0h1v1h-1zm-2 1h1v1h-1zm3 0h1v1h-1zm-4 1h1v1h-1zm5 0h1v1h-1zM724 1222h1v1h-1zm5 0h1v1h-1zm-4 1h1v1h-1zm3 0h1v1h-1zm-2 1h1v1h-1zm1 0h1v1h-1zm-1 1h1v1h-1zm1 0h1v1h-1zm-2 1h1v1h-1zm3 0h1v1h-1zm-4 1h1v1h-1zm5 0h1v1h-1zM728 1067h1v1h-1zm4 0h1v1h-1zm-3 1h1v1h-1zm2 0h1v1h-1zm-1 1h1v1h-1zm-1 1h1v1h-1zm2 0h1v1h-1zm-3 1h1v1h-1zm4 0h1v1h-1zM731 1222h1v1h-1zm5 0h1v1h-1zm-4 1h1v1h-1zm3 0h1v1h-1zm-2 1h1v1h-1zm1 0h1v1h-1zm-1 1h1v1h-1zm1 0h1v1h-1zm-2 1h1v1h-1zm3 0h1v1h-1zm-4 1h1v1h-1zm5 0h1v1h-1zM734 1194h1v1h-1zm5 0h1v1h-1zm-4 1h1v1h-1zm3 0h1v1h-1zm-2 1h1v1h-1zm1 0h1v1h-1zm-1 1h1v1h-1zm1 0h1v1h-1zm-2 1h1v1h-1zm3 0h1v1h-1zm-4 1h1v1h-1zm5 0h1v1h-1zM738 1202h1v1h-1zm4 0h1v1h-1zm-3 1h1v1h-1zm2 0h1v1h-1zm-1 1h1v1h-1zm-1 1h1v1h-1zm2 0h1v1h-1zm-3 1h1v1h-1zm4 0h1v1h-1zM741 1269h1v1h-1zm4 0h1v1h-1zm-3 1h1v1h-1zm2 0h1v1h-1zm-1 1h1v1h-1zm-1 1h1v1h-1zm2 0h1v1h-1zm-3 1h1v1h-1zm4 0h1v1h-1zM744 1130h1v1h-1zm5 0h1v1h-1zm-4 1h1v1h-1zm3 0h1v1h-1zm-2 1h1v1h-1zm1 0h1v1h-1zm-1 1h1v1h-1zm1 0h1v1h-1zm-2 1h1v1h-1zm3 0h1v1h-1zm-4 1h1v1h-1zm5 0h1v1h-1zM747 1167h1v1h-1zm5 0h1v1h-1zm-4 1h1v1h-1zm3 0h1v1h-1zm-2 1h1v1h-1zm1 0h1v1h-1zm-1 1h1v1h-1zm1 0h1v1h-1zm-2 1h1v1h-1zm3 0h1v1h-1zm-4 1h1v1h-1zm5 0h1v1h-1zM751 1026h1v1h-1zm4 0h1v1h-1zm-3 1h1v1h-1zm2 0h1v1h-1zm-1 1h1v1h-1zm-1 1h1v1h-1zm2 0h1v1h-1zm-3 1h1v1h-1zm4 0h1v1h-1zM754 1178h1v1h-1zm5 0h1v1h-1zm-4 1h1v1h-1zm3 0h1v1h-1zm-2 1h1v1h-1zm1 0h1v1h-1zm-1 1h1v1h-1zm1 0h1v1h-1zm-2 1h1v1h-1zm3 0h1v1h-1zm-4 1h1v1h-1zm5 0h1v1h-1zM757 1300h1v1h-1zm5 0h1v1h-1zm-4 1h1v1h-1zm3 0h1v1h-1zm-2 1h1v1h-1zm1 0h1v1h-1zm-1 1h1v1h-1zm1 0h1v1h-1zm-2 1h1v1h-1zm3 0h1v1h-1zm-4 1h1v1h-1zm5 0h1v1h-1zM761 1253h1v1h-1zm4 0h1v1h-1zm-3 1h1v1h-1zm2 0h1v1h-1zm-1 1h1v1h-1zm-1 1h1v1h-1zm2 0h1v1h-1zm-3 1h1v1h-1zm4 0h1v1h-1zM764 1197h1v1h-1zm4 0h1v1h-1zm-3 1h1v1h-1zm2 0h1v1h-1zm-1 1h1v1h-1zm-1 1h1v1h-1zm2 0h1v1h-1zm-3 1h1v1h-1zm4 0h1v1h-1zM767 1183h1v1h-1zm5 0h1v1h-1zm-4 1h1v1h-1zm3 0h1v1h-1zm-2 1h1v1h-1zm1 0h1v1h-1zm-1 1h1v1h-1zm1 0h1v1h-1zm-2 1h1v1h-1zm3 0h1v1h-1zm-4 1h1v1h-1zm5 0h1v1h-1zM770 1177h1v1h-1zm5 0h1v1h-1zm-4 1h1v1h-1zm3 0h1v1h-1zm-2 1h1v1h-1zm1 0h1v1h-1zm-1 1h1v1h-1zm1 0h1v1h-1zm-2 1h1v1h-1zm3 0h1v1h-1zm-4 1h1v1h-1zm5 0h1v1h-1zM774 1105h1v1h-1zm4 0h1v1h-1zm-3 1h1v1h-1zm2 0h1v1h-1zm-1 1h1v1h-1zm-1 1h1v1h-1zm2 0h1v1h-1zm-3 1h1v1h-1zm4 0h1v1h-1zM777 1200h1v1h-1zm5 0h1v1h-1zm-4 1h1v1h-1zm3 0h1v1h-1zm-2 1h1v1h-1zm1 0h1v1h-1zm-1 1h1v1h-1zm1 0h1v1h-1zm-2 1h1v1h-1zm3 0h1v1h-1zm-4 1h1v1h-1zm5 0h1v1h-1zM780 1297h1v1h-1zm5 0h1v1h-1zm-4 1h1v1h-1zm3 0h1v1h-1zm-2 1h1v1h-1zm1 0h1v1h-1zm-1 1h1v1h-1zm1 0h1v1h-1zm-2 1h1v1h-1zm3 0h1v1h-1zm-4 1h1v1h-1zm5 0h1v1h-1zM784 1115h1v1h-1zm4 0h1v1h-1zm-3 1h1v1h-1zm2 0h1v1h-1zm-1 1h1v1h-1zm-1 1h1v1h-1zm2 0h1v1h-1zm-3 1h1v1h-1zm4 0h1v1h-1zM787 1193h1v1h-1zm4 0h1v1h-1zm-3 1h1v1h-1zm2 0h1v1h-1zm-1 1h1v1h-1zm-1 1h1v1h-1zm2 0h1v1h-1zm-3 1h1v1h-1zm4 0h1v1h-1zM790 1066h1v1h-1zm5 0h1v1h-1zm-4 1h1v1h-1zm3 0h1v1h-1zm-2 1h1v1h-1zm1 0h1v1h-1zm-1 1h1v1h-1zm1 0h1v1h-1zm-2 1h1v1h-1zm3 0h1v1h-1zm-4 1h1v1h-1zm5 0h1v1h-1zM793 1082h1v1h-1zm5 0h1v1h-1zm-4 1h1v1h-1zm3 0h1v1h-1zm-2 1h1v1h-1zm1 0h1v1h-1zm-1 1h1v1h-1zm1 0h1v1h-1zm-2 1h1v1h-1zm3 0h1v1h-1zm-4 1h1v1h-1zm5 0h1v1h-1zM797 1196h1v1h-1zm4 0h1v1h-1zm-3 1h1v1h-1zm2 0h1v1h-1zm-1 1h1v1h-1zm-1 1h1v1h-1zm2 0h1v1h-1zm-3 1h1v1h-1zm4 0h1v1h-1zM800 1095h1v1h-1zm5 0h1v1h-1zm-4 1h1v1h-1zm3 0h1v1h-1zm-2 1h1v1h-1zm1 0h1v1h-1zm-1 1h1v1h-1zm1 0h1v1h-1zm-2 1h1v1h-1zm3 0h1v1h-1zm-4 1h1v1h-1zm5 0h1v1h-1zM803 1168h1v1h-1zm5 0h1v1h-1zm-4 1h1v1h-1zm3 0h1v1h-1zm-2 1h1v1h-1zm1 0h1v1h-1zm-1 1h1v1h-1zm1 0h1v1h-1zm-2 1h1v1h-1zm3 0h1v1h-1zm-4 1h1v1h-1zm5 0h1v1h-1zM807 1257h1v1h-1zm4 0h1v1h-1zm-3 1h1v1h-1zm2 0h1v1h-1zm-1 1h1v1h-1zm-1 1h1v1h-1zm2 0h1v1h-1zm-3 1h1v1h-1zm4 0h1v1h-1zM810 1170h1v1h-1zm4 0h1v1h-1zm-3 1h1v1h-1zm2 0h1v1h-1zm-1 1h1v1h-1zm-1 1h1v1h-1zm2 0h1v1h-1zm-3 1h1v1h-1zm4 0h1v1h-1zM813 1082h1v1h-1zm5 0h1v1h-1zm-4 1h1v1h-1zm3 0h1v1h-1zm-2 1h1v1h-1zm1 0h1v1h-1zm-1 1h1v1h-1zm1 0h1v1h-1zm-2 1h1v1h-1zm3 0h1v1h-1zm-4 1h1v1h-1zm5 0h1v1h-1zM816 1092h1v1h-1zm5 0h1v1h-1zm-4 1h1v1h-1zm3 0h1v1h-1zm-2 1h1v1h-1zm1 0h1v1h-1zm-1 1h1v1h-1zm1 0h1v1h-1zm-2 1h1v1h-1zm3 0h1v1h-1zm-4 1h1v1h-1zm5 0h1v1h-1zM820 1206h1v1h-1zm4 0h1v1h-1zm-3 1h1v1h-1zm2 0h1v1h-1zm-1 1h1v1h-1zm-1 1h1v1h-1zm2 0h1v1h-1zm-3 1h1v1h-1zm4 0h1v1h-1zM823 1120h1v1h-1zm5 0h1v1h-1zm-4 1h1v1h-1zm3 0h1v1h-1zm-2 1h1v1h-1zm1 0h1v1h-1zm-1 1h1v1h-1zm1 0h1v1h-1zm-2 1h1v1h-1zm3 0h1v1h-1zm-4 1h1v1h-1zm5 0h1v1h-1zM826 1153h1v1h-1zm5 0h1v1h-1zm-4 1h1v1h-1zm3 0h1v1h-1zm-2 1h1v1h-1zm1 0h1v1h-1zm-1 1h1v1h-1zm1 0h1v1h-1zm-2 1h1v1h-1zm3 0h1v1h-1zm-4 1h1v1h-1zm5 0h1v1h-1zM829 1055h1v1h-1zm5 0h1v1h-1zm-4 1h1v1h-1zm3 0h1v1h-1zm-2 1h1v1h-1zm1 0h1v1h-1zm-1 1h1v1h-1zm1 0h1v1h-1zm-2 1h1v1h-1zm3 0h1v1h-1zm-4 1h1v1h-1zm5 0h1v1h-1zM833 1055h1v1h-1zm4 0h1v1h-1zm-3 1h1v1h-1zm2 0h1v1h-1zm-1 1h1v1h-1zm-1 1h1v1h-1zm2 0h1v1h-1zm-3 1h1v1h-1zm4 0h1v1h-1zM836 1077h1v1h-1zm5 0h1v1h-1zm-4 1h1v1h-1zm3 0h1v1h-1zm-2 1h1v1h-1zm1 0h1v1h-1zm-1 1h1v1h-1zm1 0h1v1h-1zm-2 1h1v1h-1zm3 0h1v1h-1zm-4 1h1v1h-1zm5 0h1v1h-1zM839 1067h1v1h-1zm5 0h1v1h-1zm-4 1h1v1h-1zm3 0h1v1h-1zm-2 1h1v1h-1zm1 0h1v1h-1zm-1 1h1v1h-1zm1 0h1v1h-1zm-2 1h1v1h-1zm3 0h1v1h-1zm-4 1h1v1h-1zm5 0h1v1h-1zM843 1264h1v1h-1zm4 0h1v1h-1zm-3 1h1v1h-1zm2 0h1v1h-1zm-1 1h1v1h-1zm-1 1h1v1h-1zm2 0h1v1h-1zm-3 1h1v1h-1zm4 0h1v1h-1zM846 1149h1v1h-1zm4 0h1v1h-1zm-3 1h1v1h-1zm2 0h1v1h-1zm-1 1h1v1h-1zm-1 1h1v1h-1zm2 0h1v1h-1zm-3 1h1v1h-1zm4 0h1v1h-1zM849 1073h1v1h-1zm5 0h1v1h-1zm-4 1h1v1h-1zm3 0h1v1h-1zm-2 1h1v1h-1zm1 0h1v1h-1zm-1 1h1v1h-1zm1 0h1v1h-1zm-2 1h1v1h-1zm3 0h1v1h-1zm-4 1h1v1h-1zm5 0h1v1h-1zM852 1066h1v1h-1zm5 0h1v1h-1zm-4 1h1v1h-1zm3 0h1v1h-1zm-2 1h1v1h-1zm1 0h1v1h-1zm-1 1h1v1h-1zm1 0h1v1h-1zm-2 1h1v1h-1zm3 0h1v1h-1zm-4 1h1v1h-1zm5 0h1v1h-1zM856 1068h1v1h-1zm4 0h1v1h-1zm-3 1h1v1h-1zm2 0h1v1h-1zm-1 1h1v1h-1zm-1 1h1v1h-1zm2 0h1v1h-1zm-3 1h1v1h-1zm4 0h1v1h-1zM859 1158h1v1h-1zm5 0h1v1h-1zm-4 1h1v1h-1zm3 0h1v1h-1zm-2 1h1v1h-1zm1 0h1v1h-1zm-1 1h1v1h-1zm1 0h1v1h-1zm-2 1h1v1h-1zm3 0h1v1h-1zm-4 1h1v1h-1zm5 0h1v1h-1zM862 1159h1v1h-1zm5 0h1v1h-1zm-4 1h1v1h-1zm3 0h1v1h-1zm-2 1h1v1h-1zm1 0h1v1h-1zm-1 1h1v1h-1zm1 0h1v1h-1zm-2 1h1v1h-1zm3 0h1v1h-1zm-4 1h1v1h-1zm5 0h1v1h-1zM866 1178h1v1h-1zm4 0h1v1h-1zm-3 1h1v1h-1zm2 0h1v1h-1zm-1 1h1v1h-1zm-1 1h1v1h-1zm2 0h1v1h-1zm-3 1h1v1h-1zm4 0h1v1h-1zM869 1162h1v1h-1zm4 0h1v1h-1zm-3 1h1v1h-1zm2 0h1v1h-1zm-1 1h1v1h-1zm-1 1h1v1h-1zm2 0h1v1h-1zm-3 1h1v1h-1zm4 0h1v1h-1zM872 1190h1v1h-1zm5 0h1v1h-1zm-4 1h1v1h-1zm3 0h1v1h-1zm-2 1h1v1h-1zm1 0h1v1h-1zm-1 1h1v1h-1zm1 0h1v1h-1zm-2 1h1v1h-1zm3 0h1v1h-1zm-4 1h1v1h-1zm5 0h1v1h-1zM875 1179h1v1h-1zm5 0h1v1h-1zm-4 1h1v1h-1zm3 0h1v1h-1zm-2 1h1v1h-1zm1 0h1v1h-1zm-1 1h1v1h-1zm1 0h1v1h-1zm-2 1h1v1h-1zm3 0h1v1h-1zm-4 1h1v1h-1zm5 0h1v1h-1zM879 1207h1v1h-1zm4 0h1v1h-1zm-3 1h1v1h-1zm2 0h1v1h-1zm-1 1h1v1h-1zm-1 1h1v1h-1zm2 0h1v1h-1zm-3 1h1v1h-1zm4 0h1v1h-1zM882 1125h1v1h-1zm5 0h1v1h-1zm-4 1h1v1h-1zm3 0h1v1h-1zm-2 1h1v1h-1zm1 0h1v1h-1zm-1 1h1v1h-1zm1 0h1v1h-1zm-2 1h1v1h-1zm3 0h1v1h-1zm-4 1h1v1h-1zm5 0h1v1h-1zM885 1122h1v1h-1zm5 0h1v1h-1zm-4 1h1v1h-1zm3 0h1v1h-1zm-2 1h1v1h-1zm1 0h1v1h-1zm-1 1h1v1h-1zm1 0h1v1h-1zm-2 1h1v1h-1zm3 0h1v1h-1zm-4 1h1v1h-1zm5 0h1v1h-1zM889 1183h1v1h-1zm4 0h1v1h-1zm-3 1h1v1h-1zm2 0h1v1h-1zm-1 1h1v1h-1zm-1 1h1v1h-1zm2 0h1v1h-1zm-3 1h1v1h-1zm4 0h1v1h-1zM892 1085h1v1h-1zm4 0h1v1h-1zm-3 1h1v1h-1zm2 0h1v1h-1zm-1 1h1v1h-1zm-1 1h1v1h-1zm2 0h1v1h-1zm-3 1h1v1h-1zm4 0h1v1h-1zM895 1125h1v1h-1zm5 0h1v1h-1zm-4 1h1v1h-1zm3 0h1v1h-1zm-2 1h1v1h-1zm1 0h1v1h-1zm-1 1h1v1h-1zm1 0h1v1h-1zm-2 1h1v1h-1zm3 0h1v1h-1zm-4 1h1v1h-1zm5 0h1v1h-1zM898 1107h1v1h-1zm5 0h1v1h-1zm-4 1h1v1h-1zm3 0h1v1h-1zm-2 1h1v1h-1zm1 0h1v1h-1zm-1 1h1v1h-1zm1 0h1v1h-1zm-2 1h1v1h-1zm3 0h1v1h-1zm-4 1h1v1h-1zm5 0h1v1h-1zM902 1168h1v1h-1zm4 0h1v1h-1zm-3 1h1v1h-1zm2 0h1v1h-1zm-1 1h1v1h-1zm-1 1h1v1h-1zm2 0h1v1h-1zm-3 1h1v1h-1zm4 0h1v1h-1zM905 1144h1v1h-1zm5 0h1v1h-1zm-4 1h1v1h-1zm3 0h1v1h-1zm-2 1h1v1h-1zm1 0h1v1h-1zm-1 1h1v1h-1zm1 0h1v1h-1zm-2 1h1v1h-1zm3 0h1v1h-1zm-4 1h1v1h-1zm5 0h1v1h-1zM908 1186h1v1h-1zm5 0h1v1h-1zm-4 1h1v1h-1zm3 0h1v1h-1zm-2 1h1v1h-1zm1 0h1v1h-1zm-1 1h1v1h-1zm1 0h1v1h-1zm-2 1h1v1h-1zm3 0h1v1h-1zm-4 1h1v1h-1zm5 0h1v1h-1zM912 1195h1v1h-1zm4 0h1v1h-1zm-3 1h1v1h-1zm2 0h1v1h-1zm-1 1h1v1h-1zm-1 1h1v1h-1zm2 0h1v1h-1zm-3 1h1v1h-1zm4 0h1v1h-1zM915 1226h1v1h-1zm4 0h1v1h-1zm-3 1h1v1h-1zm2 0h1v1h-1zm-1 1h1v1h-1zm-1 1h1v1h-1zm2 0h1v1h-1zm-3 1h1v1h-1zm4 0h1v1h-1zM918 1117h1v1h-1zm5 0h1v1h-1zm-4 1h1v1h-1zm3 0h1v1h-1zm-2 1h1v1h-1zm1 0h1v1h-1zm-1 1h1v1h-1zm1 0h1v1h-1zm-2 1h1v1h-1zm3 0h1v1h-1zm-4 1h1v1h-1zm5 0h1v1h-1zM921 1173h1v1h-1zm5 0h1v1h-1zm-4 1h1v1h-1zm3 0h1v1h-1zm-2 1h1v1h-1zm1 0h1v1h-1zm-1 1h1v1h-1zm1 0h1v1h-1zm-2 1h1v1h-1zm3 0h1v1h-1zm-4 1h1v1h-1zm5 0h1v1h-1zM925 1181h1v1h-1zm4 0h1v1h-1zm-3 1h1v1h-1zm2 0h1v1h-1zm-1 1h1v1h-1zm-1 1h1v1h-1zm2 0h1v1h-1zm-3 1h1v1h-1zm4 0h1v1h-1zM928 1288h1v1h-1zm5 0h1v1h-1zm-4 1h1v1h-1zm3 0h1v1h-1zm-2 1h1v1h-1zm1 0h1v1h-1zm-1 1h1v1h-1zm1 0h1v1h-1zm-2 1h1v1h-1zm3 0h1v1h-1zm-4 1h1v1h-1zm5 0h1v1h-1zM931 1204h1v1h-1zm5 0h1v1h-1zm-4 1h1v1h-1zm3 0h1v1h-1zm-2 1h1v1h-1zm1 0h1v1h-1zm-1 1h1v1h-1zm1 0h1v1h-1zm-2 1h1v1h-1zm3 0h1v1h-1zm-4 1h1v1h-1zm5 0h1v1h-1zM934 1223h1v1h-1zm5 0h1v1h-1zm-4 1h1v1h-1zm3 0h1v1h-1zm-2 1h1v1h-1zm1 0h1v1h-1zm-1 1h1v1h-1zm1 0h1v1h-1zm-2 1h1v1h-1zm3 0h1v1h-1zm-4 1h1v1h-1zm5 0h1v1h-1zM938 1137h1v1h-1zm4 0h1v1h-1zm-3 1h1v1h-1zm2 0h1v1h-1zm-1 1h1v1h-1zm-1 1h1v1h-1zm2 0h1v1h-1zm-3 1h1v1h-1zm4 0h1v1h-1zM941 1283h1v1h-1zm5 0h1v1h-1zm-4 1h1v1h-1zm3 0h1v1h-1zm-2 1h1v1h-1zm1 0h1v1h-1zm-1 1h1v1h-1zm1 0h1v1h-1zm-2 1h1v1h-1zm3 0h1v1h-1zm-4 1h1v1h-1zm5 0h1v1h-1zM944 1155h1v1h-1zm5 0h1v1h-1zm-4 1h1v1h-1zm3 0h1v1h-1zm-2 1h1v1h-1zm1 0h1v1h-1zm-1 1h1v1h-1zm1 0h1v1h-1zm-2 1h1v1h-1zm3 0h1v1h-1zm-4 1h1v1h-1zm5 0h1v1h-1zM948 1061h1v1h-1zm4 0h1v1h-1zm-3 1h1v1h-1zm2 0h1v1h-1zm-1 1h1v1h-1zm-1 1h1v1h-1zm2 0h1v1h-1zm-3 1h1v1h-1zm4 0h1v1h-1zM951 1075h1v1h-1zm4 0h1v1h-1zm-3 1h1v1h-1zm2 0h1v1h-1zm-1 1h1v1h-1zm-1 1h1v1h-1zm2 0h1v1h-1zm-3 1h1v1h-1zm4 0h1v1h-1zM954 1099h1v1h-1zm5 0h1v1h-1zm-4 1h1v1h-1zm3 0h1v1h-1zm-2 1h1v1h-1zm1 0h1v1h-1zm-1 1h1v1h-1zm1 0h1v1h-1zm-2 1h1v1h-1zm3 0h1v1h-1zm-4 1h1v1h-1zm5 0h1v1h-1zM957 1251h1v1h-1zm5 0h1v1h-1zm-4 1h1v1h-1zm3 0h1v1h-1zm-2 1h1v1h-1zm1 0h1v1h-1zm-1 1h1v1h-1zm1 0h1v1h-1zm-2 1h1v1h-1zm3 0h1v1h-1zm-4 1h1v1h-1zm5 0h1v1h-1zM961 1097h1v1h-1zm4 0h1v1h-1zm-3 1h1v1h-1zm2 0h1v1h-1zm-1 1h1v1h-1zm-1 1h1v1h-1zm2 0h1v1h-1zm-3 1h1v1h-1zm4 0h1v1h-1zM964 1141h1v1h-1zm5 0h1v1h-1zm-4 1h1v1h-1zm3 0h1v1h-1zm-2 1h1v1h-1zm1 0h1v1h-1zm-1 1h1v1h-1zm1 0h1v1h-1zm-2 1h1v1h-1zm3 0h1v1h-1zm-4 1h1v1h-1zm5 0h1v1h-1zM967 1266h1v1h-1zm5 0h1v1h-1zm-4 1h1v1h-1zm3 0h1v1h-1zm-2 1h1v1h-1zm1 0h1v1h-1zm-1 1h1v1h-1zm1 0h1v1h-1zm-2 1h1v1h-1zm3 0h1v1h-1zm-4 1h1v1h-1zm5 0h1v1h-1zM971 1197h1v1h-1zm4 0h1v1h-1zm-3 1h1v1h-1zm2 0h1v1h-1zm-1 1h1v1h-1zm-1 1h1v1h-1zm2 0h1v1h-1zm-3 1h1v1h-1zm4 0h1v1h-1zM974 1266h1v1h-1zm4 0h1v1h-1zm-3 1h1v1h-1zm2 0h1v1h-1zm-1 1h1v1h-1zm-1 1h1v1h-1zm2 0h1v1h-1zm-3 1h1v1h-1zm4 0h1v1h-1zM977 1129h1v1h-1zm5 0h1v1h-1zm-4 1h1v1h-1zm3 0h1v1h-1zm-2 1h1v1h-1zm1 0h1v1h-1zm-1 1h1v1h-1zm1 0h1v1h-1zm-2 1h1v1h-1zm3 0h1v1h-1zm-4 1h1v1h-1zm5 0h1v1h-1zM980 1158h1v1h-1zm5 0h1v1h-1zm-4 1h1v1h-1zm3 0h1v1h-1zm-2 1h1v1h-1zm1 0h1v1h-1zm-1 1h1v1h-1zm1 0h1v1h-1zm-2 1h1v1h-1zm3 0h1v1h-1zm-4 1h1v1h-1zm5 0h1v1h-1zM984 1247h1v1h-1zm4 0h1v1h-1zm-3 1h1v1h-1zm2 0h1v1h-1zm-1 1h1v1h-1zm-1 1h1v1h-1zm2 0h1v1h-1zm-3 1h1v1h-1zm4 0h1v1h-1zM987 1230h1v1h-1zm5 0h1v1h-1zm-4 1h1v1h-1zm3 0h1v1h-1zm-2 1h1v1h-1zm1 0h1v1h-1zm-1 1h1v1h-1zm1 0h1v1h-1zm-2 1h1v1h-1zm3 0h1v1h-1zm-4 1h1v1h-1zm5 0h1v1h-1zM990 1288h1v1h-1zm5 0h1v1h-1zm-4 1h1v1h-1zm3 0h1v1h-1zm-2 1h1v1h-1zm1 0h1v1h-1zm-1 1h1v1h-1zm1 0h1v1h-1zm-2 1h1v1h-1zm3 0h1v1h-1zm-4 1h1v1h-1zm5 0h1v1h-1zM994 1241h1v1h-1zm4 0h1v1h-1zm-3 1h1v1h-1zm2 0h1v1h-1zm-1 1h1v1h-1zm-1 1h1v1h-1zm2 0h1v1h-1zm-3 1h1v1h-1zm4 0h1v1h-1zM997 1058h1v1h-1zm4 0h1v1h-1zm-3 1h1v1h-1zm2 0h1v1h-1zm-1 1h1v1h-1zm-1 1h1v1h-1zm2 0h1v1h-1zm-3 1h1v1h-1zm4 0h1v1h-1zM1000 1129h1v1h-1zm5 0h1v1h-1zm-4 1h1v1h-1zm3 0h1v1h-1zm-2 1h1v1h-1zm1 0h1v1h-1zm-1 1h1v1h-1zm1 0h1v1h-1zm-2 1h1v1h-1zm3 0h1v1h-1zm-4 1h1v1h-1zm5 0h1v1h-1zM1003 1202h1v1h-1zm5 0h1v1h-1zm-4 1h1v1h-1zm3 0h1v1h-1zm-2 1h1v1h-1zm1 0h1v1h-1zm-1 1h1v1h-1zm1 0h1v1h-1zm-2 1h1v1h-1zm3 0h1v1h-1zm-4 1h1v1h-1zm5 0h1v1h-1zM1007 1223h1v1h-1zm4 0h1v1h-1zm-3 1h1v1h-1zm2 0h1v1h-1zm-1 1h1v1h-1zm-1 1h1v1h-1zm2 0h1v1h-1zm-3 1h1v1h-1zm4 0h1v1h-1zM1010 1170h1v1h-1zm5 0h1v1h-1zm-4 1h1v1h-1zm3 0h1v1h-1zm-2 1h1v1h-1zm1 0h1v1h-1zm-1 1h1v1h-1zm1 0h1v1h-1zm-2 1h1v1h-1zm3 0h1v1h-1zm-4 1h1v1h-1zm5 0h1v1h-1zM1013 1296h1v1h-1zm5 0h1v1h-1zm-4 1h1v1h-1zm3 0h1v1h-1zm-2 1h1v1h-1zm1 0h1v1h-1zm-1 1h1v1h-1zm1 0h1v1h-1zm-2 1h1v1h-1zm3 0h1v1h-1zm-4 1h1v1h-1zm5 0h1v1h-1zM1017 1148h1v1h-1zm4 0h1v1h-1zm-3 1h1v1h-1zm2 0h1v1h-1zm-1 1h1v1h-1zm-1 1h1v1h-1zm2 0h1v1h-1zm-3 1h1v1h-1zm4 0h1v1h-1zM1020 1345h1v1h-1zm4 0h1v1h-1zm-3 1h1v1h-1zm2 0h1v1h-1zm-1 1h1v1h-1zm-1 1h1v1h-1zm2 0h1v1h-1zm-3 1h1v1h-1zm4 0h1v1h-1zM1023 1098h1v1h-1zm5 0h1v1h-1zm-4 1h1v1h-1zm3 0h1v1h-1zm-2 1h1v1h-1zm1 0h1v1h-1zm-1 1h1v1h-1zm1 0h1v1h-1zm-2 1h1v1h-1zm3 0h1v1h-1zm-4 1h1v1h-1zm5 0h1v1h-1zM1026 1030h1v1h-1zm5 0h1v1h-1zm-4 1h1v1h-1zm3 0h1v1h-1zm-2 1h1v1h-1zm1 0h1v1h-1zm-1 1h1v1h-1zm1 0h1v1h-1zm-2 1h1v1h-1zm3 0h1v1h-1zm-4 1h1v1h-1zm5 0h1v1h-1zM1030 1069h1v1h-1zm4 0h1v1h-1zm-3 1h1v1h-1zm2 0h1v1h-1zm-1 1h1v1h-1zm-1 1h1v1h-1zm2 0h1v1h-1zm-3 1h1v1h-1zm4 0h1v1h-1zM1033 1098h1v1h-1zm5 0h1v1h-1zm-4 1h1v1h-1zm3 0h1v1h-1zm-2 1h1v1h-1zm1 0h1v1h-1zm-1 1h1v1h-1zm1 0h1v1h-1zm-2 1h1v1h-1zm3 0h1v1h-1zm-4 1h1v1h-1zm5 0h1v1h-1zM1036 1127h1v1h-1zm5 0h1v1h-1zm-4 1h1v1h-1zm3 0h1v1h-1zm-2 1h1v1h-1zm1 0h1v1h-1zm-1 1h1v1h-1zm1 0h1v1h-1zm-2 1h1v1h-1zm3 0h1v1h-1zm-4 1h1v1h-1zm5 0h1v1h-1zM1039 1198h1v1h-1zm5 0h1v1h-1zm-4 1h1v1h-1zm3 0h1v1h-1zm-2 1h1v1h-1zm1 0h1v1h-1zm-1 1h1v1h-1zm1 0h1v1h-1zm-2 1h1v1h-1zm3 0h1v1h-1zm-4 1h1v1h-1zm5 0h1v1h-1zM1043 1164h1v1h-1zm4 0h1v1h-1zm-3 1h1v1h-1zm2 0h1v1h-1zm-1 1h1v1h-1zm-1 1h1v1h-1zm2 0h1v1h-1zm-3 1h1v1h-1zm4 0h1v1h-1zM1046 1170h1v1h-1zm5 0h1v1h-1zm-4 1h1v1h-1zm3 0h1v1h-1zm-2 1h1v1h-1zm1 0h1v1h-1zm-1 1h1v1h-1zm1 0h1v1h-1zm-2 1h1v1h-1zm3 0h1v1h-1zm-4 1h1v1h-1zm5 0h1v1h-1zM1049 1149h1v1h-1zm5 0h1v1h-1zm-4 1h1v1h-1zm3 0h1v1h-1zm-2 1h1v1h-1zm1 0h1v1h-1zm-1 1h1v1h-1zm1 0h1v1h-1zm-2 1h1v1h-1zm3 0h1v1h-1zm-4 1h1v1h-1zm5 0h1v1h-1zM1053 1218h1v1h-1zm4 0h1v1h-1zm-3 1h1v1h-1zm2 0h1v1h-1zm-1 1h1v1h-1zm-1 1h1v1h-1zm2 0h1v1h-1zm-3 1h1v1h-1zm4 0h1v1h-1zM1056 1153h1v1h-1zm4 0h1v1h-1zm-3 1h1v1h-1zm2 0h1v1h-1zm-1 1h1v1h-1zm-1 1h1v1h-1zm2 0h1v1h-1zm-3 1h1v1h-1zm4 0h1v1h-1zM1059 1275h1v1h-1zm5 0h1v1h-1zm-4 1h1v1h-1zm3 0h1v1h-1zm-2 1h1v1h-1zm1 0h1v1h-1zm-1 1h1v1h-1zm1 0h1v1h-1zm-2 1h1v1h-1zm3 0h1v1h-1zm-4 1h1v1h-1zm5 0h1v1h-1zM1062 1163h1v1h-1zm5 0h1v1h-1zm-4 1h1v1h-1zm3 0h1v1h-1zm-2 1h1v1h-1zm1 0h1v1h-1zm-1 1h1v1h-1zm1 0h1v1h-1zm-2 1h1v1h-1zm3 0h1v1h-1zm-4 1h1v1h-1zm5 0h1v1h-1zM1066 1077h1v1h-1zm4 0h1v1h-1zm-3 1h1v1h-1zm2 0h1v1h-1zm-1 1h1v1h-1zm-1 1h1v1h-1zm2 0h1v1h-1zm-3 1h1v1h-1zm4 0h1v1h-1zM1069 1151h1v1h-1zm5 0h1v1h-1zm-4 1h1v1h-1zm3 0h1v1h-1zm-2 1h1v1h-1zm1 0h1v1h-1zm-1 1h1v1h-1zm1 0h1v1h-1zm-2 1h1v1h-1zm3 0h1v1h-1zm-4 1h1v1h-1zm5 0h1v1h-1zM1072 1176h1v1h-1zm5 0h1v1h-1zm-4 1h1v1h-1zm3 0h1v1h-1zm-2 1h1v1h-1zm1 0h1v1h-1zm-1 1h1v1h-1zm1 0h1v1h-1zm-2 1h1v1h-1zm3 0h1v1h-1zm-4 1h1v1h-1zm5 0h1v1h-1zM1076 1187h1v1h-1zm4 0h1v1h-1zm-3 1h1v1h-1zm2 0h1v1h-1zm-1 1h1v1h-1zm-1 1h1v1h-1zm2 0h1v1h-1zm-3 1h1v1h-1zm4 0h1v1h-1zM1079 1127h1v1h-1zm4 0h1v1h-1zm-3 1h1v1h-1zm2 0h1v1h-1zm-1 1h1v1h-1zm-1 1h1v1h-1zm2 0h1v1h-1zm-3 1h1v1h-1zm4 0h1v1h-1zM1082 1125h1v1h-1zm5 0h1v1h-1zm-4 1h1v1h-1zm3 0h1v1h-1zm-2 1h1v1h-1zm1 0h1v1h-1zm-1 1h1v1h-1zm1 0h1v1h-1zm-2 1h1v1h-1zm3 0h1v1h-1zm-4 1h1v1h-1zm5 0h1v1h-1zM1085 1127h1v1h-1zm5 0h1v1h-1zm-4 1h1v1h-1zm3 0h1v1h-1zm-2 1h1v1h-1zm1 0h1v1h-1zm-1 1h1v1h-1zm1 0h1v1h-1zm-2 1h1v1h-1zm3 0h1v1h-1zm-4 1h1v1h-1zm5 0h1v1h-1zM1089 1141h1v1h-1zm4 0h1v1h-1zm-3 1h1v1h-1zm2 0h1v1h-1zm-1 1h1v1h-1zm-1 1h1v1h-1zm2 0h1v1h-1zm-3 1h1v1h-1zm4 0h1v1h-1zM1092 1252h1v1h-1zm5 0h1v1h-1zm-4 1h1v1h-1zm3 0h1v1h-1zm-2 1h1v1h-1zm1 0h1v1h-1zm-1 1h1v1h-1zm1 0h1v1h-1zm-2 1h1v1h-1zm3 0h1v1h-1zm-4 1h1v1h-1zm5 0h1v1h-1zM1095 1101h1v1h-1zm5 0h1v1h-1zm-4 1h1v1h-1zm3 0h1v1h-1zm-2 1h1v1h-1zm1 0h1v1h-1zm-1 1h1v1h-1zm1 0h1v1h-1zm-2 1h1v1h-1zm3 0h1v1h-1zm-4 1h1v1h-1zm5 0h1v1h-1zM1099 1135h1v1h-1zm4 0h1v1h-1zm-3 1h1v1h-1zm2 0h1v1h-1zm-1 1h1v1h-1zm-1 1h1v1h-1zm2 0h1v1h-1zm-3 1h1v1h-1zm4 0h1v1h-1zM1102 1193h1v1h-1zm4 0h1v1h-1zm-3 1h1v1h-1zm2 0h1v1h-1zm-1 1h1v1h-1zm-1 1h1v1h-1zm2 0h1v1h-1zm-3 1h1v1h-1zm4 0h1v1h-1zM1105 1211h1v1h-1zm5 0h1v1h-1zm-4 1h1v1h-1zm3 0h1v1h-1zm-2 1h1v1h-1zm1 0h1v1h-1zm-1 1h1v1h-1zm1 0h1v1h-1zm-2 1h1v1h-1zm3 0h1v1h-1zm-4 1h1v1h-1zm5 0h1v1h-1zM1108 1255h1v1h-1zm5 0h1v1h-1zm-4 1h1v1h-1zm3 0h1v1h-1zm-2 1h1v1h-1zm1 0h1v1h-1zm-1 1h1v1h-1zm1 0h1v1h-1zm-2 1h1v1h-1zm3 0h1v1h-1zm-4 1h1v1h-1zm5 0h1v1h-1zM1112 1203h1v1h-1zm4 0h1v1h-1zm-3 1h1v1h-1zm2 0h1v1h-1zm-1 1h1v1h-1zm-1 1h1v1h-1zm2 0h1v1h-1zm-3 1h1v1h-1zm4 0h1v1h-1zM1115 1185h1v1h-1zm5 0h1v1h-1zm-4 1h1v1h-1zm3 0h1v1h-1zm-2 1h1v1h-1zm1 0h1v1h-1zm-1 1h1v1h-1zm1 0h1v1h-1zm-2 1h1v1h-1zm3 0h1v1h-1zm-4 1h1v1h-1zm5 0h1v1h-1zM1118 1100h1v1h-1zm5 0h1v1h-1zm-4 1h1v1h-1zm3 0h1v1h-1zm-2 1h1v1h-1zm1 0h1v1h-1zm-1 1h1v1h-1zm1 0h1v1h-1zm-2 1h1v1h-1zm3 0h1v1h-1zm-4 1h1v1h-1zm5 0h1v1h-1zM1122 1181h1v1h-1zm4 0h1v1h-1zm-3 1h1v1h-1zm2 0h1v1h-1zm-1 1h1v1h-1zm-1 1h1v1h-1zm2 0h1v1h-1zm-3 1h1v1h-1zm4 0h1v1h-1zM1125 1139h1v1h-1zm4 0h1v1h-1zm-3 1h1v1h-1zm2 0h1v1h-1zm-1 1h1v1h-1zm-1 1h1v1h-1zm2 0h1v1h-1zm-3 1h1v1h-1zm4 0h1v1h-1zM1128 1145h1v1h-1zm5 0h1v1h-1zm-4 1h1v1h-1zm3 0h1v1h-1zm-2 1h1v1h-1zm1 0h1v1h-1zm-1 1h1v1h-1zm1 0h1v1h-1zm-2 1h1v1h-1zm3 0h1v1h-1zm-4 1h1v1h-1zm5 0h1v1h-1zM1131 1088h1v1h-1zm5 0h1v1h-1zm-4 1h1v1h-1zm3 0h1v1h-1zm-2 1h1v1h-1zm1 0h1v1h-1zm-1 1h1v1h-1zm1 0h1v1h-1zm-2 1h1v1h-1zm3 0h1v1h-1zm-4 1h1v1h-1zm5 0h1v1h-1zM1135 1212h1v1h-1zm4 0h1v1h-1zm-3 1h1v1h-1zm2 0h1v1h-1zm-1 1h1v1h-1zm-1 1h1v1h-1zm2 0h1v1h-1zm-3 1h1v1h-1zm4 0h1v1h-1zM1138 1005h1v1h-1zm5 0h1v1h-1zm-4 1h1v1h-1zm3 0h1v1h-1zm-2 1h1v1h-1zm1 0h1v1h-1zm-1 1h1v1h-1zm1 0h1v1h-1zm-2 1h1v1h-1zm3 0h1v1h-1zm-4 1h1v1h-1zm5 0h1v1h-1zM1141 1228h1v1h-1zm5 0h1v1h-1zm-4 1h1v1h-1zm3 0h1v1h-1zm-2 1h1v1h-1zm1 0h1v1h-1zm-1 1h1v1h-1zm1 0h1v1h-1zm-2 1h1v1h-1zm3 0h1v1h-1zm-4 1h1v1h-1zm5 0h1v1h-1zM1144 1125h1v1h-1zm5 0h1v1h-1zm-4 1h1v1h-1zm3 0h1v1h-1zm-2 1h1v1h-1zm1 0h1v1h-1zm-1 1h1v1h-1zm1 0h1v1h-1zm-2 1h1v1h-1zm3 0h1v1h-1zm-4 1h1v1h-1zm5 0h1v1h-1zM1148 1204h1v1h-1zm4 0h1v1h-1zm-3 1h1v1h-1zm2 0h1v1h-1zm-1 1h1v1h-1zm-1 1h1v1h-1zm2 0h1v1h-1zm-3 1h1v1h-1zm4 0h1v1h-1zM1151 1228h1v1h-1zm5 0h1v1h-1zm-4 1h1v1h-1zm3 0h1v1h-1zm-2 1h1v1h-1zm1 0h1v1h-1zm-1 1h1v1h-1zm1 0h1v1h-1zm-2 1h1v1h-1zm3 0h1v1h-1zm-4 1h1v1h-1zm5 0h1v1h-1zM1154 1186h1v1h-1zm5 0h1v1h-1zm-4 1h1v1h-1zm3 0h1v1h-1zm-2 1h1v1h-1zm1 0h1v1h-1zm-1 1h1v1h-1zm1 0h1v1h-1zm-2 1h1v1h-1zm3 0h1v1h-1zm-4 1h1v1h-1zm5 0h1v1h-1zM1158 1204h1v1h-1zm4 0h1v1h-1zm-3 1h1v1h-1zm2 0h1v1h-1zm-1 1h1v1h-1zm-1 1h1v1h-1zm2 0h1v1h-1zm-3 1h1v1h-1zm4 0h1v1h-1zM1161 1127h1v1h-1zm4 0h1v1h-1zm-3 1h1v1h-1zm2 0h1v1h-1zm-1 1h1v1h-1zm-1 1h1v1h-1zm2 0h1v1h-1zm-3 1h1v1h-1zm4 0h1v1h-1zM1164 1117h1v1h-1zm5 0h1v1h-1zm-4 1h1v1h-1zm3 0h1v1h-1zm-2 1h1v1h-1zm1 0h1v1h-1zm-1 1h1v1h-1zm1 0h1v1h-1zm-2 1h1v1h-1zm3 0h1v1h-1zm-4 1h1v1h-1zm5 0h1v1h-1zM1167 1137h1v1h-1zm5 0h1v1h-1zm-4 1h1v1h-1zm3 0h1v1h-1zm-2 1h1v1h-1zm1 0h1v1h-1zm-1 1h1v1h-1zm1 0h1v1h-1zm-2 1h1v1h-1zm3 0h1v1h-1zm-4 1h1v1h-1zm5 0h1v1h-1zM1171 1097h1v1h-1zm4 0h1v1h-1zm-3 1h1v1h-1zm2 0h1v1h-1zm-1 1h1v1h-1zm-1 1h1v1h-1zm2 0h1v1h-1zm-3 1h1v1h-1zm4 0h1v1h-1zM1174 1114h1v1h-1zm5 0h1v1h-1zm-4 1h1v1h-1zm3 0h1v1h-1zm-2 1h1v1h-1zm1 0h1v1h-1zm-1 1h1v1h-1zm1 0h1v1h-1zm-2 1h1v1h-1zm3 0h1v1h-1zm-4 1h1v1h-1zm5 0h1v1h-1zM1177 1124h1v1h-1zm5 0h1v1h-1zm-4 1h1v1h-1zm3 0h1v1h-1zm-2 1h1v1h-1zm1 0h1v1h-1zm-1 1h1v1h-1zm1 0h1v1h-1zm-2 1h1v1h-1zm3 0h1v1h-1zm-4 1h1v1h-1zm5 0h1v1h-1zM1181 1103h1v1h-1zm4 0h1v1h-1zm-3 1h1v1h-1zm2 0h1v1h-1zm-1 1h1v1h-1zm-1 1h1v1h-1zm2 0h1v1h-1zm-3 1h1v1h-1zm4 0h1v1h-1zM1184 1132h1v1h-1zm4 0h1v1h-1zm-3 1h1v1h-1zm2 0h1v1h-1zm-1 1h1v1h-1zm-1 1h1v1h-1zm2 0h1v1h-1zm-3 1h1v1h-1zm4 0h1v1h-1zM1187 1217h1v1h-1zm5 0h1v1h-1zm-4 1h1v1h-1zm3 0h1v1h-1zm-2 1h1v1h-1zm1 0h1v1h-1zm-1 1h1v1h-1zm1 0h1v1h-1zm-2 1h1v1h-1zm3 0h1v1h-1zm-4 1h1v1h-1zm5 0h1v1h-1zM1190 1214h1v1h-1zm5 0h1v1h-1zm-4 1h1v1h-1zm3 0h1v1h-1zm-2 1h1v1h-1zm1 0h1v1h-1zm-1 1h1v1h-1zm1 0h1v1h-1zm-2 1h1v1h-1zm3 0h1v1h-1zm-4 1h1v1h-1zm5 0h1v1h-1zM1194 1199h1v1h-1zm4 0h1v1h-1zm-3 1h1v1h-1zm2 0h1v1h-1zm-1 1h1v1h-1zm-1 1h1v1h-1zm2 0h1v1h-1zm-3 1h1v1h-1zm4 0h1v1h-1zM1197 1201h1v1h-1zm5 0h1v1h-1zm-4 1h1v1h-1zm3 0h1v1h-1zm-2 1h1v1h-1zm1 0h1v1h-1zm-1 1h1v1h-1zm1 0h1v1h-1zm-2 1h1v1h-1zm3 0h1v1h-1zm-4 1h1v1h-1zm5 0h1v1h-1zM1200 1145h1v1h-1zm5 0h1v1h-1zm-4 1h1v1h-1zm3 0h1v1h-1zm-2 1h1v1h-1zm1 0h1v1h-1zm-1 1h1v1h-1zm1 0h1v1h-1zm-2 1h1v1h-1zm3 0h1v1h-1zm-4 1h1v1h-1zm5 0h1v1h-1zM1204 1132h1v1h-1zm4 0h1v1h-1zm-3 1h1v1h-1zm2 0h1v1h-1zm-1 1h1v1h-1zm-1 1h1v1h-1zm2 0h1v1h-1zm-3 1h1v1h-1zm4 0h1v1h-1zM1207 1144h1v1h-1zm4 0h1v1h-1zm-3 1h1v1h-1zm2 0h1v1h-1zm-1 1h1v1h-1zm-1 1h1v1h-1zm2 0h1v1h-1zm-3 1h1v1h-1zm4 0h1v1h-1zM1210 1126h1v1h-1zm5 0h1v1h-1zm-4 1h1v1h-1zm3 0h1v1h-1zm-2 1h1v1h-1zm1 0h1v1h-1zm-1 1h1v1h-1zm1 0h1v1h-1zm-2 1h1v1h-1zm3 0h1v1h-1zm-4 1h1v1h-1zm5 0h1v1h-1zM1213 1005h1v1h-1zm5 0h1v1h-1zm-4 1h1v1h-1zm3 0h1v1h-1zm-2 1h1v1h-1zm1 0h1v1h-1zm-1 1h1v1h-1zm1 0h1v1h-1zm-2 1h1v1h-1zm3 0h1v1h-1zm-4 1h1v1h-1zm5 0h1v1h-1zM1217 1130h1v1h-1zm4 0h1v1h-1zm-3 1h1v1h-1zm2 0h1v1h-1zm-1 1h1v1h-1zm-1 1h1v1h-1zm2 0h1v1h-1zm-3 1h1v1h-1zm4 0h1v1h-1zM1220 1144h1v1h-1zm5 0h1v1h-1zm-4 1h1v1h-1zm3 0h1v1h-1zm-2 1h1v1h-1zm1 0h1v1h-1zm-1 1h1v1h-1zm1 0h1v1h-1zm-2 1h1v1h-1zm3 0h1v1h-1zm-4 1h1v1h-1zm5 0h1v1h-1zM1223 1060h1v1h-1zm5 0h1v1h-1zm-4 1h1v1h-1zm3 0h1v1h-1zm-2 1h1v1h-1zm1 0h1v1h-1zm-1 1h1v1h-1zm1 0h1v1h-1zm-2 1h1v1h-1zm3 0h1v1h-1zm-4 1h1v1h-1zm5 0h1v1h-1zM1230 1157h1v1h-1zm4 0h1v1h-1zm-3 1h1v1h-1zm2 0h1v1h-1zm-1 1h1v1h-1zm-1 1h1v1h-1zm2 0h1v1h-1zm-3 1h1v1h-1zm4 0h1v1h-1zM1233 1113h1v1h-1zm5 0h1v1h-1zm-4 1h1v1h-1zm3 0h1v1h-1zm-2 1h1v1h-1zm1 0h1v1h-1zm-1 1h1v1h-1zm1 0h1v1h-1zm-2 1h1v1h-1zm3 0h1v1h-1zm-4 1h1v1h-1zm5 0h1v1h-1zM1236 1224h1v1h-1zm5 0h1v1h-1zm-4 1h1v1h-1zm3 0h1v1h-1zm-2 1h1v1h-1zm1 0h1v1h-1zm-1 1h1v1h-1zm1 0h1v1h-1zm-2 1h1v1h-1zm3 0h1v1h-1zm-4 1h1v1h-1zm5 0h1v1h-1zM1240 1104h1v1h-1zm4 0h1v1h-1zm-3 1h1v1h-1zm2 0h1v1h-1zm-1 1h1v1h-1zm-1 1h1v1h-1zm2 0h1v1h-1zm-3 1h1v1h-1zm4 0h1v1h-1zM1243 1031h1v1h-1zm5 0h1v1h-1zm-4 1h1v1h-1zm3 0h1v1h-1zm-2 1h1v1h-1zm1 0h1v1h-1zm-1 1h1v1h-1zm1 0h1v1h-1zm-2 1h1v1h-1zm3 0h1v1h-1zm-4 1h1v1h-1zm5 0h1v1h-1zM1246 1162h1v1h-1zm5 0h1v1h-1zm-4 1h1v1h-1zm3 0h1v1h-1zm-2 1h1v1h-1zm1 0h1v1h-1zm-1 1h1v1h-1zm1 0h1v1h-1zm-2 1h1v1h-1zm3 0h1v1h-1zm-4 1h1v1h-1zm5 0h1v1h-1zM1249 1100h1v1h-1zm5 0h1v1h-1zm-4 1h1v1h-1zm3 0h1v1h-1zm-2 1h1v1h-1zm1 0h1v1h-1zm-1 1h1v1h-1zm1 0h1v1h-1zm-2 1h1v1h-1zm3 0h1v1h-1zm-4 1h1v1h-1zm5 0h1v1h-1zM1253 1028h1v1h-1zm4 0h1v1h-1zm-3 1h1v1h-1zm2 0h1v1h-1zm-1 1h1v1h-1zm-1 1h1v1h-1zm2 0h1v1h-1zm-3 1h1v1h-1zm4 0h1v1h-1zM1256 1183h1v1h-1zm5 0h1v1h-1zm-4 1h1v1h-1zm3 0h1v1h-1zm-2 1h1v1h-1zm1 0h1v1h-1zm-1 1h1v1h-1zm1 0h1v1h-1zm-2 1h1v1h-1zm3 0h1v1h-1zm-4 1h1v1h-1zm5 0h1v1h-1zM1259 1143h1v1h-1zm5 0h1v1h-1zm-4 1h1v1h-1zm3 0h1v1h-1zm-2 1h1v1h-1zm1 0h1v1h-1zm-1 1h1v1h-1zm1 0h1v1h-1zm-2 1h1v1h-1zm3 0h1v1h-1zm-4 1h1v1h-1zm5 0h1v1h-1zM1263 1040h1v1h-1zm4 0h1v1h-1zm-3 1h1v1h-1zm2 0h1v1h-1zm-1 1h1v1h-1zm-1 1h1v1h-1zm2 0h1v1h-1zm-3 1h1v1h-1zm4 0h1v1h-1zM1266 1158h1v1h-1zm4 0h1v1h-1zm-3 1h1v1h-1zm2 0h1v1h-1zm-1 1h1v1h-1zm-1 1h1v1h-1zm2 0h1v1h-1zm-3 1h1v1h-1zm4 0h1v1h-1zM1269 1185h1v1h-1zm5 0h1v1h-1zm-4 1h1v1h-1zm3 0h1v1h-1zm-2 1h1v1h-1zm1 0h1v1h-1zm-1 1h1v1h-1zm1 0h1v1h-1zm-2 1h1v1h-1zm3 0h1v1h-1zm-4 1h1v1h-1zm5 0h1v1h-1zM1272 1157h1v1h-1zm5 0h1v1h-1zm-4 1h1v1h-1zm3 0h1v1h-1zm-2 1h1v1h-1zm1 0h1v1h-1zm-1 1h1v1h-1zm1 0h1v1h-1zm-2 1h1v1h-1zm3 0h1v1h-1zm-4 1h1v1h-1zm5 0h1v1h-1zM1276 1131h1v1h-1zm4 0h1v1h-1zm-3 1h1v1h-1zm2 0h1v1h-1zm-1 1h1v1h-1zm-1 1h1v1h-1zm2 0h1v1h-1zm-3 1h1v1h-1zm4 0h1v1h-1zM1279 1154h1v1h-1zm5 0h1v1h-1zm-4 1h1v1h-1zm3 0h1v1h-1zm-2 1h1v1h-1zm1 0h1v1h-1zm-1 1h1v1h-1zm1 0h1v1h-1zm-2 1h1v1h-1zm3 0h1v1h-1zm-4 1h1v1h-1zm5 0h1v1h-1zM1282 1234h1v1h-1zm5 0h1v1h-1zm-4 1h1v1h-1zm3 0h1v1h-1zm-2 1h1v1h-1zm1 0h1v1h-1zm-1 1h1v1h-1zm1 0h1v1h-1zm-2 1h1v1h-1zm3 0h1v1h-1zm-4 1h1v1h-1zm5 0h1v1h-1zM1286 1098h1v1h-1zm4 0h1v1h-1zm-3 1h1v1h-1zm2 0h1v1h-1zm-1 1h1v1h-1zm-1 1h1v1h-1zm2 0h1v1h-1zm-3 1h1v1h-1zm4 0h1v1h-1zM1289 1019h1v1h-1zm4 0h1v1h-1zm-3 1h1v1h-1zm2 0h1v1h-1zm-1 1h1v1h-1zm-1 1h1v1h-1zm2 0h1v1h-1zm-3 1h1v1h-1zm4 0h1v1h-1zM1292 1073h1v1h-1zm5 0h1v1h-1zm-4 1h1v1h-1zm3 0h1v1h-1zm-2 1h1v1h-1zm1 0h1v1h-1zm-1 1h1v1h-1zm1 0h1v1h-1zm-2 1h1v1h-1zm3 0h1v1h-1zm-4 1h1v1h-1zm5 0h1v1h-1zM1295 1090h1v1h-1zm5 0h1v1h-1zm-4 1h1v1h-1zm3 0h1v1h-1zm-2 1h1v1h-1zm1 0h1v1h-1zm-1 1h1v1h-1zm1 0h1v1h-1zm-2 1h1v1h-1zm3 0h1v1h-1zm-4 1h1v1h-1zm5 0h1v1h-1zM1299 1148h1v1h-1zm4 0h1v1h-1zm-3 1h1v1h-1zm2 0h1v1h-1zm-1 1h1v1h-1zm-1 1h1v1h-1zm2 0h1v1h-1zm-3 1h1v1h-1zm4 0h1v1h-1zM1302 1163h1v1h-1zm5 0h1v1h-1zm-4 1h1v1h-1zm3 0h1v1h-1zm-2 1h1v1h-1zm1 0h1v1h-1zm-1 1h1v1h-1zm1 0h1v1h-1zm-2 1h1v1h-1zm3 0h1v1h-1zm-4 1h1v1h-1zm5 0h1v1h-1zM1305 1217h1v1h-1zm5 0h1v1h-1zm-4 1h1v1h-1zm3 0h1v1h-1zm-2 1h1v1h-1zm1 0h1v1h-1zm-1 1h1v1h-1zm1 0h1v1h-1zm-2 1h1v1h-1zm3 0h1v1h-1zm-4 1h1v1h-1zm5 0h1v1h-1zM1309 1197h1v1h-1zm4 0h1v1h-1zm-3 1h1v1h-1zm2 0h1v1h-1zm-1 1h1v1h-1zm-1 1h1v1h-1zm2 0h1v1h-1zm-3 1h1v1h-1zm4 0h1v1h-1zM1312 1175h1v1h-1zm4 0h1v1h-1zm-3 1h1v1h-1zm2 0h1v1h-1zm-1 1h1v1h-1zm-1 1h1v1h-1zm2 0h1v1h-1zm-3 1h1v1h-1zm4 0h1v1h-1zM1315 1119h1v1h-1zm5 0h1v1h-1zm-4 1h1v1h-1zm3 0h1v1h-1zm-2 1h1v1h-1zm1 0h1v1h-1zm-1 1h1v1h-1zm1 0h1v1h-1zm-2 1h1v1h-1zm3 0h1v1h-1zm-4 1h1v1h-1zm5 0h1v1h-1zM1318 1123h1v1h-1zm5 0h1v1h-1zm-4 1h1v1h-1zm3 0h1v1h-1zm-2 1h1v1h-1zm1 0h1v1h-1zm-1 1h1v1h-1zm1 0h1v1h-1zm-2 1h1v1h-1zm3 0h1v1h-1zm-4 1h1v1h-1zm5 0h1v1h-1zM1322 1109h1v1h-1zm4 0h1v1h-1zm-3 1h1v1h-1zm2 0h1v1h-1zm-1 1h1v1h-1zm-1 1h1v1h-1zm2 0h1v1h-1zm-3 1h1v1h-1zm4 0h1v1h-1zM1325 1068h1v1h-1zm5 0h1v1h-1zm-4 1h1v1h-1zm3 0h1v1h-1zm-2 1h1v1h-1zm1 0h1v1h-1zm-1 1h1v1h-1zm1 0h1v1h-1zm-2 1h1v1h-1zm3 0h1v1h-1zm-4 1h1v1h-1zm5 0h1v1h-1zM1328 1093h1v1h-1zm5 0h1v1h-1zm-4 1h1v1h-1zm3 0h1v1h-1zm-2 1h1v1h-1zm1 0h1v1h-1zm-1 1h1v1h-1zm1 0h1v1h-1zm-2 1h1v1h-1zm3 0h1v1h-1zm-4 1h1v1h-1zm5 0h1v1h-1zM1332 1103h1v1h-1zm4 0h1v1h-1zm-3 1h1v1h-1zm2 0h1v1h-1zm-1 1h1v1h-1zm-1 1h1v1h-1zm2 0h1v1h-1zm-3 1h1v1h-1zm4 0h1v1h-1zM1335 1050h1v1h-1zm4 0h1v1h-1zm-3 1h1v1h-1zm2 0h1v1h-1zm-1 1h1v1h-1zm-1 1h1v1h-1zm2 0h1v1h-1zm-3 1h1v1h-1zm4 0h1v1h-1zM1338 1131h1v1h-1zm5 0h1v1h-1zm-4 1h1v1h-1zm3 0h1v1h-1zm-2 1h1v1h-1zm1 0h1v1h-1zm-1 1h1v1h-1zm1 0h1v1h-1zm-2 1h1v1h-1zm3 0h1v1h-1zm-4 1h1v1h-1zm5 0h1v1h-1zM1341 1150h1v1h-1zm5 0h1v1h-1zm-4 1h1v1h-1zm3 0h1v1h-1zm-2 1h1v1h-1zm1 0h1v1h-1zm-1 1h1v1h-1zm1 0h1v1h-1zm-2 1h1v1h-1zm3 0h1v1h-1zm-4 1h1v1h-1zm5 0h1v1h-1zM1345 1222h1v1h-1zm4 0h1v1h-1zm-3 1h1v1h-1zm2 0h1v1h-1zm-1 1h1v1h-1zm-1 1h1v1h-1zm2 0h1v1h-1zm-3 1h1v1h-1zm4 0h1v1h-1zM1348 1161h1v1h-1zm5 0h1v1h-1zm-4 1h1v1h-1zm3 0h1v1h-1zm-2 1h1v1h-1zm1 0h1v1h-1zm-1 1h1v1h-1zm1 0h1v1h-1zm-2 1h1v1h-1zm3 0h1v1h-1zm-4 1h1v1h-1zm5 0h1v1h-1zM1351 1157h1v1h-1zm5 0h1v1h-1zm-4 1h1v1h-1zm3 0h1v1h-1zm-2 1h1v1h-1zm1 0h1v1h-1zm-1 1h1v1h-1zm1 0h1v1h-1zm-2 1h1v1h-1zm3 0h1v1h-1zm-4 1h1v1h-1zm5 0h1v1h-1zM1354 1152h1v1h-1zm5 0h1v1h-1zm-4 1h1v1h-1zm3 0h1v1h-1zm-2 1h1v1h-1zm1 0h1v1h-1zm-1 1h1v1h-1zm1 0h1v1h-1zm-2 1h1v1h-1zm3 0h1v1h-1zm-4 1h1v1h-1zm5 0h1v1h-1zM1358 1036h1v1h-1zm4 0h1v1h-1zm-3 1h1v1h-1zm2 0h1v1h-1zm-1 1h1v1h-1zm-1 1h1v1h-1zm2 0h1v1h-1zm-3 1h1v1h-1zm4 0h1v1h-1zM1361 1029h1v1h-1zm5 0h1v1h-1zm-4 1h1v1h-1zm3 0h1v1h-1zm-2 1h1v1h-1zm1 0h1v1h-1zm-1 1h1v1h-1zm1 0h1v1h-1zm-2 1h1v1h-1zm3 0h1v1h-1zm-4 1h1v1h-1zm5 0h1v1h-1zM1364 1073h1v1h-1zm5 0h1v1h-1zm-4 1h1v1h-1zm3 0h1v1h-1zm-2 1h1v1h-1zm1 0h1v1h-1zm-1 1h1v1h-1zm1 0h1v1h-1zm-2 1h1v1h-1zm3 0h1v1h-1zm-4 1h1v1h-1zm5 0h1v1h-1zM1368 1180h1v1h-1zm4 0h1v1h-1zm-3 1h1v1h-1zm2 0h1v1h-1zm-1 1h1v1h-1zm-1 1h1v1h-1zm2 0h1v1h-1zm-3 1h1v1h-1zm4 0h1v1h-1zM1371 1210h1v1h-1zm4 0h1v1h-1zm-3 1h1v1h-1zm2 0h1v1h-1zm-1 1h1v1h-1zm-1 1h1v1h-1zm2 0h1v1h-1zm-3 1h1v1h-1zm4 0h1v1h-1zM1374 1092h1v1h-1zm5 0h1v1h-1zm-4 1h1v1h-1zm3 0h1v1h-1zm-2 1h1v1h-1zm1 0h1v1h-1zm-1 1h1v1h-1zm1 0h1v1h-1zm-2 1h1v1h-1zm3 0h1v1h-1zm-4 1h1v1h-1zm5 0h1v1h-1zM1377 1144h1v1h-1zm5 0h1v1h-1zm-4 1h1v1h-1zm3 0h1v1h-1zm-2 1h1v1h-1zm1 0h1v1h-1zm-1 1h1v1h-1zm1 0h1v1h-1zm-2 1h1v1h-1zm3 0h1v1h-1zm-4 1h1v1h-1zm5 0h1v1h-1zM1381 1089h1v1h-1zm4 0h1v1h-1zm-3 1h1v1h-1zm2 0h1v1h-1zm-1 1h1v1h-1zm-1 1h1v1h-1zm2 0h1v1h-1zm-3 1h1v1h-1zm4 0h1v1h-1zM1384 1095h1v1h-1zm5 0h1v1h-1zm-4 1h1v1h-1zm3 0h1v1h-1zm-2 1h1v1h-1zm1 0h1v1h-1zm-1 1h1v1h-1zm1 0h1v1h-1zm-2 1h1v1h-1zm3 0h1v1h-1zm-4 1h1v1h-1zm5 0h1v1h-1zM1387 1058h1v1h-1zm5 0h1v1h-1zm-4 1h1v1h-1zm3 0h1v1h-1zm-2 1h1v1h-1zm1 0h1v1h-1zm-1 1h1v1h-1zm1 0h1v1h-1zm-2 1h1v1h-1zm3 0h1v1h-1zm-4 1h1v1h-1zm5 0h1v1h-1zM1391 1178h1v1h-1zm4 0h1v1h-1zm-3 1h1v1h-1zm2 0h1v1h-1zm-1 1h1v1h-1zm-1 1h1v1h-1zm2 0h1v1h-1zm-3 1h1v1h-1zm4 0h1v1h-1zM1394 1127h1v1h-1zm4 0h1v1h-1zm-3 1h1v1h-1zm2 0h1v1h-1zm-1 1h1v1h-1zm-1 1h1v1h-1zm2 0h1v1h-1zm-3 1h1v1h-1zm4 0h1v1h-1zM1397 1058h1v1h-1zm5 0h1v1h-1zm-4 1h1v1h-1zm3 0h1v1h-1zm-2 1h1v1h-1zm1 0h1v1h-1zm-1 1h1v1h-1zm1 0h1v1h-1zm-2 1h1v1h-1zm3 0h1v1h-1zm-4 1h1v1h-1zm5 0h1v1h-1zM1400 1060h1v1h-1zm5 0h1v1h-1zm-4 1h1v1h-1zm3 0h1v1h-1zm-2 1h1v1h-1zm1 0h1v1h-1zm-1 1h1v1h-1zm1 0h1v1h-1zm-2 1h1v1h-1zm3 0h1v1h-1zm-4 1h1v1h-1zm5 0h1v1h-1zM1404 1068h1v1h-1zm4 0h1v1h-1zm-3 1h1v1h-1zm2 0h1v1h-1zm-1 1h1v1h-1zm-1 1h1v1h-1zm2 0h1v1h-1zm-3 1h1v1h-1zm4 0h1v1h-1zM1407 1127h1v1h-1zm5 0h1v1h-1zm-4 1h1v1h-1zm3 0h1v1h-1zm-2 1h1v1h-1zm1 0h1v1h-1zm-1 1h1v1h-1zm1 0h1v1h-1zm-2 1h1v1h-1zm3 0h1v1h-1zm-4 1h1v1h-1zm5 0h1v1h-1zM1410 1135h1v1h-1zm5 0h1v1h-1zm-4 1h1v1h-1zm3 0h1v1h-1zm-2 1h1v1h-1zm1 0h1v1h-1zm-1 1h1v1h-1zm1 0h1v1h-1zm-2 1h1v1h-1zm3 0h1v1h-1zm-4 1h1v1h-1zm5 0h1v1h-1zM1414 1137h1v1h-1zm4 0h1v1h-1zm-3 1h1v1h-1zm2 0h1v1h-1zm-1 1h1v1h-1zm-1 1h1v1h-1zm2 0h1v1h-1zm-3 1h1v1h-1zm4 0h1v1h-1zM1417 1124h1v1h-1zm4 0h1v1h-1zm-3 1h1v1h-1zm2 0h1v1h-1zm-1 1h1v1h-1zm-1 1h1v1h-1zm2 0h1v1h-1zm-3 1h1v1h-1zm4 0h1v1h-1z"/></g>
<rect x="200" y="939" width="2" height="15" fill="#000"/>
<rect x="200" y="1402" width="2" height="15" fill="#000"/>
<rect x="397" y="939" width="2" height="15" fill="#000"/>
<rect x="397" y="1402" width="2" height="15" fill="#000"/>
<rect x="594" y="939" width="2" height="15" fill="#000"/>
<rect x="594" y="1402" width="2" height="15" fill="#000"/>
<rect x="791" y="939" width="2" height="15" fill="#000"/>
<rect x="791" y="1402" width="2" height="15" fill="#000"/>
<rect x="988" y="939" width="2" height="15" fill="#000"/>
<rect x="988" y="1402" width="2" height="15" fill="#000"/>
<rect x="1185" y="939" width="2" height="15" fill="#000"/>
<rect x="1185" y="1402" width="2" height="15" fill="#000"/>
<rect x="1382" y="939" width="2" height="15" fill="#000"/>
<rect x="1382" y="1402" width="2" height="15" fill="#000"/>
<rect x="161" y="946" width="2" height="8" fill="#000"/>
<rect x="161" y="1402" width="2" height="8" fill="#000"/>
<rect x="240" y="946" width="2" height="8" fill="#000"/>
<rect x="240" y="1402" width="2" height="8" fill="#000"/>
<rect x="279" y="946" width="2" height="8" fill="#000"/>
<rect x="279" y="1402" width="2" height="8" fill="#000"/>
<rect x="319" y="946" width="2" height="8" fill="#000"/>
<rect x="319" y="1402" width="2" height="8" fill="#000"/>
<rect x="358" y="946" width="2" height="8" fill="#000"/>
<rect x="358" y="1402" width="2" height="8" fill="#000"/>
<rect x="437" y="946" width="2" height="8" fill="#000"/>
<rect x="437" y="1402" width="2" height="8" fill="#000"/>
<rect x="476" y="946" width="2" height="8" fill="#000"/>
<rect x="476" y="1402" width="2" height="8" fill="#000"/>
<rect x="515" y="946" width="2" height="8" fill="#000"/>
<rect x="515" y="1402" width="2" height="8" fill="#000"/>
<rect x="555" y="946" width="2" height="8" fill="#000"/>
<rect x="555" y="1402" width="2" height="8" fill="#000"/>
<rect x="633" y="946" width="2" height="8" fill="#000"/>
<rect x="633" y="1402" width="2" height="8" fill="#000"/>
<rect x="673" y="946" width="2" height="8" fill="#000"/>
<rect x="673" y="1402" width="2" height="8" fill="#000"/>
<rect x="712" y="946" width="2" height="8" fill="#000"/>
<rect x="712" y="1402" width="2" height="8" fill="#000"/>
<rect x="752" y="946" width="2" height="8" fill="#000"/>
<rect x="752" y="1402" width="2" height="8" fill="#000"/>
<rect x="830" y="946" width="2" height="8" fill="#000"/>
<rect x="830" y="1402" width="2" height="8" fill="#000"/>
<rect x="870" y="946" width="2" height="8" fill="#000"/>
<rect x="870" y="1402" width="2" height="8" fill="#000"/>
<rect x="909" y="946" width="2" height="8" fill="#000"/>
<rect x="909" y="1402" width="2" height="8" fill="#000"/>
<rect x="949" y="946" width="2" height="8" fill="#000"/>
<rect x="949" y="1402" width="2" height="8" fill="#000"/>
<rect x="1027" y="946" width="2" height="8" fill="#000"/>
<rect x="1027" y="1402" width="2" height="8" fill="#000"/>
<rect x="1067" y="946" width="2" height="8" fill="#000"/>
<rect x="1067" y="1402" width="2" height="8" fill="#000"/>
<rect x="1106" y="946" width="2" height="8" fill="#000"/>
<rect x="1106" y="1402" width="2" height="8" fill="#000"/>
<rect x="1145" y="946" width="2" height="8" fill="#000"/>
<rect x="1145" y="1402" width="2" height="8" fill="#000"/>
<rect x="1224" y="946" width="2" height="8" fill="#000"/>
<rect x="1224" y="1402" width="2" height="8" fill="#000"/>
<rect x="1263" y="946" width="2" height="8" fill="#000"/>
<rect x="1263" y="1402" width="2" height="8" fill="#000"/>
<rect x="1303" y="946" width="2" height="8" fill="#000"/>
<rect x="1303" y="1402" width="2" height="8" fill="#000"/>
<rect x="1342" y="946" width="2" height="8" fill="#000"/>
<rect x="1342" y="1402" width="2" height="8" fill="#000"/>
<rect x="1421" y="946" width="2" height="8" fill="#000"/>
<rect x="1421" y="1402" width="2" height="8" fill="#000"/>
<rect x="148" y="1382" width="15" height="2" fill="#000"/>
<rect x="1421" y="1382" width="15" height="2" fill="#000"/>
<rect x="148" y="1328" width="15" height="2" fill="#000"/>
<rect x="1421" y="1328" width="15" height="2" fill="#000"/>
<rect x="148" y="1273" width="15" height="2" fill="#000"/>
<rect x="1421" y="1273" width="15" height="2" fill="#000"/>
<rect x="148" y="1219" width="15" height="2" fill="#000"/>
<rect x="1421" y="1219" width="15" height="2" fill="#000"/>
<rect x="148" y="1164" width="15" height="2" fill="#000"/>
<rect x="1421" y="1164" width="15" height="2" fill="#000"/>
<rect x="148" y="1109" width="15" height="2" fill="#000"/>
<rect x="1421" y="1109" width="15" height="2" fill="#000"/>
<rect x="148" y="1055" width="15" height="2" fill="#000"/>
<rect x="1421" y="1055" width="15" height="2" fill="#000"/>
<rect x="148" y="1000" width="15" height="2" fill="#000"/>
<rect x="1421" y="1000" width="15" height="2" fill="#000"/>
<text x="201" y="1449" font-size="30" text-anchor="middle" fill="#000">61040</text>
<text x="398" y="1449" font-size="30" text-anchor="middle" fill="#000">61045</text>
<text x="595" y="1449" font-size="30" text-anchor="middle" fill="#000">61050</text>
<text x="792" y="1449" font-size="30" text-anchor="middle" fill="#000">61055</text>
<text x="989" y="1449" font-size="30" text-anchor="middle" fill="#000">61060</text>
<text x="1186" y="1449" font-size="30" text-anchor="middle" fill="#000">61065</text>
<text x="1383" y="1449" font-size="30" text-anchor="middle" fill="#000">61070</text>
<text x="136" y="1393.2" font-size="30" text-anchor="end" fill="#000"><tspan dy="3">−</tspan><tspan dy="-3">0.8</tspan></text>
<text x="136" y="1339.2" font-size="30" text-anchor="end" fill="#000"><tspan dy="3">−</tspan><tspan dy="-3">0.6</tspan></text>
<text x="136" y="1284.2" font-size="30" text-anchor="end" fill="#000"><tspan dy="3">−</tspan><tspan dy="-3">0.4</tspan></text>
<text x="136" y="1230.2" font-size="30" text-anchor="end" fill="#000"><tspan dy="3">−</tspan><tspan dy="-3">0.2</tspan></text>
<text x="136" y="1175.2" font-size="30" text-anchor="end" fill="#000">0.0</text>
<text x="136" y="1120.2" font-size="30" text-anchor="end" fill="#000">0.2</text>
<text x="136" y="1066.2" font-size="30" text-anchor="end" fill="#000">0.4</text>
<text x="136" y="1011.2" font-size="30" text-anchor="end" fill="#000">0.6</text>
<text x="792" y="1481" font-size="30" text-anchor="middle" font-weight="bold" fill="#000">Modified Julian Date</text>
<text x="68.5" y="1178" font-size="30" text-anchor="middle" font-weight="bold" fill="#000" transform="rotate(-90 68.5 1178)">residuals (ns)</text>
<text x="202" y="1381.5" font-size="25" font-weight="bold" xml:space="preserve" id="t2">Max Smoothing Residual: _-357.424_-356.175_-356.751  Sigma= 0.238ns-MeanRmved</text>
</g>
<g id="p3">
<rect x="169" y="1511" width="541" height="1" fill="#000"/>
<rect x="169" y="1961" width="541" height="1" fill="#000"/>
<rect x="169" y="1511" width="1" height="451" fill="#000"/>
<rect x="709" y="1511" width="1" height="451" fill="#000"/>
<rect x="168" y="1497" width="2" height="15" fill="#000"/>
<rect x="168" y="1960" width="2" height="15" fill="#000"/>
<rect x="348" y="1497" width="2" height="15" fill="#000"/>
<rect x="348" y="1960" width="2" height="15" fill="#000"/>
<rect x="528" y="1497" width="2" height="15" fill="#000"/>
<rect x="528" y="1960" width="2" height="15" fill="#000"/>
<rect x="708" y="1497" width="2" height="15" fill="#000"/>
<rect x="708" y="1960" width="2" height="15" fill="#000"/>
<rect x="258" y="1504" width="2" height="8" fill="#000"/>
<rect x="258" y="1960" width="2" height="8" fill="#000"/>
<rect x="438" y="1504" width="2" height="8" fill="#000"/>
<rect x="438" y="1960" width="2" height="8" fill="#000"/>
<rect x="618" y="1504" width="2" height="8" fill="#000"/>
<rect x="618" y="1960" width="2" height="8" fill="#000"/>
<rect x="156" y="1566" width="14" height="2" fill="#000"/>
<rect x="708" y="1566" width="14" height="2" fill="#000"/>
<rect x="156" y="1679" width="14" height="2" fill="#000"/>
<rect x="708" y="1679" width="14" height="2" fill="#000"/>
<rect x="156" y="1791" width="14" height="2" fill="#000"/>
<rect x="708" y="1791" width="14" height="2" fill="#000"/>
<rect x="156" y="1904" width="14" height="2" fill="#000"/>
<rect x="708" y="1904" width="14" height="2" fill="#000"/>
<rect x="162" y="1510" width="8" height="2" fill="#000"/>
<rect x="708" y="1510" width="8" height="2" fill="#000"/>
<rect x="162" y="1622" width="8" height="2" fill="#000"/>
<rect x="708" y="1622" width="8" height="2" fill="#000"/>
<rect x="162" y="1735" width="8" height="2" fill="#000"/>
<rect x="708" y="1735" width="8" height="2" fill="#000"/>
<rect x="162" y="1847" width="8" height="2" fill="#000"/>
<rect x="708" y="1847" width="8" height="2" fill="#000"/>
<rect x="162" y="1960" width="8" height="2" fill="#000"/>
<rect x="708" y="1960" width="8" height="2" fill="#000"/>
<text x="169" y="2007" font-size="30" text-anchor="middle" fill="#000">3</text>
<text x="349" y="2007" font-size="30" text-anchor="middle" fill="#000">4</text>
<text x="529" y="2007" font-size="30" text-anchor="middle" fill="#000">5</text>
<text x="709" y="2007" font-size="30" text-anchor="middle" fill="#000">6</text>
<text x="143" y="1577.2" font-size="30" text-anchor="end" fill="#000"><tspan dy="3">−</tspan><tspan dy="-3">13</tspan></text>
<text x="143" y="1690.2" font-size="30" text-anchor="end" fill="#000"><tspan dy="3">−</tspan><tspan dy="-3">14</tspan></text>
<text x="143" y="1802.2" font-size="30" text-anchor="end" fill="#000"><tspan dy="3">−</tspan><tspan dy="-3">15</tspan></text>
<text x="143" y="1915.2" font-size="30" text-anchor="end" fill="#000"><tspan dy="3">−</tspan><tspan dy="-3">16</tspan></text>
<text x="439" y="2037.5" font-size="30" text-anchor="middle" font-weight="bold" fill="#000">Averaging time, log(<tspan font-family='"Liberation Serif", "DejaVu Serif", serif' font-weight="normal">τ</tspan>) (s)</text>
<text x="83.5" y="1736" font-size="30" font-weight="bold" text-anchor="middle" transform="rotate(-90 83.5 1736)">Modified Allan Deviation (10<tspan font-size="21" dy="-10">-15</tspan><tspan dy="10">)</tspan></text>
<text x="214" y="1546" font-size="17.7" stroke="#000" stroke-width="0.35"><tspan font-family='"Liberation Serif", serif' font-size="19">τ</tspan> = 7200s</text>
<g shape-rendering="geometricPrecision">
<circle cx="323.3" cy="1598" r="6.2"/>
<text x="323.3" y="1586.7" font-size="19.5" text-anchor="middle" font-weight="bold" fill="#f00">53.2</text>
<circle cx="377.5" cy="1650" r="6.2"/>
<text x="377.5" y="1638.7" font-size="19.5" text-anchor="middle" font-weight="bold" fill="#f00">18.3</text>
<circle cx="431.7" cy="1692.5" r="6.2"/>
<text x="431.7" y="1681.2" font-size="19.5" text-anchor="middle" font-weight="bold" fill="#f00">7.7</text>
<circle cx="485.9" cy="1747.5" r="6.2"/>
<text x="485.9" y="1736.2" font-size="19.5" text-anchor="middle" font-weight="bold" fill="#f00">2.5</text>
<circle cx="540.1" cy="1796" r="6.2"/>
<text x="540.1" y="1784.7" font-size="19.5" text-anchor="middle" font-weight="bold" fill="#f00">0.9</text>
<circle cx="594.2" cy="1837" r="6.2"/>
<text x="594.2" y="1825.7" font-size="19.5" text-anchor="middle" font-weight="bold" fill="#f00">0.4</text>
<circle cx="648.4" cy="1875" r="6.2"/>
<text x="648.4" y="1863.7" font-size="19.5" text-anchor="middle" font-weight="bold" fill="#f00">0.2</text>
<clipPath id="c3"><rect x="169" y="1511" width="540" height="450"/></clipPath>
<circle cx="214.9" cy="1961.5" r="4.2" clip-path="url(#c3)"/>
<text x="214.9" y="1950" font-size="19.5" text-anchor="middle" font-weight="bold" fill="#f00">h/2</text>
<circle cx="269.1" cy="1961.5" r="4.2" clip-path="url(#c3)"/>
<text x="269.1" y="1950" font-size="19.5" text-anchor="middle" font-weight="bold" fill="#f00">h</text>
<circle cx="355.0" cy="1961.5" r="4.2" clip-path="url(#c3)"/>
<text x="355.0" y="1950" font-size="19.5" text-anchor="middle" font-weight="bold" fill="#f00">d/8</text>
<circle cx="409.2" cy="1961.5" r="4.2" clip-path="url(#c3)"/>
<text x="409.2" y="1950" font-size="19.5" text-anchor="middle" font-weight="bold" fill="#f00">d/4</text>
<circle cx="463.4" cy="1961.5" r="4.2" clip-path="url(#c3)"/>
<text x="463.4" y="1950" font-size="19.5" text-anchor="middle" font-weight="bold" fill="#f00">d/2</text>
<circle cx="517.6" cy="1961.5" r="4.2" clip-path="url(#c3)"/>
<text x="517.6" y="1950" font-size="19.5" text-anchor="middle" font-weight="bold" fill="#f00">day</text>
<circle cx="603.5" cy="1961.5" r="4.2" clip-path="url(#c3)"/>
<text x="603.5" y="1950" font-size="19.5" text-anchor="middle" font-weight="bold" fill="#f00">ddd</text>
<circle cx="669.7" cy="1961.5" r="4.2" clip-path="url(#c3)"/>
<text x="669.7" y="1950" font-size="19.5" text-anchor="middle" font-weight="bold" fill="#f00">wk</text>
</g></g>
<g id="p4">
<rect x="853" y="1511" width="541" height="1" fill="#000"/>
<rect x="853" y="1961" width="541" height="1" fill="#000"/>
<rect x="853" y="1511" width="1" height="451" fill="#000"/>
<rect x="1393" y="1511" width="1" height="451" fill="#000"/>
<rect x="894" y="1497" width="2" height="15" fill="#000"/>
<rect x="894" y="1960" width="2" height="15" fill="#000"/>
<rect x="1060" y="1497" width="2" height="15" fill="#000"/>
<rect x="1060" y="1960" width="2" height="15" fill="#000"/>
<rect x="1226" y="1497" width="2" height="15" fill="#000"/>
<rect x="1226" y="1960" width="2" height="15" fill="#000"/>
<rect x="1392" y="1497" width="2" height="15" fill="#000"/>
<rect x="1392" y="1960" width="2" height="15" fill="#000"/>
<rect x="977" y="1504" width="2" height="8" fill="#000"/>
<rect x="977" y="1960" width="2" height="8" fill="#000"/>
<rect x="1143" y="1504" width="2" height="8" fill="#000"/>
<rect x="1143" y="1960" width="2" height="8" fill="#000"/>
<rect x="1309" y="1504" width="2" height="8" fill="#000"/>
<rect x="1309" y="1960" width="2" height="8" fill="#000"/>
<rect x="840" y="1600" width="14" height="2" fill="#000"/>
<rect x="1392" y="1600" width="14" height="2" fill="#000"/>
<rect x="840" y="1780" width="14" height="2" fill="#000"/>
<rect x="1392" y="1780" width="14" height="2" fill="#000"/>
<rect x="840" y="1960" width="14" height="2" fill="#000"/>
<rect x="1392" y="1960" width="14" height="2" fill="#000"/>
<rect x="846" y="1510" width="8" height="2" fill="#000"/>
<rect x="1392" y="1510" width="8" height="2" fill="#000"/>
<rect x="846" y="1690" width="8" height="2" fill="#000"/>
<rect x="1392" y="1690" width="8" height="2" fill="#000"/>
<rect x="846" y="1870" width="8" height="2" fill="#000"/>
<rect x="1392" y="1870" width="8" height="2" fill="#000"/>
<text x="895" y="2007" font-size="30" text-anchor="middle" fill="#000">3</text>
<text x="1061" y="2007" font-size="30" text-anchor="middle" fill="#000">4</text>
<text x="1227" y="2007" font-size="30" text-anchor="middle" fill="#000">5</text>
<text x="1393" y="2007" font-size="30" text-anchor="middle" fill="#000">6</text>
<text x="827" y="1611.2" font-size="30" text-anchor="end" fill="#000"><tspan dy="3">−</tspan><tspan dy="-3">9</tspan></text>
<text x="827" y="1791.2" font-size="30" text-anchor="end" fill="#000"><tspan dy="3">−</tspan><tspan dy="-3">10</tspan></text>
<text x="827" y="1971.2" font-size="30" text-anchor="end" fill="#000"><tspan dy="3">−</tspan><tspan dy="-3">11</tspan></text>
<text x="1123" y="2037.5" font-size="30" text-anchor="middle" font-weight="bold" fill="#000">Averaging time, log(<tspan font-family='"Liberation Serif", "DejaVu Serif", serif' font-weight="normal">τ</tspan>) (s)</text>
<text x="767" y="1736" font-size="30" font-weight="bold" text-anchor="middle" transform="rotate(-90 767 1736)">Time deviation (10<tspan font-size="21" dy="-10">-10</tspan><tspan dy="10"> s)</tspan></text>
<g shape-rendering="geometricPrecision">
<circle cx="1036.9" cy="1719" r="6.2"/>
<text x="1036.9" y="1700.7" font-size="17.5" text-anchor="middle" font-weight="bold" fill="#f00">2.2</text>
<circle cx="1086.9" cy="1748" r="6.2"/>
<text x="1086.9" y="1729.7" font-size="17.5" text-anchor="middle" font-weight="bold" fill="#f00">1.5</text>
<circle cx="1136.8" cy="1762" r="6.2"/>
<text x="1136.8" y="1743.7" font-size="17.5" text-anchor="middle" font-weight="bold" fill="#f00">1.3</text>
<circle cx="1186.8" cy="1796.5" r="6.2"/>
<text x="1186.8" y="1778.2" font-size="17.5" text-anchor="middle" font-weight="bold" fill="#f00">0.8</text>
<circle cx="1236.7" cy="1820" r="6.2"/>
<text x="1236.7" y="1801.7" font-size="17.5" text-anchor="middle" font-weight="bold" fill="#f00">0.6</text>
<circle cx="1286.6" cy="1831" r="6.2"/>
<text x="1286.6" y="1812.7" font-size="17.5" text-anchor="middle" font-weight="bold" fill="#f00">0.5</text>
<circle cx="1336.6" cy="1837" r="6.2"/>
<text x="1336.6" y="1818.7" font-size="17.5" text-anchor="middle" font-weight="bold" fill="#f00">0.5</text>
<clipPath id="c4"><rect x="853" y="1511" width="540" height="450"/></clipPath>
<circle cx="937.0" cy="1959.5" r="6.3" clip-path="url(#c4)"/>
<text x="937.0" y="1943" font-size="19.5" text-anchor="middle" font-weight="bold" fill="#f00">h/2</text>
<circle cx="987.0" cy="1959.5" r="6.3" clip-path="url(#c4)"/>
<text x="987.0" y="1943" font-size="19.5" text-anchor="middle" font-weight="bold" fill="#f00">h</text>
<circle cx="1066.1" cy="1959.5" r="6.3" clip-path="url(#c4)"/>
<text x="1066.1" y="1943" font-size="19.5" text-anchor="middle" font-weight="bold" fill="#f00">d/8</text>
<circle cx="1116.1" cy="1959.5" r="6.3" clip-path="url(#c4)"/>
<text x="1116.1" y="1943" font-size="19.5" text-anchor="middle" font-weight="bold" fill="#f00">d/4</text>
<circle cx="1166.0" cy="1959.5" r="6.3" clip-path="url(#c4)"/>
<text x="1166.0" y="1943" font-size="19.5" text-anchor="middle" font-weight="bold" fill="#f00">d/2</text>
<circle cx="1216.0" cy="1959.5" r="6.3" clip-path="url(#c4)"/>
<text x="1216.0" y="1943" font-size="19.5" text-anchor="middle" font-weight="bold" fill="#f00">day</text>
<circle cx="1295.1" cy="1959.5" r="6.3" clip-path="url(#c4)"/>
<text x="1295.1" y="1943" font-size="19.5" text-anchor="middle" font-weight="bold" fill="#f00">ddd</text>
<circle cx="1356.2" cy="1959.5" r="6.3" clip-path="url(#c4)"/>
<text x="1356.2" y="1943" font-size="19.5" text-anchor="middle" font-weight="bold" fill="#f00">wk</text>
</g></g>
</svg>
</body></html>
